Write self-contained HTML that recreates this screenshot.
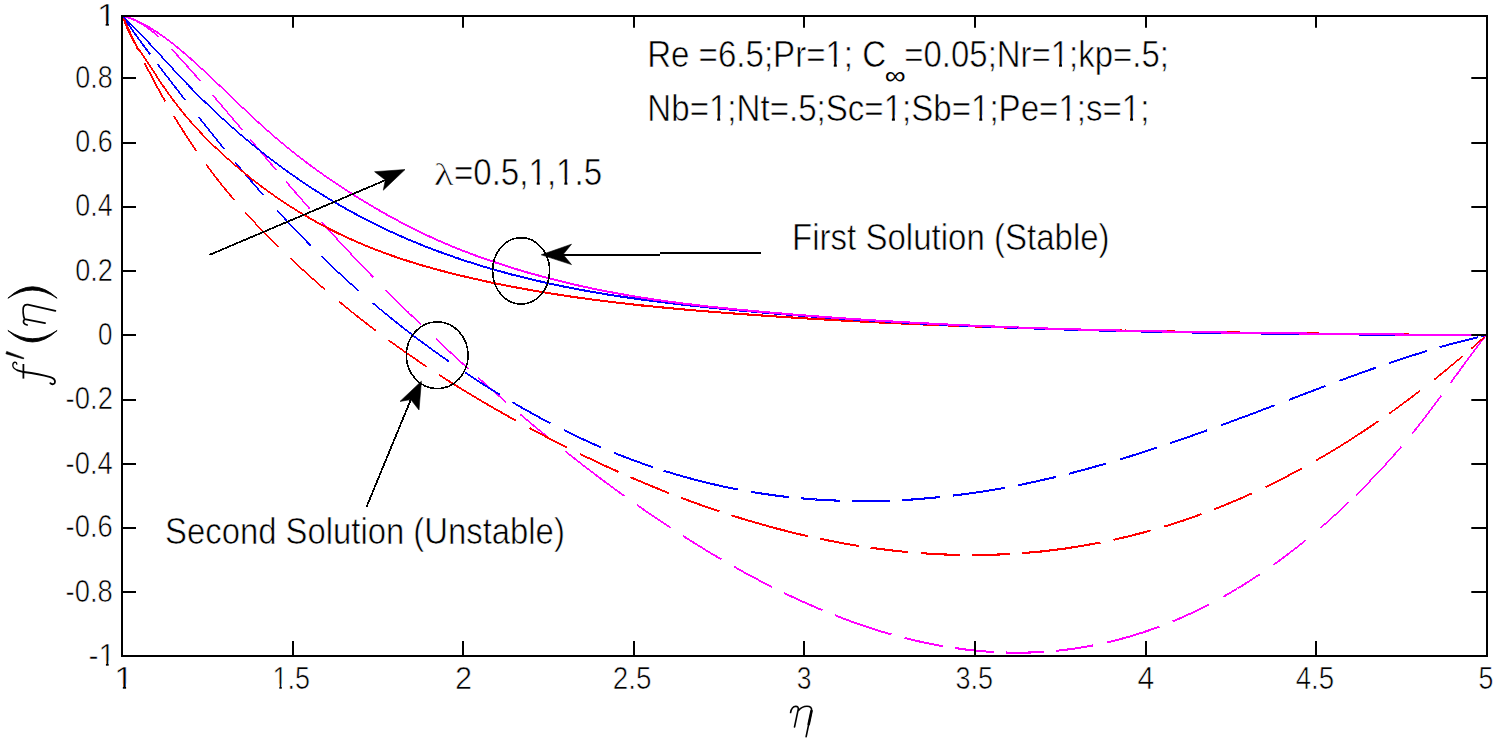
<!DOCTYPE html>
<html><head><meta charset="utf-8"><title>f'(eta) plot</title><style>
html,body{margin:0;padding:0;background:#fff;}
body{width:1499px;height:744px;overflow:hidden;position:relative;}
svg{position:absolute;left:0;top:0;display:block;}
text{font-family:"Liberation Sans",sans-serif;fill:#000;stroke:#fff;stroke-width:0.6px;}
.tk{font-size:27px;}
.an{font-size:34px;}
.ser{font-family:"Liberation Serif",serif;font-style:italic;}
</style></head><body>
<svg width="1499" height="744" viewBox="0 0 1499 744">
<rect x="0" y="0" width="1499" height="744" fill="#fff"/>

<path d="M369.3,273.2 370.1,274.0 370.9,274.9 371.7,275.7 372.5,276.5 M386.0,290.2 386.8,291.0 387.6,291.8 388.4,292.6 389.1,293.4 389.9,294.2 390.7,295.0 391.5,295.7 392.3,296.5 393.1,297.3 393.8,298.1 394.6,298.9 M394.6,298.9 395.4,299.7 396.2,300.4 397.0,301.2 397.8,302.0 398.5,302.8 399.3,303.6 400.1,304.3 400.9,305.1 401.7,305.9 402.5,306.7 403.2,307.4 M403.2,307.4 404.0,308.2 404.8,309.0 405.6,309.7 406.4,310.5 407.2,311.3 408.0,312.0 408.7,312.8 409.5,313.6 410.3,314.3 411.1,315.1 411.9,315.9 M411.9,315.9 412.7,316.6 413.4,317.4 414.2,318.1 415.0,318.9 415.8,319.7 416.6,320.4 417.4,321.2 418.1,321.9 418.9,322.7 419.7,323.5 420.5,324.2 M1356.6,494.6 1357.4,493.8 1358.2,493.0 1359.0,492.2 1359.8,491.4 1360.6,490.7 1361.3,489.9 1362.1,489.1 1362.9,488.3 1363.7,487.5 1364.5,486.7 1365.3,485.9 M1365.3,485.9 1366.1,485.1 1366.9,484.3 1367.7,483.4 1368.5,482.6 1369.3,481.8 1370.0,481.0 1370.8,480.2 1371.6,479.3 1372.4,478.5 1373.2,477.7" fill="none" stroke="#ff00ff" stroke-width="1.45" stroke-linecap="square" shape-rendering="crispEdges"/>
<path d="M172.1,49.8 172.9,50.6 173.7,51.5 174.5,52.3 175.3,53.2 176.1,54.0 176.9,54.9 177.7,55.7 178.5,56.6 179.3,57.4 180.1,58.3 M180.1,58.3 180.9,59.2 181.7,60.1 182.5,60.9 183.3,61.8 184.1,62.7 184.9,63.6 185.7,64.5 186.5,65.4 187.3,66.3 188.1,67.1 M321.9,222.4 322.7,223.3 323.5,224.2 324.3,225.0 325.1,225.9 325.9,226.8 326.6,227.7 327.4,228.5 328.2,229.4 329.0,230.3 329.8,231.1 M329.8,231.1 330.6,232.0 331.4,232.9 332.2,233.7 333.0,234.6 333.8,235.5 334.5,236.3 335.3,237.2 336.1,238.0 336.9,238.9 337.7,239.8 M337.7,239.8 338.5,240.6 339.3,241.5 340.1,242.3 340.9,243.2 341.7,244.0 342.5,244.9 343.2,245.7 344.0,246.6 344.8,247.4 345.6,248.3 M345.6,248.3 346.4,249.1 347.2,250.0 348.0,250.8 348.8,251.7 349.6,252.5 350.4,253.3 351.2,254.2 351.9,255.0 352.7,255.9 353.5,256.7 M353.5,256.7 354.3,257.5 355.1,258.4 355.9,259.2 356.7,260.0 357.5,260.9 358.3,261.7 359.1,262.5 359.9,263.4 360.6,264.2 361.4,265.0 M361.4,265.0 362.2,265.8 363.0,266.7 363.8,267.5 364.6,268.3 365.4,269.1 366.2,269.9 367.0,270.8 367.8,271.6 368.5,272.4 369.3,273.2 M436.5,339.4 437.3,340.2 438.1,340.9 438.8,341.6 439.6,342.4 440.4,343.1 441.2,343.8 442.0,344.6 442.8,345.3 443.5,346.0 444.3,346.8 445.1,347.5 M445.1,347.5 445.9,348.2 446.7,348.9 447.5,349.7 448.2,350.4 449.0,351.1 449.8,351.8 450.6,352.6 451.4,353.3 452.1,354.0 452.9,354.7 453.7,355.5 M453.7,355.5 454.5,356.2 455.3,356.9 456.1,357.6 456.8,358.3 457.6,359.1 458.4,359.8 459.2,360.5 460.0,361.2 460.8,361.9 461.5,362.6 462.3,363.3 M462.3,363.3 463.1,364.1 463.9,364.8 464.7,365.5 465.5,366.2 466.2,366.9 467.0,367.6 467.8,368.3 M1329.7,519.8 1330.5,519.1 1331.3,518.3 1332.1,517.6 1332.9,516.9 1333.7,516.2 1334.5,515.5 1335.3,514.8 1336.1,514.0 1336.9,513.3 1337.7,512.6 1338.5,511.9 M1338.5,511.9 1339.3,511.1 1340.1,510.4 1340.9,509.6 1341.6,508.9 1342.4,508.2 1343.2,507.4 1344.0,506.7 1344.8,505.9 1345.6,505.2 1346.4,504.4 1347.2,503.7 M1347.2,503.7 1348.0,502.9 M1373.2,477.7 1374.0,476.9 1374.8,476.0 1375.6,475.2 1376.4,474.4 1377.2,473.5 1378.0,472.7 1378.8,471.8 1379.5,471.0 1380.3,470.1 1381.1,469.3 M1381.1,469.3 1381.9,468.4 1382.7,467.6 1383.5,466.7 1384.3,465.8 1385.1,465.0 1385.9,464.1 1386.7,463.2 1387.5,462.3 1388.2,461.5 1389.0,460.6" fill="none" stroke="#ff00ff" stroke-width="1.50" stroke-linecap="square" shape-rendering="crispEdges"/>
<path d="M157.4,35.7 158.2,36.4 M188.1,67.1 188.9,68.0 189.7,68.9 190.5,69.8 191.3,70.7 192.1,71.6 192.9,72.5 193.7,73.4 194.5,74.3 195.3,75.3 M195.3,75.3 196.1,76.2 196.9,77.1 197.7,78.0 198.5,78.9 199.3,79.8 200.1,80.7 M213.0,95.6 213.8,96.5 214.6,97.4 215.4,98.3 216.1,99.2 216.9,100.1 217.7,101.0 218.5,102.0 219.3,102.9 220.1,103.8 M220.1,103.8 220.9,104.7 221.7,105.6 222.4,106.6 223.2,107.5 224.0,108.4 224.8,109.3 225.6,110.2 226.4,111.2 227.2,112.1 M227.2,112.1 227.9,113.0 228.7,113.9 229.5,114.9 230.3,115.8 231.1,116.7 231.9,117.6 232.7,118.6 233.4,119.5 234.2,120.4 M234.2,120.4 235.0,121.3 235.8,122.3 236.6,123.2 237.4,124.1 238.2,125.1 239.0,126.0 239.7,126.9 240.5,127.8 241.3,128.8 M241.3,128.8 242.1,129.7 M250.9,140.1 251.7,141.1 252.5,142.0 253.3,143.0 254.1,143.9 254.9,144.9 255.7,145.8 256.5,146.8 257.3,147.7 258.1,148.6 M258.1,148.6 258.9,149.6 259.7,150.5 260.5,151.5 261.3,152.4 262.1,153.4 262.9,154.3 263.7,155.3 264.5,156.2 265.3,157.2 M265.3,157.2 266.1,158.1 266.9,159.0 267.7,160.0 268.5,160.9 269.3,161.9 270.1,162.8 270.9,163.8 271.7,164.7 272.5,165.7 M272.5,165.7 273.3,166.6 274.1,167.5 274.9,168.5 275.7,169.4 M286.4,181.9 287.2,182.9 288.0,183.8 288.7,184.7 289.5,185.6 290.3,186.5 291.1,187.4 291.9,188.3 292.7,189.2 293.4,190.1 M293.4,190.1 294.2,191.0 295.0,191.9 295.8,192.8 296.6,193.7 297.4,194.6 298.1,195.5 298.9,196.4 299.7,197.3 300.5,198.2 M300.5,198.2 301.3,199.1 302.1,200.0 302.8,200.9 303.6,201.8 304.4,202.7 305.2,203.6 306.0,204.5 306.8,205.4 307.5,206.3 M307.5,206.3 308.3,207.2 309.1,208.1 M478.5,377.9 479.3,378.7 480.1,379.4 480.9,380.1 481.7,380.8 482.5,381.5 483.2,382.2 484.0,382.9 484.8,383.6 485.6,384.3 486.4,385.0 487.2,385.7 M487.2,385.7 488.0,386.4 488.8,387.1 489.6,387.8 490.4,388.5 491.2,389.2 491.9,389.9 492.7,390.6 493.5,391.3 494.3,392.0 495.1,392.6 495.9,393.3 M495.9,393.3 496.7,394.0 497.5,394.7 498.3,395.4 499.1,396.1 499.9,396.8 500.7,397.5 501.4,398.2 502.2,398.9 503.0,399.5 503.8,400.2 504.6,400.9 M504.6,400.9 505.4,401.6 M520.6,414.6 521.4,415.3 522.2,415.9 522.9,416.6 523.7,417.2 524.5,417.9 525.3,418.6 526.1,419.2 526.9,419.9 527.6,420.5 528.4,421.2 529.2,421.8 M1321.0,527.4 1321.8,526.7 1322.6,526.0 1323.4,525.4 1324.2,524.7 1325.0,524.0 1325.8,523.3 1326.6,522.6 1327.4,521.9 1328.1,521.2 1328.9,520.5 1329.7,519.8 M1389.0,460.6 1389.8,459.7 1390.6,458.8 1391.4,457.9 1392.2,457.0 1393.0,456.2 1393.8,455.3 1394.6,454.4 1395.4,453.5 1396.2,452.6 M1396.2,452.6 1396.9,451.6 1397.7,450.7 1398.5,449.8 1399.3,448.9 1400.1,448.0 1400.9,447.1" fill="none" stroke="#ff00ff" stroke-width="1.55" stroke-linecap="square" shape-rendering="crispEdges"/>
<path d="M148.7,28.7 149.5,29.3 150.3,29.9 151.1,30.5 151.9,31.1 152.7,31.7 153.5,32.4 154.2,33.0 155.0,33.7 155.8,34.4 156.6,35.0 157.4,35.7 M529.2,421.8 530.0,422.5 530.8,423.2 531.6,423.8 532.3,424.5 533.1,425.1 533.9,425.8 534.7,426.4 535.5,427.1 536.2,427.7 537.0,428.4 537.8,429.0 M537.8,429.0 538.6,429.7 539.4,430.3 540.2,430.9 540.9,431.6 541.7,432.2 542.5,432.9 543.3,433.5 544.1,434.2 544.9,434.8 545.6,435.4 546.4,436.1 M546.4,436.1 547.2,436.7 548.0,437.4 548.8,438.0 549.6,438.6 550.3,439.3 551.1,439.9 551.9,440.5 M565.8,451.7 566.6,452.3 567.4,452.9 568.2,453.6 569.0,454.2 569.8,454.8 570.6,455.4 571.4,456.1 572.2,456.7 573.0,457.3 573.8,457.9 574.6,458.6 M574.6,458.6 575.4,459.2 576.1,459.8 576.9,460.4 577.7,461.1 578.5,461.7 579.3,462.3 580.1,462.9 580.9,463.5 581.7,464.1 582.5,464.8 583.3,465.4 M1291.4,551.5 1292.2,550.9 1293.0,550.3 1293.8,549.7 1294.6,549.0 1295.4,548.4 1296.2,547.8 1297.0,547.2 1297.8,546.5 1298.6,545.9 1299.4,545.3 1300.2,544.6 M1300.2,544.6 1301.0,544.0 1301.8,543.4 1302.6,542.7 1303.4,542.1 1304.2,541.4 1305.0,540.8 M1412.8,432.9 1413.6,431.9 1414.4,430.9 1415.2,429.9 1416.0,428.9 1416.8,427.9 1417.6,426.9 1418.4,425.9 1419.2,424.8 M1419.2,424.8 1420.0,423.8 1420.8,422.8 1421.6,421.8 1422.4,420.7 1423.2,419.7 1424.0,418.7 1424.8,417.6 1425.6,416.6 M1476.5,347.8 1477.2,346.8 1478.0,345.7 1478.8,344.7 1479.6,343.7 1480.4,342.6 1481.2,341.6 1482.0,340.6 1482.8,339.5 M1482.8,339.5 1483.6,338.5 1484.4,337.5 1485.2,336.5 1486.0,335.5" fill="none" stroke="#ff00ff" stroke-width="1.60" stroke-linecap="square" shape-rendering="crispEdges"/>
<path d="M583.3,465.4 584.1,466.0 584.9,466.6 585.7,467.2 586.5,467.8 587.3,468.4 588.1,469.0 588.9,469.7 589.7,470.3 590.5,470.9 591.3,471.5 592.1,472.1 M592.1,472.1 592.9,472.7 593.7,473.3 594.5,473.9 595.2,474.5 596.0,475.1 596.8,475.7 597.6,476.3 598.4,476.9 599.2,477.5 600.0,478.1 600.8,478.7 M600.8,478.7 601.6,479.3 602.4,479.9 603.2,480.5 604.0,481.1 604.8,481.7 605.6,482.3 606.4,482.8 607.2,483.4 608.0,484.0 608.8,484.6 609.6,485.2 M609.6,485.2 610.4,485.8 611.2,486.4 612.0,487.0 612.8,487.5 613.6,488.1 614.3,488.7 615.1,489.3 615.9,489.9 616.7,490.5 617.5,491.0 618.3,491.6 M618.3,491.6 619.1,492.2 619.9,492.8 620.7,493.4 621.5,493.9 622.3,494.5 623.1,495.1 623.9,495.7 M1273.9,564.5 1274.7,563.9 1275.5,563.4 1276.3,562.8 1277.1,562.2 1277.9,561.6 1278.7,561.1 1279.5,560.5 1280.3,559.9 1281.1,559.3 1281.9,558.7 1282.7,558.1 M1282.7,558.1 1283.5,557.5 1284.3,556.9 1285.1,556.3 1285.9,555.7 1286.7,555.1 1287.5,554.5 1288.3,553.9 1289.1,553.3 1289.8,552.7 1290.6,552.1 1291.4,551.5 M1425.6,416.6 1426.4,415.5 1427.2,414.5 1428.0,413.4 1428.8,412.4 1429.6,411.3 1430.4,410.2 1431.2,409.2 1432.0,408.1 M1432.0,408.1 1432.8,407.0 1433.6,406.0 1434.4,404.9 1435.2,403.8 1436.0,402.7 1436.8,401.7 1437.6,400.6 1438.4,399.5 M1438.4,399.5 1439.2,398.4 1440.0,397.3 1440.8,396.2 M1451.0,382.3 1451.8,381.2 1452.6,380.1 1453.4,379.0 1454.2,377.9 1455.0,376.8 1455.8,375.7 1456.6,374.6 1457.4,373.6 M1457.4,373.6 1458.2,372.5 1459.0,371.4 1459.8,370.3 1460.5,369.2 1461.3,368.1 1462.1,367.0 1462.9,366.0 1463.7,364.9 M1463.7,364.9 1464.5,363.8 1465.3,362.7 1466.1,361.6 1466.9,360.6 1467.7,359.5 1468.5,358.4 1469.3,357.3 1470.1,356.3 M1470.1,356.3 1470.9,355.2 1471.7,354.1 1472.5,353.1 1473.3,352.0 1474.1,351.0 1474.9,349.9 1475.7,348.9 1476.5,347.8" fill="none" stroke="#ff00ff" stroke-width="1.65" stroke-linecap="square" shape-rendering="crispEdges"/>
<path d="M140.0,22.9 140.8,23.3 141.6,23.8 142.4,24.3 143.2,24.8 144.0,25.3 144.8,25.9 145.5,26.4 146.3,27.0 147.1,27.5 147.9,28.1 148.7,28.7 M637.7,505.5 638.5,506.0 639.3,506.6 640.1,507.1 640.9,507.7 641.6,508.2 642.4,508.8 643.2,509.3 644.0,509.9 644.8,510.4 645.6,510.9 646.4,511.5 M646.4,511.5 647.2,512.0 647.9,512.6 648.7,513.1 649.5,513.7 650.3,514.2 651.1,514.7 651.9,515.3 652.7,515.8 653.5,516.4 654.2,516.9 655.0,517.4 M655.0,517.4 655.8,518.0 656.6,518.5 657.4,519.0 658.2,519.6 659.0,520.1 659.8,520.6 660.5,521.1 661.3,521.7 662.1,522.2 662.9,522.7 663.7,523.3 M663.7,523.3 664.5,523.8 665.3,524.3 666.1,524.8 666.8,525.3 667.6,525.9 668.4,526.4 669.2,526.9 670.0,527.4 M1250.2,580.6 1251.0,580.1 1251.8,579.6 1252.6,579.0 1253.3,578.5 1254.1,578.0 1254.9,577.5 1255.7,577.0 1256.5,576.4 1257.3,575.9 1258.1,575.4 1258.9,574.9" fill="none" stroke="#ff00ff" stroke-width="1.70" stroke-linecap="square" shape-rendering="crispEdges"/>
<path d="M683.9,536.4 684.7,537.0 685.5,537.5 686.3,538.0 687.1,538.5 687.9,539.0 688.7,539.5 689.5,540.0 690.3,540.5 691.1,541.0 691.9,541.5 692.7,542.0 M692.7,542.0 693.5,542.5 694.3,543.0 695.1,543.5 695.9,544.0 696.7,544.5 697.5,545.0 698.3,545.5 699.1,546.0 699.9,546.5 700.7,547.0 701.5,547.4 M701.5,547.4 702.2,547.9 703.0,548.4 703.8,548.9 704.6,549.4 705.4,549.9 706.2,550.4 707.0,550.9 707.8,551.3 708.6,551.8 709.4,552.3 710.2,552.8 M710.2,552.8 711.0,553.3 711.8,553.7 712.6,554.2 713.4,554.7 714.2,555.2 715.0,555.6 715.8,556.1 716.6,556.6 717.4,557.1 718.2,557.5 719.0,558.0 M719.0,558.0 719.8,558.5 720.6,558.9 M1232.7,591.3 1233.5,590.8 1234.3,590.4 1235.1,589.9 1235.9,589.4 1236.7,588.9 1237.5,588.5 1238.3,588.0 1239.1,587.5 1239.9,587.0 1240.7,586.5 1241.5,586.1 M1241.5,586.1 1242.2,585.6 1243.0,585.1 1243.8,584.6 1244.6,584.1 1245.4,583.6 1246.2,583.1 1247.0,582.6 1247.8,582.1 1248.6,581.6 1249.4,581.1 1250.2,580.6" fill="none" stroke="#ff00ff" stroke-width="1.75" stroke-linecap="square" shape-rendering="crispEdges"/>
<path d="M734.5,566.9 735.3,567.4 736.1,567.8 736.9,568.3 737.7,568.7 738.5,569.2 739.3,569.6 740.1,570.1 740.9,570.5 741.7,570.9 742.5,571.4 743.3,571.8 M743.3,571.8 744.0,572.3 744.8,572.7 745.6,573.1 746.4,573.6 747.2,574.0 748.0,574.4 748.8,574.9 749.6,575.3 750.4,575.7 751.2,576.2 752.0,576.6 M752.0,576.6 752.8,577.0 753.6,577.4 754.4,577.9 755.2,578.3 756.0,578.7 756.8,579.1 757.6,579.5 758.4,580.0 759.2,580.4 760.0,580.8 760.8,581.2 M760.8,581.2 761.6,581.6 762.3,582.0 763.1,582.5 763.9,582.9 764.7,583.3 765.5,583.7 766.3,584.1 767.1,584.5 767.9,584.9 768.7,585.3 769.5,585.7 M1224.0,596.3 1224.8,595.9 1225.6,595.4 1226.4,595.0 1227.2,594.5 1228.0,594.1 1228.8,593.6 1229.6,593.2 1230.3,592.7 1231.1,592.2 1231.9,591.8 1232.7,591.3" fill="none" stroke="#ff00ff" stroke-width="1.80" stroke-linecap="square" shape-rendering="crispEdges"/>
<path d="M131.3,18.6 132.1,18.9 132.9,19.2 133.7,19.6 134.5,19.9 135.3,20.3 136.0,20.7 136.8,21.1 137.6,21.5 138.4,22.0 139.2,22.4 140.0,22.9 M769.5,585.7 770.3,586.1 771.1,586.5 M785.0,593.4 785.8,593.8 786.6,594.2 787.4,594.5 788.2,594.9 789.0,595.3 789.8,595.7 790.6,596.1 791.3,596.4 792.1,596.8 792.9,597.2 793.7,597.5 M793.7,597.5 794.5,597.9 795.3,598.3 796.1,598.7 796.9,599.0 797.7,599.4 798.5,599.8 799.3,600.1 800.1,600.5 800.9,600.8 801.7,601.2 802.5,601.6 M802.5,601.6 803.2,601.9 804.0,602.3 804.8,602.6 805.6,603.0 806.4,603.3 807.2,603.7 808.0,604.0 808.8,604.4 809.6,604.7 810.4,605.1 811.2,605.4 M1182.2,617.3 1183.0,616.9 1183.8,616.6 1184.6,616.2 1185.4,615.9 1186.2,615.5 1187.0,615.1 1187.8,614.8 1188.6,614.4 1189.4,614.1 1190.2,613.7 1191.0,613.3 M1191.0,613.3 1191.7,612.9 1192.5,612.6 1193.3,612.2 1194.1,611.8 1194.9,611.4 1195.7,611.1 1196.5,610.7 1197.3,610.3 1198.1,609.9 1198.9,609.5 1199.7,609.1 M1199.7,609.1 1200.5,608.7 1201.3,608.3 1202.1,607.9 1202.9,607.5 1203.7,607.1 1204.5,606.7 1205.3,606.3 1206.1,605.9 1206.9,605.5 1207.7,605.1 1208.5,604.7" fill="none" stroke="#ff00ff" stroke-width="1.85" stroke-linecap="square" shape-rendering="crispEdges"/>
<path d="M811.2,605.4 812.0,605.8 812.8,606.1 813.6,606.5 814.4,606.8 815.2,607.2 815.9,607.5 816.7,607.8 817.5,608.2 818.3,608.5 819.1,608.8 819.9,609.2 M819.9,609.2 820.7,609.5 821.5,609.8 M835.8,615.6 836.6,615.9 837.4,616.2 838.2,616.6 839.0,616.9 839.8,617.2 840.6,617.5 841.3,617.8 842.1,618.1 842.9,618.4 843.7,618.7 844.5,619.0 M844.5,619.0 845.3,619.3 846.1,619.6 846.9,619.9 847.7,620.1 848.5,620.4 849.3,620.7 850.1,621.0 850.9,621.3 851.7,621.6 852.4,621.9 853.2,622.2 M1173.4,621.0 1174.2,620.7 1175.0,620.4 1175.8,620.0 1176.6,619.7 1177.4,619.4 1178.2,619.0 1179.0,618.7 1179.8,618.3 1180.6,618.0 1181.4,617.6 1182.2,617.3" fill="none" stroke="#ff00ff" stroke-width="1.90" stroke-linecap="square" shape-rendering="crispEdges"/>
<path d="M122.6,16.0 123.4,16.2 124.2,16.3 125.0,16.5 125.8,16.7 126.6,16.9 127.3,17.2 128.1,17.4 128.9,17.7 129.7,18.0 130.5,18.3 131.3,18.6 M853.2,622.2 854.0,622.4 854.8,622.7 855.6,623.0 856.4,623.3 857.2,623.6 858.0,623.8 858.8,624.1 859.6,624.4 860.4,624.7 861.2,624.9 862.0,625.2 M862.0,625.2 862.8,625.5 863.5,625.8 864.3,626.0 865.1,626.3 865.9,626.6 866.7,626.8 867.5,627.1 868.3,627.3 869.1,627.6 869.9,627.9 870.7,628.1 M870.7,628.1 871.5,628.4 872.3,628.6 873.1,628.9 873.9,629.1 874.6,629.4 875.4,629.6 876.2,629.9 877.0,630.1 877.8,630.4 878.6,630.6 879.4,630.9 M879.4,630.9 880.2,631.1 881.0,631.4 881.8,631.6 882.6,631.8 883.4,632.1 884.2,632.3 885.0,632.5 885.7,632.8 886.5,633.0 887.3,633.2 888.1,633.5 M888.1,633.5 888.9,633.7 889.7,633.9 890.5,634.1 M1125.3,637.8 1126.1,637.5 1126.9,637.3 1127.7,637.1 1128.5,636.9 1129.2,636.6 1130.0,636.4 1130.8,636.2 1131.6,635.9 1132.4,635.7 1133.2,635.5 1134.0,635.2 M1134.0,635.2 1134.8,635.0 1135.6,634.7 1136.4,634.5 1137.2,634.2 1137.9,634.0 1138.7,633.7 1139.5,633.5 1140.3,633.2 1141.1,633.0 1141.9,632.7 1142.7,632.5 M1142.7,632.5 1143.5,632.2 1144.3,631.9 1145.1,631.7 1145.8,631.4 1146.6,631.1 1147.4,630.9 1148.2,630.6 1149.0,630.3 1149.8,630.1 1150.6,629.8 1151.4,629.5 M1151.4,629.5 1152.2,629.2 1153.0,628.9 1153.8,628.7 1154.5,628.4 1155.3,628.1 1156.1,627.8 1156.9,627.5 1157.7,627.2 1158.5,626.9" fill="none" stroke="#ff00ff" stroke-width="1.95" stroke-linecap="square" shape-rendering="crispEdges"/>
<path d="M905.5,638.2 906.3,638.4 907.1,638.6 907.9,638.8 908.7,639.0 909.5,639.2 910.3,639.4 911.1,639.6 911.9,639.7 912.7,639.9 913.5,640.1 914.3,640.3 M914.3,640.3 915.0,640.5 915.8,640.7 916.6,640.9 917.4,641.1 918.2,641.2 919.0,641.4 919.8,641.6 920.6,641.8 921.4,641.9 922.2,642.1 923.0,642.3 M923.0,642.3 923.8,642.5 924.6,642.6 925.4,642.8 926.2,643.0 927.0,643.1 927.8,643.3 928.6,643.5 929.4,643.6 930.2,643.8 931.0,643.9 931.8,644.1 M931.8,644.1 932.6,644.3 933.3,644.4 934.1,644.6 934.9,644.7 935.7,644.9 936.5,645.0 937.3,645.2 938.1,645.3 938.9,645.5 939.7,645.6 940.5,645.7 M940.5,645.7 941.3,645.9 942.1,646.0 M1074.9,648.5 1075.7,648.4 1076.5,648.3 1077.3,648.1 1078.1,648.0 1078.9,647.9 1079.7,647.8 1080.5,647.7 1081.3,647.5 1082.1,647.4 1082.9,647.3 1083.7,647.1 M1083.7,647.1 1084.4,647.0 1085.2,646.9 1086.0,646.7 1086.8,646.6 1087.6,646.4 1088.4,646.3 1089.2,646.1 1090.0,646.0 1090.8,645.8 1091.6,645.7 1092.4,645.5 M1107.9,642.2 1108.7,642.1 1109.5,641.9 1110.3,641.7 1111.1,641.5 1111.9,641.3 1112.6,641.1 1113.4,640.9 1114.2,640.7 1115.0,640.5 1115.8,640.3 1116.6,640.1 M1116.6,640.1 1117.4,639.9 1118.2,639.7 1119.0,639.5 1119.8,639.3 1120.6,639.1 1121.3,638.9 1122.1,638.6 1122.9,638.4 1123.7,638.2 1124.5,638.0 1125.3,637.8" fill="none" stroke="#ff00ff" stroke-width="2.00" stroke-linecap="square" shape-rendering="crispEdges"/>
<path d="M955.8,648.2 956.6,648.3 957.4,648.4 958.2,648.5 959.0,648.6 959.7,648.8 960.5,648.9 961.3,649.0 962.1,649.1 962.9,649.2 963.7,649.3 964.5,649.4 M964.5,649.4 965.3,649.5 966.1,649.6 966.9,649.7 967.6,649.7 968.4,649.8 969.2,649.9 970.0,650.0 970.8,650.1 971.6,650.2 972.4,650.3 973.2,650.4 M973.2,650.4 974.0,650.4 974.7,650.5 975.5,650.6 976.3,650.7 977.1,650.8 977.9,650.8 978.7,650.9 979.5,651.0 980.3,651.0 981.1,651.1 981.8,651.2 M981.8,651.2 982.6,651.2 983.4,651.3 984.2,651.4 985.0,651.4 985.8,651.5 986.6,651.6 987.4,651.6 988.2,651.7 989.0,651.7 989.7,651.8 990.5,651.8 M990.5,651.8 991.3,651.9 992.1,651.9 992.9,652.0 M1006.6,652.5 1007.4,652.6 1008.2,652.6 1009.0,652.6 1009.8,652.6 1010.6,652.6 1011.4,652.6 1012.2,652.6 1012.9,652.7 1013.7,652.7 1014.5,652.7 1015.3,652.7 M1015.3,652.7 1016.1,652.7 1016.9,652.7 1017.7,652.7 1018.5,652.7 1019.3,652.7 1020.1,652.7 1020.9,652.7 1021.7,652.7 1022.5,652.6 1023.3,652.6 1024.1,652.6 M1024.1,652.6 1024.8,652.6 1025.6,652.6 1026.4,652.6 1027.2,652.6 1028.0,652.5 1028.8,652.5 1029.6,652.5 1030.4,652.5 1031.2,652.4 1032.0,652.4 1032.8,652.4 M1032.8,652.4 1033.6,652.3 1034.4,652.3 1035.2,652.3 1036.0,652.2 1036.8,652.2 1037.5,652.2 1038.3,652.1 1039.1,652.1 1039.9,652.0 1040.7,652.0 1041.5,651.9 M1041.5,651.9 1042.3,651.9 1043.1,651.8 M1057.4,650.7 1058.2,650.6 1059.0,650.5 1059.8,650.4 1060.6,650.3 1061.4,650.2 1062.2,650.2 1063.0,650.1 1063.8,650.0 1064.6,649.9 1065.4,649.8 1066.2,649.7 M1066.2,649.7 1066.9,649.6 1067.7,649.5 1068.5,649.4 1069.3,649.3 1070.1,649.2 1070.9,649.1 1071.7,649.0 1072.5,648.8 1073.3,648.7 1074.1,648.6 1074.9,648.5" fill="none" stroke="#ff00ff" stroke-width="2.05" stroke-linecap="square" shape-rendering="crispEdges"/>
<path d="M301.4,236.3 302.2,237.1 303.0,237.9 303.8,238.7 304.6,239.5 305.4,240.3 306.2,241.1 306.9,241.9 307.7,242.7 308.5,243.5 309.3,244.3 M309.3,244.3 310.1,245.1" fill="none" stroke="#0000ff" stroke-width="1.45" stroke-linecap="square" shape-rendering="crispEdges"/>
<path d="M277.8,211.2 278.6,212.1 279.4,212.9 280.2,213.8 281.0,214.6 281.7,215.5 282.5,216.3 283.3,217.2 284.1,218.0 284.9,218.9 285.7,219.7 M285.7,219.7 286.5,220.6 287.3,221.4 288.0,222.3 288.8,223.1 289.6,223.9 290.4,224.8 291.2,225.6 292.0,226.4 292.8,227.3 293.6,228.1 M293.6,228.1 294.3,228.9 295.1,229.7 295.9,230.6 296.7,231.4 297.5,232.2 298.3,233.0 299.1,233.8 299.9,234.7 300.6,235.5 301.4,236.3 M321.9,256.7 322.7,257.5 323.5,258.3 324.3,259.0 325.0,259.8 325.8,260.5 326.6,261.3 327.4,262.1 328.2,262.8 329.0,263.6 329.8,264.3 330.6,265.1 M330.6,265.1 331.3,265.8 332.1,266.6 332.9,267.3 333.7,268.0 334.5,268.8 335.3,269.5 336.1,270.3 336.9,271.0 337.6,271.7 338.4,272.5 339.2,273.2 M339.2,273.2 340.0,273.9 340.8,274.7 341.6,275.4 342.4,276.1 343.1,276.8 343.9,277.6 344.7,278.3 345.5,279.0 346.3,279.7 347.1,280.4 347.9,281.1" fill="none" stroke="#0000ff" stroke-width="1.50" stroke-linecap="square" shape-rendering="crispEdges"/>
<path d="M235.9,163.0 236.7,164.0 237.5,164.9 238.3,165.9 239.1,166.8 239.9,167.8 240.6,168.7 241.4,169.6 242.2,170.6 243.0,171.5 M243.0,171.5 243.8,172.5 244.6,173.4 245.4,174.3 246.2,175.3 247.0,176.2 247.8,177.1 248.6,178.0 249.4,179.0 250.1,179.9 M250.1,179.9 250.9,180.8 251.7,181.7 252.5,182.7 253.3,183.6 254.1,184.5 254.9,185.4 255.7,186.3 256.5,187.2 257.3,188.1 M257.3,188.1 258.1,189.1 258.8,190.0 259.6,190.9 260.4,191.8 261.2,192.7 262.0,193.6 262.8,194.5 M347.9,281.1 348.7,281.9 349.4,282.6 350.2,283.3 351.0,284.0 351.8,284.7 352.6,285.4 353.4,286.1 354.2,286.8 355.0,287.5 355.7,288.2 356.5,288.9 M356.5,288.9 357.3,289.6 358.1,290.3 M373.1,303.3 373.9,303.9 374.7,304.6 375.5,305.3 376.3,306.0 377.1,306.6 377.9,307.3 378.6,307.9 379.4,308.6 380.2,309.3 381.0,309.9 381.8,310.6" fill="none" stroke="#0000ff" stroke-width="1.55" stroke-linecap="square" shape-rendering="crispEdges"/>
<path d="M164.5,73.2 165.2,74.2 166.0,75.2 166.8,76.3 167.6,77.3 168.4,78.3 169.2,79.4 170.0,80.4 170.8,81.4 M170.8,81.4 171.6,82.4 172.4,83.5 173.2,84.5 174.0,85.5 174.8,86.6 175.6,87.6 176.4,88.6 177.2,89.6 M177.2,89.6 178.0,90.6 178.7,91.7 179.5,92.7 180.3,93.7 181.1,94.7 181.9,95.8 182.7,96.8 183.5,97.8 M183.5,97.8 184.3,98.8 185.1,99.8 M199.0,117.5 199.8,118.5 200.6,119.5 201.3,120.4 202.1,121.4 202.9,122.4 203.7,123.4 204.4,124.3 205.2,125.3 206.0,126.3 M206.0,126.3 206.8,127.3 207.5,128.2 208.3,129.2 209.1,130.2 209.8,131.1 210.6,132.1 211.4,133.1 212.2,134.0 213.0,135.0 M213.0,135.0 213.7,136.0 214.5,136.9 215.3,137.9 216.1,138.8 216.8,139.8 217.6,140.8 218.4,141.7 219.2,142.7 219.9,143.6 M219.9,143.6 220.7,144.6 221.5,145.5 222.2,146.5 223.0,147.4 223.8,148.4 M381.8,310.6 382.6,311.2 383.4,311.9 384.2,312.5 385.0,313.2 385.8,313.8 386.6,314.5 387.4,315.1 388.2,315.8 389.0,316.4 389.7,317.1 390.5,317.7 M390.5,317.7 391.3,318.4 392.1,319.0 392.9,319.6 393.7,320.3 394.5,320.9 395.3,321.5 396.1,322.2 396.9,322.8 397.7,323.4 398.5,324.1 399.3,324.7 M399.3,324.7 400.0,325.3 400.8,325.9 401.6,326.6 402.4,327.2 403.2,327.8 404.0,328.4 404.8,329.0 405.6,329.7 406.4,330.3 407.2,330.9 408.0,331.5" fill="none" stroke="#0000ff" stroke-width="1.60" stroke-linecap="square" shape-rendering="crispEdges"/>
<path d="M128.2,24.1 129.0,25.2 129.7,26.3 130.5,27.5 131.3,28.6 132.1,29.7 132.9,30.8 133.7,31.9 134.5,33.1 M134.5,33.1 135.3,34.2 136.1,35.3 136.9,36.4 137.7,37.5 138.5,38.6 139.3,39.7 140.1,40.8 140.9,41.8 M140.9,41.8 141.7,42.9 142.5,44.0 143.2,45.1 144.0,46.2 144.8,47.2 145.6,48.3 146.4,49.4 147.2,50.4 M147.2,50.4 148.0,51.5 148.8,52.6 149.6,53.6 M158.1,64.9 158.9,65.9 159.7,67.0 160.5,68.0 161.3,69.0 162.1,70.1 162.9,71.1 163.7,72.1 164.5,73.2 M408.0,331.5 408.8,332.1 409.6,332.7 410.4,333.3 411.1,333.9 411.9,334.6 412.7,335.2 413.5,335.8 414.3,336.4 415.1,337.0 415.9,337.6 416.7,338.2 M416.7,338.2 417.5,338.8 418.3,339.4 419.1,340.0 419.9,340.6 420.7,341.1 421.5,341.7 422.2,342.3 423.0,342.9 423.8,343.5 424.6,344.1 425.4,344.7 M425.4,344.7 426.2,345.3 427.0,345.8 427.8,346.4 428.6,347.0 429.4,347.6 430.2,348.2 431.0,348.7 431.8,349.3 432.5,349.9 433.3,350.5 434.1,351.0 M434.1,351.0 434.9,351.6 435.7,352.2 436.5,352.7 437.3,353.3 438.1,353.9 438.9,354.4 439.7,355.0 440.5,355.6 441.3,356.1 442.1,356.7 442.9,357.3" fill="none" stroke="#0000ff" stroke-width="1.65" stroke-linecap="square" shape-rendering="crispEdges"/>
<path d="M122.6,16.0 123.4,17.2 124.2,18.3 125.0,19.5 125.8,20.6 126.6,21.8 127.4,22.9 128.2,24.1 M442.9,357.3 443.6,357.8 444.4,358.4 445.2,358.9 446.0,359.5 446.8,360.0 447.6,360.6 448.4,361.1 M465.5,372.8 466.3,373.3 467.1,373.8 467.9,374.3 468.6,374.9 469.4,375.4 470.2,375.9 471.0,376.4 471.8,376.9 472.6,377.4 473.3,378.0 474.1,378.5 M474.1,378.5 474.9,379.0 475.7,379.5 476.5,380.0 477.3,380.5 478.0,381.0 478.8,381.5 479.6,382.0 480.4,382.5 481.2,383.0 482.0,383.5 482.7,384.0" fill="none" stroke="#0000ff" stroke-width="1.70" stroke-linecap="square" shape-rendering="crispEdges"/>
<path d="M482.7,384.0 483.5,384.5 484.3,385.0 485.1,385.5 485.9,386.0 486.7,386.5 487.4,387.0 488.2,387.5 489.0,388.0 489.8,388.5 490.6,389.0 491.4,389.5 M491.4,389.5 492.1,389.9 492.9,390.4 493.7,390.9 494.5,391.4 495.3,391.9 496.1,392.4 496.8,392.8 497.6,393.3 498.4,393.8 499.2,394.3 M513.1,402.6 513.9,403.1 514.7,403.5 515.5,404.0 516.3,404.5 517.1,404.9 517.9,405.4 518.7,405.8 519.5,406.3 520.3,406.7 521.1,407.2 521.9,407.7" fill="none" stroke="#0000ff" stroke-width="1.75" stroke-linecap="square" shape-rendering="crispEdges"/>
<path d="M521.9,407.7 522.6,408.1 523.4,408.6 524.2,409.0 525.0,409.5 525.8,409.9 526.6,410.4 527.4,410.8 528.2,411.3 529.0,411.7 529.8,412.1 530.6,412.6 M530.6,412.6 531.4,413.0 532.2,413.5 533.0,413.9 533.8,414.3 534.6,414.8 535.4,415.2 536.2,415.6 537.0,416.1 537.8,416.5 538.6,416.9 539.4,417.4 M539.4,417.4 540.2,417.8 540.9,418.2 541.7,418.7 542.5,419.1 543.3,419.5 544.1,419.9 544.9,420.4 545.7,420.8 546.5,421.2 547.3,421.6 548.1,422.0 M548.1,422.0 548.9,422.5 549.7,422.9" fill="none" stroke="#0000ff" stroke-width="1.80" stroke-linecap="square" shape-rendering="crispEdges"/>
<path d="M564.7,430.5 565.5,430.9 566.3,431.3 567.1,431.7 567.9,432.1 568.7,432.4 569.4,432.8 570.2,433.2 571.0,433.6 571.8,434.0 572.6,434.4 573.4,434.7 M573.4,434.7 574.2,435.1 575.0,435.5 575.8,435.9 576.6,436.3 577.4,436.6 578.1,437.0 578.9,437.4 579.7,437.7 580.5,438.1 581.3,438.5 582.1,438.9 M582.1,438.9 582.9,439.2 583.7,439.6 584.5,439.9 585.3,440.3 586.1,440.7 586.9,441.0 587.6,441.4 588.4,441.8 589.2,442.1 590.0,442.5 590.8,442.8" fill="none" stroke="#0000ff" stroke-width="1.85" stroke-linecap="square" shape-rendering="crispEdges"/>
<path d="M590.8,442.8 591.6,443.2 592.4,443.5 593.2,443.9 594.0,444.2 594.8,444.6 595.6,444.9 596.3,445.3 597.1,445.6 597.9,446.0 598.7,446.3 599.5,446.7 M599.5,446.7 600.3,447.0 M615.2,453.2 616.0,453.5 616.8,453.9 617.6,454.2 618.4,454.5 619.2,454.8 620.0,455.1 620.8,455.4 621.6,455.8 622.4,456.1 623.2,456.4 624.0,456.7 M624.0,456.7 624.7,457.0 625.5,457.3 626.3,457.6 627.1,457.9 627.9,458.2 628.7,458.5 629.5,458.8 630.3,459.1 631.1,459.4 631.9,459.7 632.7,460.0 M1221.8,425.0 1222.6,424.7 1223.4,424.4 1224.2,424.1 1225.0,423.8 1225.8,423.5 1226.6,423.2 1227.4,422.9 1228.2,422.7 1229.0,422.4 1229.8,422.1 1230.6,421.8 M1230.6,421.8 1231.4,421.5 1232.2,421.2 1233.0,420.9 1233.8,420.6 1234.6,420.3 1235.3,420.0 1236.1,419.7 1236.9,419.4 1237.7,419.1 1238.5,418.8 1239.3,418.5 M1239.3,418.5 1240.1,418.2 1240.9,417.9 1241.7,417.6 1242.5,417.4 1243.3,417.1 1244.1,416.8 1244.9,416.5 1245.7,416.2 1246.5,415.9 1247.3,415.6 1248.1,415.3 M1248.1,415.3 1248.9,415.0 1249.7,414.7 1250.5,414.4 1251.3,414.1 1252.1,413.8 1252.9,413.5 1253.7,413.2 1254.5,412.9 1255.3,412.6 1256.1,412.3 1256.9,412.0 M1256.9,412.0 1257.7,411.7 1258.5,411.4 1259.3,411.1 1260.1,410.8 1260.8,410.5 1261.6,410.2 1262.4,409.9 1263.2,409.6 1264.0,409.3 1264.8,409.0 1265.6,408.7 M1265.6,408.7 1266.4,408.4 1267.2,408.1 1268.0,407.8 1268.8,407.5 1269.6,407.2 1270.4,406.9 1271.2,406.6 1272.0,406.3 1272.8,406.0 1273.6,405.7 M1289.6,399.6 1290.4,399.3 1291.2,399.0 1292.0,398.7 1292.8,398.4 1293.6,398.1 1294.4,397.8 1295.2,397.5 1296.0,397.2 1296.8,396.9 1297.6,396.6 1298.3,396.3 M1298.3,396.3 1299.1,396.0 1299.9,395.7 1300.7,395.4 1301.5,395.1 1302.3,394.8 1303.1,394.5 1303.9,394.2 1304.7,393.9 1305.5,393.5 1306.3,393.2 1307.1,392.9 M1307.1,392.9 1307.9,392.6 1308.7,392.3 1309.5,392.0 1310.3,391.7 1311.1,391.4 1311.9,391.1 1312.7,390.8 1313.5,390.5 1314.3,390.2 1315.1,389.9 1315.8,389.6 M1315.8,389.6 1316.6,389.3 1317.4,389.0 1318.2,388.7 1319.0,388.4 1319.8,388.1 1320.6,387.8 1321.4,387.5 1322.2,387.2 1323.0,386.9 1323.8,386.6 1324.6,386.3 M1340.3,380.5 1341.1,380.2 1341.9,379.9 1342.6,379.6 1343.4,379.3 1344.2,379.0 1345.0,378.7 1345.8,378.5 1346.6,378.2 1347.3,377.9 1348.1,377.6 1348.9,377.3" fill="none" stroke="#0000ff" stroke-width="1.90" stroke-linecap="square" shape-rendering="crispEdges"/>
<path d="M632.7,460.0 633.5,460.3 634.3,460.6 635.1,460.9 635.9,461.2 636.7,461.5 637.5,461.8 638.3,462.1 639.1,462.3 639.9,462.6 640.7,462.9 641.5,463.2 M641.5,463.2 642.3,463.5 643.0,463.8 643.8,464.0 644.6,464.3 645.4,464.6 646.2,464.9 647.0,465.1 647.8,465.4 648.6,465.7 649.4,466.0 650.2,466.2 M650.2,466.2 651.0,466.5 651.8,466.8 M664.6,471.0 665.4,471.2 666.2,471.5 667.0,471.7 667.8,472.0 668.6,472.2 669.4,472.4 670.2,472.7 671.0,472.9 671.8,473.2 672.6,473.4 673.4,473.7 M673.4,473.7 674.2,473.9 675.0,474.1 675.8,474.4 676.6,474.6 677.4,474.8 678.2,475.1 679.0,475.3 679.8,475.5 680.6,475.8 681.4,476.0 682.2,476.2 M1095.9,466.4 1096.7,466.2 1097.5,466.0 1098.3,465.8 1099.0,465.5 1099.8,465.3 1100.6,465.1 1101.4,464.9 1102.2,464.6 1103.0,464.4 1103.7,464.2 1104.5,464.0 M1104.5,464.0 1105.3,463.7 M1120.8,459.1 1121.6,458.9 1122.4,458.7 1123.2,458.4 1124.0,458.2 1124.7,457.9 1125.5,457.7 1126.3,457.4 1127.1,457.2 1127.9,457.0 1128.7,456.7 1129.5,456.5 M1129.5,456.5 1130.3,456.2 1131.1,456.0 1131.8,455.7 1132.6,455.5 1133.4,455.2 1134.2,455.0 1135.0,454.7 1135.8,454.5 1136.6,454.2 1137.4,454.0 1138.2,453.7 M1138.2,453.7 1138.9,453.5 1139.7,453.2 1140.5,453.0 1141.3,452.7 1142.1,452.5 1142.9,452.2 1143.7,452.0 1144.5,451.7 1145.3,451.5 1146.0,451.2 1146.8,451.0 M1146.8,451.0 1147.6,450.7 1148.4,450.5 1149.2,450.2 1150.0,449.9 1150.8,449.7 1151.6,449.4 1152.4,449.2 1153.1,448.9 1153.9,448.6 1154.7,448.4 1155.5,448.1 M1155.5,448.1 1156.3,447.9 M1170.8,443.0 1171.6,442.7 1172.4,442.5 1173.1,442.2 1173.9,441.9 1174.7,441.7 1175.5,441.4 1176.3,441.1 1177.1,440.9 1177.8,440.6 1178.6,440.3 1179.4,440.1 M1179.4,440.1 1180.2,439.8 1181.0,439.5 1181.8,439.3 1182.5,439.0 1183.3,438.7 1184.1,438.4 1184.9,438.2 1185.7,437.9 1186.4,437.6 1187.2,437.4 1188.0,437.1 M1188.0,437.1 1188.8,436.8 1189.6,436.5 1190.4,436.3 1191.1,436.0 1191.9,435.7 1192.7,435.4 1193.5,435.2 1194.3,434.9 1195.0,434.6 1195.8,434.3 1196.6,434.1 M1196.6,434.1 1197.4,433.8 1198.2,433.5 1199.0,433.2 1199.7,432.9 1200.5,432.7 1201.3,432.4 1202.1,432.1 1202.9,431.8 1203.7,431.5 1204.4,431.3 1205.2,431.0 M1205.2,431.0 1206.0,430.7 M1348.9,377.3 1349.7,377.0 1350.5,376.7 1351.3,376.5 1352.0,376.2 1352.8,375.9 1353.6,375.6 1354.4,375.3 1355.2,375.0 1355.9,374.7 1356.7,374.5 1357.5,374.2 M1357.5,374.2 1358.3,373.9 1359.1,373.6 1359.9,373.3 1360.6,373.1 1361.4,372.8 1362.2,372.5 1363.0,372.2 1363.8,371.9 1364.5,371.7 1365.3,371.4 1366.1,371.1 M1366.1,371.1 1366.9,370.8 1367.7,370.5 1368.5,370.3 1369.2,370.0 1370.0,369.7 1370.8,369.4 1371.6,369.2 1372.4,368.9 1373.2,368.6 1373.9,368.3 1374.7,368.1 M1374.7,368.1 1375.5,367.8 M1389.8,362.9 1390.6,362.6 1391.4,362.3 1392.2,362.1 1393.0,361.8 1393.8,361.5 1394.6,361.3 1395.4,361.0 1396.1,360.7 1396.9,360.5 1397.7,360.2 1398.5,359.9 M1398.5,359.9 1399.3,359.7 1400.1,359.4 1400.9,359.1 1401.7,358.9 1402.5,358.6 1403.3,358.4 1404.1,358.1 1404.9,357.9 1405.7,357.6 1406.5,357.3 1407.3,357.1 M1407.3,357.1 1408.0,356.8 1408.8,356.6 1409.6,356.3 1410.4,356.1 1411.2,355.8 1412.0,355.6 1412.8,355.3 1413.6,355.1 1414.4,354.8 1415.2,354.6 1416.0,354.3 M1416.0,354.3 1416.8,354.1 1417.6,353.8 1418.4,353.6 1419.2,353.3 1420.0,353.1 1420.7,352.8 1421.5,352.6 1422.3,352.3 1423.1,352.1 1423.9,351.9 1424.7,351.6 M1424.7,351.6 1425.5,351.4 1426.3,351.1 M1440.6,346.9 1441.4,346.7 1442.2,346.5 1443.0,346.3 1443.8,346.0 1444.6,345.8 1445.4,345.6 1446.2,345.4 1446.9,345.2 1447.7,344.9 1448.5,344.7 1449.3,344.5" fill="none" stroke="#0000ff" stroke-width="1.95" stroke-linecap="square" shape-rendering="crispEdges"/>
<path d="M682.2,476.2 683.0,476.4 683.8,476.7 684.6,476.9 685.4,477.1 686.2,477.3 687.0,477.6 687.8,477.8 688.6,478.0 689.4,478.2 690.2,478.4 691.0,478.7 M691.0,478.7 691.8,478.9 692.6,479.1 693.4,479.3 694.2,479.5 695.0,479.7 695.8,479.9 696.6,480.1 697.4,480.3 698.2,480.5 699.0,480.7 699.8,481.0 M699.8,481.0 700.6,481.2 701.3,481.4 702.1,481.6 702.9,481.8 703.7,482.0 704.5,482.2 705.3,482.3 706.1,482.5 706.9,482.7 707.7,482.9 708.5,483.1 M708.5,483.1 709.3,483.3 710.1,483.5 710.9,483.7 711.7,483.9 712.5,484.1 713.3,484.2 714.1,484.4 714.9,484.6 715.7,484.8 716.5,485.0 717.3,485.2 M717.3,485.2 718.1,485.3 718.9,485.5 719.7,485.7 720.5,485.9 721.3,486.0 722.1,486.2 722.9,486.4 723.7,486.6 724.5,486.7 725.3,486.9 726.1,487.1 M726.1,487.1 726.9,487.2 727.7,487.4 728.5,487.6 729.3,487.7 730.1,487.9 730.9,488.1 731.7,488.2 732.5,488.4 733.3,488.5 734.1,488.7 734.9,488.9 M734.9,488.9 735.7,489.0 736.5,489.2 737.3,489.3 M751.7,491.9 752.5,492.0 753.3,492.2 754.1,492.3 754.9,492.4 755.7,492.6 756.5,492.7 757.3,492.8 758.1,493.0 758.9,493.1 759.7,493.2 760.5,493.3 M979.8,491.9 980.6,491.8 981.4,491.7 982.1,491.6 982.9,491.5 983.7,491.3 984.5,491.2 985.3,491.1 986.1,491.0 986.9,490.8 987.7,490.7 988.5,490.6 M988.5,490.6 989.2,490.4 990.0,490.3 990.8,490.2 991.6,490.0 992.4,489.9 993.2,489.8 994.0,489.6 994.8,489.5 995.5,489.4 996.3,489.2 997.1,489.1 M997.1,489.1 997.9,489.0 998.7,488.8 999.5,488.7 1000.3,488.6 1001.1,488.4 1001.8,488.3 1002.6,488.1 1003.4,488.0 1004.2,487.8 M1019.3,485.0 1020.1,484.8 1020.9,484.6 1021.7,484.5 1022.5,484.3 1023.3,484.2 1024.1,484.0 1024.9,483.8 1025.6,483.7 1026.4,483.5 1027.2,483.3 1028.0,483.2 M1028.0,483.2 1028.8,483.0 1029.6,482.8 1030.4,482.7 1031.2,482.5 1032.0,482.3 1032.8,482.2 1033.6,482.0 1034.4,481.8 1035.2,481.6 1036.0,481.5 1036.8,481.3 M1036.8,481.3 1037.5,481.1 1038.3,480.9 1039.1,480.8 1039.9,480.6 1040.7,480.4 1041.5,480.2 1042.3,480.1 1043.1,479.9 1043.9,479.7 1044.7,479.5 1045.5,479.3 M1045.5,479.3 1046.3,479.2 1047.1,479.0 1047.9,478.8 1048.7,478.6 1049.4,478.4 1050.2,478.2 1051.0,478.1 1051.8,477.9 1052.6,477.7 1053.4,477.5 1054.2,477.3 M1054.2,477.3 1055.0,477.1 M1070.1,473.4 1070.9,473.2 1071.7,473.0 1072.4,472.8 1073.2,472.6 1074.0,472.4 1074.8,472.2 1075.6,472.0 1076.4,471.7 1077.1,471.5 1077.9,471.3 1078.7,471.1 M1078.7,471.1 1079.5,470.9 1080.3,470.7 1081.1,470.5 1081.8,470.3 1082.6,470.1 1083.4,469.9 1084.2,469.7 1085.0,469.5 1085.7,469.2 1086.5,469.0 1087.3,468.8 M1087.3,468.8 1088.1,468.6 1088.9,468.4 1089.7,468.2 1090.4,468.0 1091.2,467.7 1092.0,467.5 1092.8,467.3 1093.6,467.1 1094.3,466.9 1095.1,466.6 1095.9,466.4 M1449.3,344.5 1450.1,344.3 1450.9,344.1 1451.7,343.9 1452.5,343.7 1453.3,343.4 1454.1,343.2 1454.9,343.0 1455.7,342.8 1456.5,342.6 1457.3,342.4 1458.1,342.2 M1458.1,342.2 1458.8,342.0 1459.6,341.8 1460.4,341.6 1461.2,341.4 1462.0,341.2 1462.8,341.0 1463.6,340.8 1464.4,340.6 1465.2,340.4 1466.0,340.2 1466.8,340.0 M1466.8,340.0 1467.6,339.8 1468.4,339.6 1469.2,339.4 1470.0,339.2 1470.8,339.0 1471.5,338.8 1472.3,338.6 1473.1,338.4 1473.9,338.2 1474.7,338.0 1475.5,337.9 M1475.5,337.9 1476.3,337.7 1477.1,337.5" fill="none" stroke="#0000ff" stroke-width="2.00" stroke-linecap="square" shape-rendering="crispEdges"/>
<path d="M760.5,493.3 761.3,493.4 762.1,493.6 762.9,493.7 763.7,493.8 764.5,493.9 765.3,494.0 766.1,494.2 766.9,494.3 767.7,494.4 768.5,494.5 769.3,494.6 M769.3,494.6 770.0,494.7 770.8,494.8 771.6,495.0 772.4,495.1 773.2,495.2 774.0,495.3 774.8,495.4 775.6,495.5 776.4,495.6 777.2,495.7 778.0,495.8 M778.0,495.8 778.8,495.9 779.6,496.0 780.4,496.1 781.2,496.2 782.0,496.3 782.8,496.4 783.6,496.5 784.4,496.6 785.2,496.7 786.0,496.8 786.8,496.8 M786.8,496.8 787.6,496.9 788.4,497.0 M802.0,498.4 802.8,498.5 803.6,498.5 804.4,498.6 805.2,498.7 806.0,498.7 806.7,498.8 807.5,498.9 808.3,498.9 809.1,499.0 809.9,499.1 810.7,499.1 M810.7,499.1 811.5,499.2 812.3,499.2 813.1,499.3 813.9,499.3 814.7,499.4 815.5,499.5 816.2,499.5 817.0,499.6 817.8,499.6 818.6,499.7 819.4,499.7 M819.4,499.7 820.2,499.8 821.0,499.8 821.8,499.9 822.6,499.9 823.4,500.0 824.2,500.0 825.0,500.1 825.7,500.1 826.5,500.1 827.3,500.2 828.1,500.2 M828.1,500.2 828.9,500.3 829.7,500.3 830.5,500.3 831.3,500.4 832.1,500.4 832.9,500.4 833.7,500.5 834.5,500.5 835.2,500.5 836.0,500.6 836.8,500.6 M836.8,500.6 837.6,500.6 838.4,500.7 839.2,500.7 M852.8,501.0 853.6,501.0 854.4,501.0 855.2,501.1 856.0,501.1 856.8,501.1 857.6,501.1 858.4,501.1 859.1,501.1 859.9,501.1 860.7,501.1 861.5,501.1 M861.5,501.1 862.3,501.1 863.1,501.1 863.9,501.1 864.7,501.1 865.5,501.1 866.3,501.1 867.1,501.1 867.9,501.1 868.7,501.1 869.5,501.1 870.3,501.1 M870.3,501.1 871.0,501.1 871.8,501.0 872.6,501.0 873.4,501.0 874.2,501.0 875.0,501.0 875.8,501.0 876.6,501.0 877.4,501.0 878.2,500.9 879.0,500.9 M879.0,500.9 879.8,500.9 880.6,500.9 881.4,500.9 882.2,500.8 883.0,500.8 883.7,500.8 884.5,500.8 885.3,500.8 886.1,500.7 886.9,500.7 887.7,500.7 M887.7,500.7 888.5,500.7 889.3,500.6 M903.1,500.0 903.9,500.0 904.7,499.9 905.5,499.9 906.2,499.8 907.0,499.8 907.8,499.7 908.6,499.7 909.4,499.6 910.2,499.6 911.0,499.5 911.8,499.5 M911.8,499.5 912.5,499.4 913.3,499.4 914.1,499.3 914.9,499.3 915.7,499.2 916.5,499.1 917.3,499.1 918.1,499.0 918.8,499.0 919.6,498.9 920.4,498.8 M920.4,498.8 921.2,498.8 922.0,498.7 922.8,498.7 923.6,498.6 924.3,498.5 925.1,498.5 925.9,498.4 926.7,498.3 927.5,498.3 928.3,498.2 929.1,498.1 M929.1,498.1 929.9,498.0 930.6,498.0 931.4,497.9 932.2,497.8 933.0,497.8 933.8,497.7 934.6,497.6 935.4,497.5 936.2,497.4 936.9,497.4 937.7,497.3 M937.7,497.3 938.5,497.2 939.3,497.1 M953.8,495.5 954.6,495.4 955.4,495.3 956.2,495.2 956.9,495.1 957.7,495.0 958.5,494.9 959.3,494.8 960.1,494.7 960.9,494.6 961.7,494.5 962.5,494.4 M962.5,494.4 963.2,494.3 964.0,494.2 964.8,494.1 965.6,494.0 966.4,493.9 967.2,493.8 968.0,493.7 968.8,493.6 969.5,493.4 970.3,493.3 971.1,493.2 M971.1,493.2 971.9,493.1 972.7,493.0 973.5,492.9 974.3,492.8 975.1,492.7 975.9,492.5 976.6,492.4 977.4,492.3 978.2,492.2 979.0,492.1 979.8,491.9" fill="none" stroke="#0000ff" stroke-width="2.05" stroke-linecap="square" shape-rendering="crispEdges"/>
<path d="M261.4,229.6 262.1,230.4 262.9,231.3 263.7,232.1 264.5,232.9 265.3,233.7 266.1,234.5 266.9,235.3 267.7,236.1 268.4,236.9 269.2,237.7 M269.2,237.7 270.0,238.4 270.8,239.2 271.6,240.0 272.4,240.8 273.2,241.6 274.0,242.4 274.7,243.2 275.5,243.9 276.3,244.7 277.1,245.5 277.9,246.3" fill="none" stroke="#ff0000" stroke-width="1.45" stroke-linecap="square" shape-rendering="crispEdges"/>
<path d="M245.6,212.8 246.4,213.7 247.2,214.5 248.0,215.4 248.8,216.3 249.5,217.1 250.3,218.0 251.1,218.8 251.9,219.7 252.7,220.5 253.5,221.4 M253.5,221.4 254.3,222.2 255.1,223.0 255.8,223.9 256.6,224.7 257.4,225.5 258.2,226.3 259.0,227.2 259.8,228.0 260.6,228.8 261.4,229.6 M290.7,258.6 291.5,259.3 292.3,260.1 293.1,260.8 293.9,261.6 294.7,262.3 295.5,263.1 296.3,263.8 297.1,264.6 297.9,265.3 298.7,266.0 299.4,266.8 M299.4,266.8 300.2,267.5 301.0,268.2 301.8,269.0 302.6,269.7 303.4,270.4 304.2,271.1 305.0,271.9 305.8,272.6 306.6,273.3 307.4,274.0 308.2,274.8 M1480.6,340.4 1481.3,339.7 1482.1,339.0 1482.9,338.3 1483.7,337.6 1484.4,336.9 1485.2,336.2 1486.0,335.5" fill="none" stroke="#ff0000" stroke-width="1.50" stroke-linecap="square" shape-rendering="crispEdges"/>
<path d="M226.0,190.1 226.8,191.1 227.6,192.0 228.3,192.9 229.1,193.9 229.9,194.8 230.7,195.7 231.5,196.7 232.2,197.6 233.0,198.5 M233.0,198.5 233.8,199.4 M308.2,274.8 309.0,275.5 309.8,276.2 310.6,276.9 311.4,277.6 312.2,278.3 313.0,279.0 313.8,279.7 314.6,280.5 315.4,281.2 316.1,281.9 316.9,282.6 M316.9,282.6 317.7,283.3 318.5,284.0 319.3,284.7 320.1,285.4 320.9,286.1 321.7,286.7 322.5,287.4 323.3,288.1 324.1,288.8 M1451.8,365.2 1452.6,364.5 1453.4,363.9 1454.2,363.2 1455.0,362.5 1455.8,361.9 1456.6,361.2 1457.4,360.6 1458.2,359.9 1458.9,359.2 1459.7,358.5 1460.5,357.9 M1460.5,357.9 1461.3,357.2 1462.1,356.5 M1472.0,348.0 1472.8,347.3 1473.6,346.6 1474.3,345.9 1475.1,345.2 1475.9,344.5 1476.7,343.9 1477.4,343.2 1478.2,342.5 1479.0,341.8 1479.8,341.1 1480.6,340.4" fill="none" stroke="#ff0000" stroke-width="1.55" stroke-linecap="square" shape-rendering="crispEdges"/>
<path d="M212.7,173.4 213.5,174.4 214.3,175.4 215.1,176.4 215.9,177.4 216.6,178.4 217.4,179.4 218.2,180.4 219.0,181.4 M219.0,181.4 219.8,182.4 220.5,183.4 221.3,184.3 222.1,185.3 222.9,186.3 223.7,187.2 224.4,188.2 225.2,189.2 226.0,190.1 M339.9,302.2 340.7,302.9 341.5,303.5 342.3,304.2 343.0,304.8 343.8,305.5 344.6,306.1 345.4,306.7 346.2,307.4 347.0,308.0 347.8,308.7 348.6,309.3 M348.6,309.3 349.3,309.9 350.1,310.6 350.9,311.2 351.7,311.9 352.5,312.5 353.3,313.1 354.1,313.7 354.8,314.4 355.6,315.0 356.4,315.6 357.2,316.2 M357.2,316.2 358.0,316.9 358.8,317.5 359.6,318.1 360.4,318.7 361.1,319.4 361.9,320.0 362.7,320.6 363.5,321.2 364.3,321.8 365.1,322.4 365.9,323.0 M1434.5,379.4 1435.3,378.7 1436.1,378.1 1436.9,377.5 1437.7,376.8 1438.4,376.2 1439.2,375.6 1440.0,374.9 1440.8,374.3 1441.6,373.6 1442.4,373.0 1443.2,372.4 M1443.2,372.4 1444.0,371.7 1444.8,371.1 1445.5,370.4 1446.3,369.8 1447.1,369.1 1447.9,368.5 1448.7,367.8 1449.5,367.2 1450.3,366.5 1451.1,365.8 1451.8,365.2" fill="none" stroke="#ff0000" stroke-width="1.60" stroke-linecap="square" shape-rendering="crispEdges"/>
<path d="M206.5,165.0 207.3,166.1 208.1,167.2 208.8,168.2 209.6,169.2 210.4,170.3 211.2,171.3 212.0,172.3 212.7,173.4 M365.9,323.0 366.6,323.6 367.4,324.2 368.2,324.9 369.0,325.5 369.8,326.1 370.6,326.7 371.4,327.3 372.2,327.9 372.9,328.5 373.7,329.1 374.5,329.7 M374.5,329.7 375.3,330.3 M389.2,340.6 390.0,341.2 390.8,341.7 391.6,342.3 392.4,342.9 393.2,343.5 394.0,344.1 394.8,344.6 395.6,345.2 396.4,345.8 397.2,346.3 398.0,346.9 M398.0,346.9 398.7,347.5 399.5,348.0 400.3,348.6 401.1,349.2 401.9,349.7 402.7,350.3 403.5,350.9 404.3,351.4 405.1,352.0 405.9,352.5 406.7,353.1 M1389.8,413.2 1390.6,412.6 1391.4,412.0 1392.1,411.5 1392.9,410.9 1393.7,410.4 1394.5,409.8 1395.3,409.2 1396.1,408.7 1396.8,408.1 1397.6,407.5 1398.4,407.0 M1398.4,407.0 1399.2,406.4 1400.0,405.8 1400.7,405.2 1401.5,404.7 1402.3,404.1 1403.1,403.5 1403.9,402.9 1404.7,402.4 1405.4,401.8 1406.2,401.2 1407.0,400.6 M1407.0,400.6 1407.8,400.0 1408.6,399.5 1409.3,398.9 1410.1,398.3 1410.9,397.7 1411.7,397.1 1412.5,396.5 1413.2,395.9 1414.0,395.3 1414.8,394.7 1415.6,394.1 M1415.6,394.1 1416.4,393.5 1417.2,392.9 1417.9,392.3 1418.7,391.7 1419.5,391.1" fill="none" stroke="#ff0000" stroke-width="1.65" stroke-linecap="square" shape-rendering="crispEdges"/>
<path d="M185.4,134.6 186.2,135.8 187.0,137.0 187.8,138.2 188.6,139.5 189.4,140.7 190.2,141.8 191.0,143.0 M191.0,143.0 191.8,144.2 192.6,145.4 193.4,146.6 194.2,147.7 195.0,148.9 195.8,150.0 M406.7,353.1 407.5,353.6 408.3,354.2 409.1,354.8 409.9,355.3 410.7,355.9 411.5,356.4 412.3,357.0 413.1,357.5 413.9,358.0 414.7,358.6 415.5,359.1 M415.5,359.1 416.3,359.7 417.0,360.2 417.8,360.8 418.6,361.3 419.4,361.8 420.2,362.4 421.0,362.9 421.8,363.5 422.6,364.0 423.4,364.5 424.2,365.1 M424.2,365.1 425.0,365.6 425.8,366.1 M1351.6,439.0 1352.4,438.4 1353.2,437.9 1354.0,437.4 1354.8,436.9 1355.6,436.4 1356.4,435.9 1357.2,435.4 1358.0,434.8 1358.8,434.3 1359.6,433.8 1360.4,433.3 M1360.4,433.3 1361.2,432.8 1362.0,432.2 1362.7,431.7 1363.5,431.2 1364.3,430.7 1365.1,430.1 1365.9,429.6 1366.7,429.1 1367.5,428.5 1368.3,428.0 1369.1,427.5 M1369.1,427.5 1369.9,426.9 1370.7,426.4 1371.5,425.8 1372.3,425.3 1373.1,424.8 1373.9,424.2 1374.7,423.7 1375.5,423.1 1376.3,422.6 1377.1,422.0 1377.9,421.5" fill="none" stroke="#ff0000" stroke-width="1.70" stroke-linecap="square" shape-rendering="crispEdges"/>
<path d="M174.3,116.8 175.1,118.1 175.9,119.4 176.7,120.7 177.5,122.0 178.3,123.3 179.1,124.6 179.9,125.9 M179.9,125.9 180.7,127.1 181.5,128.4 182.3,129.6 183.1,130.9 183.9,132.1 184.7,133.4 185.4,134.6 M439.7,375.2 440.5,375.8 441.3,376.3 442.1,376.8 442.9,377.3 443.7,377.8 444.5,378.3 445.3,378.8 446.1,379.3 446.9,379.8 447.7,380.3 448.5,380.8 M448.5,380.8 449.2,381.3 450.0,381.8 450.8,382.3 451.6,382.8 452.4,383.3 453.2,383.8 454.0,384.3 454.8,384.8 455.6,385.3 456.4,385.8 457.2,386.3 M457.2,386.3 458.0,386.8 458.8,387.3 459.6,387.8 460.4,388.3 461.2,388.8 462.0,389.3 462.8,389.7 463.6,390.2 464.4,390.7 465.2,391.2 466.0,391.7 M466.0,391.7 466.8,392.2 467.6,392.7 468.3,393.1 469.1,393.6 469.9,394.1 470.7,394.6 471.5,395.1 472.3,395.5 473.1,396.0 473.9,396.5 474.7,397.0 M474.7,397.0 475.5,397.4 476.3,397.9 477.1,398.4 477.9,398.9 478.7,399.3 479.5,399.8 480.3,400.3 481.1,400.7 481.9,401.2 482.7,401.7 483.5,402.1 M483.5,402.1 484.3,402.6 485.1,403.1 485.9,403.5 486.7,404.0 487.4,404.5 488.2,404.9 489.0,405.4 489.8,405.9 490.6,406.3 491.4,406.8 492.2,407.2 M1316.5,460.2 1317.3,459.7 1318.1,459.3 1318.9,458.8 1319.7,458.4 1320.5,457.9 1321.3,457.4 1322.1,457.0 1322.9,456.5 1323.7,456.0 1324.5,455.6 1325.3,455.1 M1325.3,455.1 1326.1,454.6 1326.9,454.2 1327.7,453.7 1328.5,453.2 1329.3,452.7 1330.1,452.3 1330.9,451.8 1331.7,451.3 1332.4,450.8 1333.2,450.4 1334.0,449.9 M1334.0,449.9 1334.8,449.4 1335.6,448.9 1336.4,448.4 1337.2,447.9 1338.0,447.4 1338.8,447.0 1339.6,446.5 1340.4,446.0 1341.2,445.5 1342.0,445.0 1342.8,444.5 M1342.8,444.5 1343.6,444.0 1344.4,443.5 1345.2,443.0 1346.0,442.5 1346.8,442.0 1347.6,441.5 1348.4,441.0 1349.2,440.5 1350.0,440.0 1350.8,439.5 1351.6,439.0" fill="none" stroke="#ff0000" stroke-width="1.75" stroke-linecap="square" shape-rendering="crispEdges"/>
<path d="M145.2,64.1 146.0,65.6 146.8,67.2 147.5,68.7 148.3,70.2 149.1,71.7 149.9,73.2 M149.9,73.2 150.7,74.7 151.4,76.2 152.2,77.7 153.0,79.2 153.8,80.7 154.6,82.1 M154.6,82.1 155.3,83.6 156.1,85.0 156.9,86.5 157.7,87.9 158.5,89.3 159.2,90.7 M159.2,90.7 160.0,92.1 160.8,93.6 161.6,95.0 162.4,96.3 163.1,97.7 163.9,99.1 M163.9,99.1 164.7,100.5 M492.2,407.2 493.0,407.7 493.8,408.2 494.6,408.6 495.4,409.1 496.2,409.5 497.0,410.0 497.8,410.4 498.6,410.9 499.4,411.3 500.2,411.8 501.0,412.2 M501.0,412.2 501.8,412.7 502.6,413.1 503.4,413.6 504.2,414.0 505.0,414.5 505.8,414.9 506.5,415.4 507.3,415.8 508.1,416.3 508.9,416.7 509.7,417.2 M509.7,417.2 510.5,417.6 511.3,418.0 512.1,418.5 512.9,418.9 513.7,419.4 514.5,419.8 515.3,420.3 M530.3,428.4 531.1,428.9 531.9,429.3 532.7,429.7 533.5,430.1 534.2,430.5 535.0,431.0 535.8,431.4 536.6,431.8 537.4,432.2 538.2,432.6 539.0,433.1 M539.0,433.1 539.8,433.5 540.6,433.9 541.3,434.3 542.1,434.7 542.9,435.1 543.7,435.5 544.5,436.0 545.3,436.4 546.1,436.8 546.9,437.2 547.7,437.6 M547.7,437.6 548.4,438.0 549.2,438.4 550.0,438.8 550.8,439.2 551.6,439.7 552.4,440.1 553.2,440.5 554.0,440.9 554.8,441.3 555.5,441.7 556.3,442.1 M1283.5,478.1 1284.2,477.7 1285.0,477.3 1285.8,476.9 1286.6,476.5 1287.4,476.1 1288.2,475.7 1288.9,475.3 1289.7,474.9 1290.5,474.5 1291.3,474.1 1292.1,473.6 M1292.1,473.6 1292.9,473.2 1293.7,472.8 1294.4,472.4 1295.2,472.0 1296.0,471.6 1296.8,471.1 1297.6,470.7 1298.4,470.3 1299.1,469.9 1299.9,469.4 1300.7,469.0 M1300.7,469.0 1301.5,468.6" fill="none" stroke="#ff0000" stroke-width="1.80" stroke-linecap="square" shape-rendering="crispEdges"/>
<path d="M122.6,16.0 123.4,17.7 124.1,19.5 124.9,21.2 125.6,22.9 126.4,24.6 M126.4,24.6 127.2,26.3 127.9,27.9 128.7,29.6 129.4,31.3 130.2,32.9 M130.2,32.9 131.0,34.6 131.7,36.2 132.5,37.9 133.2,39.5 134.0,41.1 M134.0,41.1 134.8,42.7 135.5,44.3 136.3,45.9 137.0,47.5 137.8,49.1 M556.3,442.1 557.1,442.5 557.9,442.9 558.7,443.3 559.5,443.7 560.3,444.1 561.1,444.5 561.9,444.9 562.6,445.3 563.4,445.7 564.2,446.1 565.0,446.5 M565.0,446.5 565.8,446.9 M580.8,454.3 581.6,454.7 582.4,455.1 583.2,455.5 584.0,455.9 584.8,456.2 585.6,456.6 586.4,457.0 587.2,457.4 588.0,457.8 588.8,458.2 589.6,458.5 M589.6,458.5 590.4,458.9 591.2,459.3 592.0,459.7 592.8,460.1 593.6,460.4 594.4,460.8 595.2,461.2 596.0,461.6 596.8,461.9 597.6,462.3 598.4,462.7 M598.4,462.7 599.1,463.1 599.9,463.4 600.7,463.8 601.5,464.2 602.3,464.5 603.1,464.9 603.9,465.3 604.7,465.7 605.5,466.0 606.3,466.4 607.1,466.8 M607.1,466.8 607.9,467.1 608.7,467.5 609.5,467.9 610.3,468.2 611.1,468.6 611.9,468.9 612.7,469.3 613.5,469.7 614.3,470.0 615.1,470.4 615.9,470.7 M615.9,470.7 616.7,471.1 617.5,471.5 M1247.2,495.5 1248.0,495.1 1248.8,494.8 1249.6,494.4 1250.4,494.1 1251.2,493.7 M1266.2,486.7 1267.0,486.3 1267.8,485.9 1268.6,485.6 1269.3,485.2 1270.1,484.8 1270.9,484.4 1271.7,484.0 1272.5,483.6 1273.3,483.3 1274.0,482.9 1274.8,482.5 M1274.8,482.5 1275.6,482.1 1276.4,481.7 1277.2,481.3 1278.0,480.9 1278.8,480.5 1279.5,480.1 1280.3,479.7 1281.1,479.3 1281.9,478.9 1282.7,478.5 1283.5,478.1" fill="none" stroke="#ff0000" stroke-width="1.85" stroke-linecap="square" shape-rendering="crispEdges"/>
<path d="M631.3,477.5 632.1,477.9 632.9,478.2 633.7,478.6 634.5,478.9 635.3,479.3 636.1,479.6 636.9,479.9 637.7,480.3 638.5,480.6 639.3,481.0 640.1,481.3 M640.1,481.3 640.8,481.6 641.6,482.0 642.4,482.3 643.2,482.6 644.0,483.0 644.8,483.3 645.6,483.6 646.4,484.0 647.2,484.3 648.0,484.6 648.8,485.0 M648.8,485.0 649.6,485.3 650.4,485.6 651.2,485.9 652.0,486.3 652.8,486.6 653.6,486.9 654.4,487.2 655.2,487.6 656.0,487.9 656.8,488.2 657.6,488.5 M657.6,488.5 658.4,488.9 659.1,489.2 659.9,489.5 660.7,489.8 661.5,490.1 662.3,490.5 663.1,490.8 663.9,491.1 664.7,491.4 665.5,491.7 666.3,492.0 M666.3,492.0 667.1,492.4 667.9,492.7 M681.8,498.0 682.6,498.3 683.4,498.6 684.2,498.9 685.0,499.2 685.8,499.5 686.6,499.8 687.4,500.1 688.2,500.4 689.0,500.7 689.8,501.0 690.6,501.3 M1215.2,508.9 1216.0,508.6 1216.8,508.3 1217.6,507.9 1218.4,507.6 1219.2,507.3 1220.0,507.0 1220.8,506.7 1221.6,506.4 1222.4,506.0 1223.2,505.7 M1223.2,505.7 1224.0,505.4 1224.8,505.1 1225.6,504.7 1226.4,504.4 1227.2,504.1 1228.0,503.7 1228.8,503.4 1229.6,503.1 1230.4,502.8 1231.2,502.4 M1231.2,502.4 1232.0,502.1 1232.8,501.7 1233.6,501.4 1234.4,501.1 1235.2,500.7 1236.0,500.4 1236.8,500.0 1237.6,499.7 1238.4,499.4 1239.2,499.0 M1239.2,499.0 1240.0,498.7 1240.8,498.3 1241.6,498.0 1242.4,497.6 1243.2,497.3 1244.0,496.9 1244.8,496.6 1245.6,496.2 1246.4,495.9 1247.2,495.5" fill="none" stroke="#ff0000" stroke-width="1.90" stroke-linecap="square" shape-rendering="crispEdges"/>
<path d="M690.6,501.3 691.3,501.6 692.1,501.9 692.9,502.1 693.7,502.4 694.5,502.7 695.3,503.0 696.1,503.3 696.9,503.6 697.7,503.9 698.5,504.2 699.3,504.4 M699.3,504.4 700.1,504.7 700.9,505.0 701.7,505.3 702.5,505.6 703.3,505.9 704.1,506.1 704.9,506.4 705.7,506.7 706.5,507.0 707.3,507.2 708.1,507.5 M708.1,507.5 708.9,507.8 709.6,508.1 710.4,508.3 711.2,508.6 712.0,508.9 712.8,509.2 713.6,509.4 714.4,509.7 715.2,510.0 716.0,510.2 716.8,510.5 M716.8,510.5 717.6,510.8 718.4,511.0 M732.3,515.6 733.1,515.8 733.9,516.1 734.7,516.3 735.5,516.6 736.3,516.8 737.1,517.1 737.9,517.3 738.7,517.6 739.5,517.8 740.2,518.1 741.0,518.3 M741.0,518.3 741.8,518.6 742.6,518.8 743.4,519.1 744.2,519.3 745.0,519.5 745.8,519.8 746.6,520.0 747.4,520.3 748.2,520.5 749.0,520.7 749.8,521.0 M749.8,521.0 750.6,521.2 751.4,521.4 752.2,521.7 753.0,521.9 753.8,522.1 754.6,522.4 755.3,522.6 756.1,522.8 756.9,523.1 757.7,523.3 758.5,523.5 M758.5,523.5 759.3,523.7 760.1,524.0 760.9,524.2 761.7,524.4 762.5,524.6 763.3,524.9 764.1,525.1 764.9,525.3 765.7,525.5 766.5,525.8 767.3,526.0 M1165.0,526.3 1165.8,526.1 1166.6,525.8 1167.4,525.6 1168.2,525.3 1168.9,525.1 1169.7,524.9 1170.5,524.6 1171.3,524.4 1172.1,524.1 1172.9,523.9 1173.7,523.6 M1173.7,523.6 1174.5,523.4 1175.3,523.1 1176.0,522.8 1176.8,522.6 1177.6,522.3 1178.4,522.1 1179.2,521.8 1180.0,521.6 1180.8,521.3 1181.6,521.0 1182.4,520.8 M1182.4,520.8 1183.1,520.5 1183.9,520.2 1184.7,520.0 1185.5,519.7 1186.3,519.4 1187.1,519.2 1187.9,518.9 1188.7,518.6 1189.5,518.4 1190.2,518.1 1191.0,517.8 M1191.0,517.8 1191.8,517.5 1192.6,517.3 1193.4,517.0 1194.2,516.7 1195.0,516.4 1195.8,516.1 1196.6,515.9 1197.3,515.6 1198.1,515.3 1198.9,515.0 1199.7,514.7 M1199.7,514.7 1200.5,514.4" fill="none" stroke="#ff0000" stroke-width="1.95" stroke-linecap="square" shape-rendering="crispEdges"/>
<path d="M767.3,526.0 768.1,526.2 768.9,526.4 769.6,526.6 770.4,526.8 771.2,527.1 772.0,527.3 772.8,527.5 773.6,527.7 774.4,527.9 775.2,528.1 776.0,528.3 M776.0,528.3 776.8,528.6 777.6,528.8 778.4,529.0 779.2,529.2 780.0,529.4 780.8,529.6 781.6,529.8 782.4,530.0 783.2,530.2 784.0,530.4 784.7,530.6 M784.7,530.6 785.5,530.8 786.3,531.0 787.1,531.2 787.9,531.4 788.7,531.6 789.5,531.8 790.3,532.0 791.1,532.2 791.9,532.4 792.7,532.6 793.5,532.8 M793.5,532.8 794.3,533.0 795.1,533.2 795.9,533.4 796.7,533.6 797.5,533.7 798.3,533.9 799.1,534.1 799.8,534.3 800.6,534.5 801.4,534.7 802.2,534.9 M802.2,534.9 803.0,535.0 803.8,535.2 804.6,535.4 805.4,535.6 806.2,535.8 807.0,536.0 M821.3,539.1 822.1,539.2 822.9,539.4 823.7,539.5 824.5,539.7 825.3,539.9 826.1,540.0 826.9,540.2 827.6,540.4 828.4,540.5 829.2,540.7 830.0,540.8 M830.0,540.8 830.8,541.0 831.6,541.1 832.4,541.3 833.2,541.4 834.0,541.6 834.8,541.7 835.6,541.9 836.4,542.0 837.2,542.2 838.0,542.3 838.8,542.5 M838.8,542.5 839.5,542.6 840.3,542.8 841.1,542.9 841.9,543.1 842.7,543.2 843.5,543.4 844.3,543.5 845.1,543.6 845.9,543.8 846.7,543.9 847.5,544.0 M847.5,544.0 848.3,544.2 849.1,544.3 849.9,544.5 850.7,544.6 851.5,544.7 852.2,544.9 853.0,545.0 853.8,545.1 854.6,545.3 855.4,545.4 856.2,545.5 M856.2,545.5 857.0,545.6 857.8,545.8 M1071.7,547.5 1072.5,547.4 1073.3,547.3 1074.1,547.2 1074.9,547.0 1075.7,546.9 1076.5,546.8 1077.3,546.6 1078.1,546.5 1078.9,546.4 1079.7,546.3 1080.5,546.1 M1080.5,546.1 1081.2,546.0 1082.0,545.9 1082.8,545.7 1083.6,545.6 1084.4,545.5 1085.2,545.3 1086.0,545.2 1086.8,545.0 1087.6,544.9 1088.4,544.8 1089.2,544.6 M1089.2,544.6 1090.0,544.5 1090.8,544.3 1091.6,544.2 1092.4,544.0 1093.2,543.9 1093.9,543.7 1094.7,543.6 1095.5,543.4 1096.3,543.3 1097.1,543.1 1097.9,543.0 M1097.9,543.0 1098.7,542.8 1099.5,542.7 M1114.4,539.6 1115.2,539.4 1116.0,539.2 1116.8,539.1 1117.5,538.9 1118.3,538.7 1119.1,538.5 1119.9,538.3 1120.7,538.2 1121.5,538.0 1122.3,537.8 1123.1,537.6 M1123.1,537.6 1123.8,537.4 1124.6,537.2 1125.4,537.1 1126.2,536.9 1127.0,536.7 1127.8,536.5 1128.6,536.3 1129.3,536.1 1130.1,535.9 1130.9,535.7 1131.7,535.5 M1131.7,535.5 1132.5,535.3 1133.3,535.1 1134.1,534.9 1134.9,534.7 1135.6,534.5 1136.4,534.3 1137.2,534.1 1138.0,533.9 1138.8,533.7 1139.6,533.5 1140.4,533.3 M1140.4,533.3 1141.1,533.1 1141.9,532.9 1142.7,532.7 1143.5,532.5 1144.3,532.3 1145.1,532.0 1145.9,531.8 1146.7,531.6 1147.4,531.4 1148.2,531.2 1149.0,531.0 M1149.0,531.0 1149.8,530.7" fill="none" stroke="#ff0000" stroke-width="2.00" stroke-linecap="square" shape-rendering="crispEdges"/>
<path d="M871.6,547.8 872.4,548.0 873.2,548.1 874.0,548.2 874.8,548.3 875.6,548.4 876.4,548.5 877.2,548.6 878.0,548.7 878.8,548.8 879.6,548.9 880.4,549.0 M880.4,549.0 881.1,549.1 881.9,549.2 882.7,549.3 883.5,549.4 884.3,549.5 885.1,549.6 885.9,549.7 886.7,549.8 887.5,549.9 888.3,550.0 889.1,550.1 M889.1,550.1 889.9,550.2 890.7,550.3 891.5,550.4 892.3,550.5 893.1,550.6 893.9,550.7 894.7,550.7 895.5,550.8 896.3,550.9 897.1,551.0 897.9,551.1 M897.9,551.1 898.6,551.2 899.4,551.2 900.2,551.3 901.0,551.4 901.8,551.5 902.6,551.6 903.4,551.6 904.2,551.7 905.0,551.8 905.8,551.9 906.6,551.9 M906.6,551.9 907.4,552.0 M921.7,553.2 922.5,553.3 923.3,553.3 924.1,553.4 924.9,553.4 925.7,553.5 926.5,553.5 927.3,553.6 928.1,553.6 928.9,553.7 929.7,553.7 M929.7,553.7 930.5,553.8 931.3,553.8 932.1,553.9 932.9,553.9 933.7,554.0 934.5,554.0 935.3,554.0 936.1,554.1 936.9,554.1 937.7,554.2 M937.7,554.2 938.5,554.2 939.3,554.2 940.1,554.3 940.9,554.3 941.7,554.4 942.5,554.4 943.3,554.4 944.1,554.5 944.9,554.5 945.7,554.5 M945.7,554.5 946.5,554.5 947.3,554.6 948.1,554.6 948.9,554.6 949.7,554.7 950.5,554.7 951.3,554.7 952.1,554.7 952.9,554.8 953.7,554.8 M953.7,554.8 954.5,554.8 955.3,554.8 956.1,554.8 956.9,554.9 957.7,554.9 958.5,554.9 M972.7,555.0 973.5,555.0 974.3,555.0 975.1,555.0 975.9,555.0 976.7,555.0 977.5,555.0 978.3,555.0 979.1,555.0 979.9,555.0 980.7,555.0 981.5,554.9 M981.5,554.9 982.2,554.9 983.0,554.9 983.8,554.9 984.6,554.9 985.4,554.9 986.2,554.9 987.0,554.8 987.8,554.8 988.6,554.8 989.4,554.8 990.2,554.8 M990.2,554.8 991.0,554.7 991.8,554.7 992.6,554.7 993.4,554.7 994.2,554.6 995.0,554.6 995.8,554.6 996.6,554.6 997.4,554.5 998.2,554.5 999.0,554.5 M999.0,554.5 999.8,554.4 1000.5,554.4 1001.3,554.4 1002.1,554.3 1002.9,554.3 1003.7,554.3 1004.5,554.2 1005.3,554.2 1006.1,554.1 1006.9,554.1 1007.7,554.1 M1007.7,554.1 1008.5,554.0 1009.3,554.0 M1023.5,553.0 1024.3,553.0 1025.1,552.9 1025.9,552.8 1026.7,552.8 1027.4,552.7 1028.2,552.7 1029.0,552.6 1029.8,552.5 1030.6,552.4 1031.4,552.4 1032.2,552.3 M1032.2,552.3 1033.0,552.2 1033.8,552.2 1034.6,552.1 1035.3,552.0 1036.1,551.9 1036.9,551.9 1037.7,551.8 1038.5,551.7 1039.3,551.6 1040.1,551.5 1040.9,551.5 M1040.9,551.5 1041.7,551.4 1042.4,551.3 1043.2,551.2 1044.0,551.1 1044.8,551.0 1045.6,551.0 1046.4,550.9 1047.2,550.8 1048.0,550.7 1048.8,550.6 1049.5,550.5 M1049.5,550.5 1050.3,550.4 1051.1,550.3 1051.9,550.2 1052.7,550.1 1053.5,550.0 1054.3,549.9 1055.1,549.8 1055.9,549.7 1056.7,549.6 1057.4,549.5 1058.2,549.4 M1058.2,549.4 1059.0,549.3 1059.8,549.2 1060.6,549.1 M1063.0,548.8 1063.8,548.7 1064.6,548.6 1065.4,548.5 1066.2,548.3 1067.0,548.2 1067.8,548.1 1068.6,548.0 1069.3,547.9 1070.1,547.8 1070.9,547.6 1071.7,547.5" fill="none" stroke="#ff0000" stroke-width="2.05" stroke-linecap="square" shape-rendering="crispEdges"/>
<path d="M203.4,135.5 204.2,136.3 205.0,137.1 205.8,138.0 206.6,138.8 207.4,139.6 208.2,140.4 209.0,141.2 209.8,142.0 210.6,142.8 211.4,143.5" fill="none" stroke="#ff0000" stroke-width="1.45" stroke-linecap="square" shape-rendering="crispEdges"/>
<path d="M195.4,127.0 196.2,127.8 197.0,128.7 197.8,129.6 198.6,130.4 199.4,131.3 200.2,132.2 201.0,133.0 201.8,133.8 202.6,134.7 203.4,135.5 M211.4,143.5 212.2,144.3 213.0,145.1 213.8,145.9 214.6,146.6 215.4,147.4 216.2,148.2 217.0,148.9 217.8,149.7 218.6,150.4 219.4,151.2 220.2,151.9 M220.2,151.9 221.0,152.7 221.8,153.4 222.6,154.1 223.4,154.9 224.2,155.6 225.0,156.3 225.8,157.0 226.6,157.8 227.4,158.5 228.2,159.2 229.0,159.9" fill="none" stroke="#ff0000" stroke-width="1.50" stroke-linecap="square" shape-rendering="crispEdges"/>
<path d="M188.2,118.8 189.0,119.7 189.8,120.7 190.6,121.6 191.4,122.5 192.2,123.4 193.0,124.3 193.8,125.2 194.6,126.1 195.4,127.0 M229.0,159.9 229.8,160.6 230.6,161.3 231.4,162.0 232.2,162.7 233.0,163.4 233.8,164.1 234.6,164.8 235.4,165.5 236.2,166.2 237.0,166.8 237.8,167.5" fill="none" stroke="#ff0000" stroke-width="1.55" stroke-linecap="square" shape-rendering="crispEdges"/>
<path d="M174.6,101.9 175.4,103.0 176.2,104.0 177.0,105.1 177.8,106.1 178.6,107.1 179.4,108.1 180.2,109.1 181.0,110.1 M181.0,110.1 181.8,111.1 182.6,112.1 183.4,113.1 184.2,114.1 185.0,115.0 185.8,116.0 186.6,116.9 187.4,117.9 188.2,118.8 M237.8,167.5 238.6,168.2 239.4,168.9 240.2,169.5 241.0,170.2 241.8,170.9 242.6,171.5 243.4,172.2 244.2,172.9 245.0,173.5 245.8,174.2 246.6,174.8 M246.6,174.8 247.4,175.5 248.2,176.1 249.0,176.8 249.8,177.4 250.6,178.0 251.4,178.7 252.2,179.3 253.0,179.9 253.8,180.5 254.6,181.2 255.4,181.8" fill="none" stroke="#ff0000" stroke-width="1.60" stroke-linecap="square" shape-rendering="crispEdges"/>
<path d="M168.2,93.2 169.0,94.3 169.8,95.4 170.6,96.5 171.4,97.6 172.2,98.7 173.0,99.8 173.8,100.9 174.6,101.9 M255.4,181.8 256.2,182.4 257.0,183.0 257.8,183.6 258.6,184.2 259.4,184.9 260.2,185.5 261.0,186.1 261.8,186.7 262.6,187.3 263.4,187.9 264.2,188.4 M264.2,188.4 265.0,189.0 265.8,189.6 266.6,190.2 267.4,190.8 268.2,191.4 269.0,191.9 269.8,192.5 270.6,193.1 271.4,193.7 272.2,194.2 273.0,194.8" fill="none" stroke="#ff0000" stroke-width="1.65" stroke-linecap="square" shape-rendering="crispEdges"/>
<path d="M134.6,43.0 135.4,44.3 136.2,45.6 137.0,46.8 137.8,48.0 138.6,49.2 139.4,50.4 140.2,51.5 M140.2,51.5 141.0,52.7 141.8,53.8 142.6,55.0 143.4,56.2 144.2,57.4 145.0,58.5 145.8,59.7 M145.8,59.7 146.6,60.9 147.4,62.1 148.2,63.3 149.0,64.6 149.8,65.8 150.6,67.0 151.4,68.2 M151.4,68.2 152.2,69.4 153.0,70.7 153.8,71.9 154.6,73.1 155.4,74.3 156.2,75.5 157.0,76.8 M157.0,76.8 157.8,78.0 158.6,79.2 159.4,80.4 160.2,81.6 161.0,82.8 161.8,84.0 162.6,85.2 M162.6,85.2 163.4,86.3 164.2,87.5 165.0,88.7 165.8,89.8 166.6,91.0 167.4,92.1 168.2,93.2 M273.0,194.8 273.8,195.4 274.6,195.9 275.4,196.5 276.2,197.0 277.0,197.6 277.8,198.1 278.6,198.7 279.4,199.2 280.2,199.8 281.0,200.3 281.8,200.8 M281.8,200.8 282.6,201.4 283.4,201.9 284.2,202.4 285.0,203.0 285.8,203.5 286.6,204.0 287.4,204.6 288.2,205.1 289.0,205.6 289.8,206.1 290.6,206.6" fill="none" stroke="#ff0000" stroke-width="1.70" stroke-linecap="square" shape-rendering="crispEdges"/>
<path d="M290.6,206.6 291.4,207.1 292.2,207.6 293.0,208.1 293.7,208.6 294.5,209.1 295.3,209.6 296.1,210.1 296.9,210.6 297.7,211.1 298.5,211.6 299.3,212.1 M299.3,212.1 300.1,212.6 300.9,213.1 301.7,213.6 302.5,214.0 303.3,214.5 304.1,215.0 304.9,215.5 305.7,215.9 306.5,216.4 307.3,216.9 308.1,217.3" fill="none" stroke="#ff0000" stroke-width="1.75" stroke-linecap="square" shape-rendering="crispEdges"/>
<path d="M129.8,33.9 130.6,35.6 131.4,37.2 132.2,38.7 133.0,40.2 133.8,41.6 134.6,43.0 M308.1,217.3 308.9,217.8 309.7,218.3 310.5,218.7 311.3,219.2 312.1,219.6 312.9,220.1 313.7,220.5 314.5,221.0 315.3,221.4 316.1,221.9 316.9,222.3 M316.9,222.3 317.7,222.7 318.5,223.2 319.3,223.6 320.1,224.0 320.9,224.5 321.7,224.9 322.5,225.3 323.3,225.8 324.1,226.2 324.9,226.6 325.7,227.0" fill="none" stroke="#ff0000" stroke-width="1.80" stroke-linecap="square" shape-rendering="crispEdges"/>
<path d="M325.7,227.0 326.5,227.4 327.3,227.9 328.1,228.3 328.9,228.7 329.7,229.1 330.5,229.5 331.3,229.9 332.1,230.3 332.9,230.7 333.7,231.1 334.5,231.5 M334.5,231.5 335.3,231.9 336.1,232.3 336.9,232.7 337.7,233.1 338.5,233.5 339.3,233.9 340.1,234.2 340.9,234.6 341.7,235.0 342.5,235.4 343.3,235.8 M343.3,235.8 344.1,236.1 344.9,236.5 345.7,236.9 346.5,237.3 347.3,237.6 348.1,238.0 348.9,238.4 349.7,238.7 350.5,239.1 351.3,239.4 352.1,239.8" fill="none" stroke="#ff0000" stroke-width="1.85" stroke-linecap="square" shape-rendering="crispEdges"/>
<path d="M122.6,16.0 123.4,18.3 124.2,20.4 125.0,22.6 125.8,24.6 M125.8,24.6 126.6,26.6 127.4,28.5 128.2,30.4 129.0,32.2 129.8,33.9 M352.1,239.8 352.9,240.2 353.7,240.5 354.5,240.9 355.3,241.2 356.1,241.6 356.9,241.9 357.7,242.3 358.5,242.6 359.3,243.0 360.1,243.3 360.9,243.6 M360.9,243.6 361.7,244.0 362.5,244.3 363.3,244.6 364.1,245.0 364.9,245.3 365.7,245.6 366.5,246.0 367.3,246.3 368.1,246.6 368.9,246.9 369.7,247.3 M369.7,247.3 370.5,247.6 371.3,247.9 372.1,248.2 372.9,248.5 373.7,248.9 374.5,249.2 375.3,249.5 376.1,249.8 376.9,250.1 377.7,250.4 378.5,250.7 M378.5,250.7 379.3,251.0 380.1,251.3 380.9,251.6 381.7,251.9 382.5,252.2 383.3,252.5 384.1,252.8 384.9,253.1 385.7,253.4 386.5,253.7 387.3,254.0" fill="none" stroke="#ff0000" stroke-width="1.90" stroke-linecap="square" shape-rendering="crispEdges"/>
<path d="M387.3,254.0 388.1,254.3 388.9,254.6 389.7,254.8 390.5,255.1 391.3,255.4 392.1,255.7 392.9,256.0 393.7,256.3 394.5,256.5 395.3,256.8 396.1,257.1 M396.1,257.1 396.9,257.4 397.7,257.6 398.5,257.9 399.3,258.2 400.1,258.4 400.9,258.7 401.7,259.0 402.5,259.2 403.3,259.5 404.1,259.8 404.9,260.0 M404.9,260.0 405.7,260.3 406.5,260.5 407.3,260.8 408.1,261.1 408.9,261.3 409.7,261.6 410.5,261.8 411.3,262.1 412.1,262.3 412.9,262.6 413.7,262.8 M413.7,262.8 414.5,263.1 415.3,263.3 416.1,263.6 416.9,263.8 417.7,264.0 418.5,264.3 419.3,264.5 420.1,264.8 420.9,265.0 421.7,265.2 422.5,265.5 M422.5,265.5 423.3,265.7 424.1,265.9 424.9,266.2 425.7,266.4 426.5,266.6 427.3,266.9 428.1,267.1 428.9,267.3 429.7,267.5 430.5,267.8 431.3,268.0" fill="none" stroke="#ff0000" stroke-width="1.95" stroke-linecap="square" shape-rendering="crispEdges"/>
<path d="M431.3,268.0 432.1,268.2 432.9,268.4 433.7,268.7 434.5,268.9 435.3,269.1 436.1,269.3 436.9,269.5 437.7,269.8 438.5,270.0 439.3,270.2 440.1,270.4 M440.1,270.4 440.9,270.6 441.7,270.8 442.5,271.0 443.3,271.2 444.1,271.4 444.9,271.7 445.7,271.9 446.5,272.1 447.3,272.3 448.1,272.5 448.9,272.7 M448.9,272.7 449.7,272.9 450.5,273.1 451.3,273.3 452.1,273.5 452.9,273.7 453.7,273.9 454.5,274.1 455.3,274.3 456.1,274.5 456.9,274.7 457.7,274.9 M457.7,274.9 458.5,275.1 459.3,275.3 460.1,275.5 460.9,275.7 461.7,275.8 462.5,276.0 463.3,276.2 464.1,276.4 464.9,276.6 465.7,276.8 466.5,277.0 M466.5,277.0 467.3,277.2 468.1,277.4 468.9,277.5 469.7,277.7 470.5,277.9 471.3,278.1 472.1,278.3 472.9,278.5 473.7,278.6 474.5,278.8 475.3,279.0 M475.3,279.0 476.1,279.2 476.9,279.4 477.7,279.5 478.5,279.7 479.3,279.9 480.1,280.1 480.9,280.3 481.7,280.4 482.5,280.6 483.3,280.8 484.1,281.0 M484.1,281.0 484.9,281.1 485.7,281.3 486.5,281.5 487.3,281.6 488.1,281.8 488.9,282.0 489.7,282.2 490.5,282.3 491.3,282.5 492.1,282.7 492.9,282.8 M492.9,282.8 493.7,283.0 494.5,283.2 495.3,283.3 496.1,283.5 496.9,283.7 497.7,283.8 498.5,284.0 499.3,284.1 500.1,284.3 500.9,284.5 501.7,284.6 M501.7,284.6 502.5,284.8 503.3,284.9 504.1,285.1 504.9,285.3 505.7,285.4 506.5,285.6 507.3,285.7 508.1,285.9 508.9,286.1 509.7,286.2 510.5,286.4 M510.5,286.4 511.3,286.5 512.1,286.7 512.9,286.8 513.7,287.0 514.5,287.1 515.3,287.3 516.1,287.4 516.9,287.6 517.7,287.7 518.5,287.9 519.3,288.0 M519.3,288.0 520.1,288.2 520.9,288.3 521.7,288.5 522.5,288.6 523.3,288.8 524.1,288.9 524.9,289.1 525.7,289.2 526.5,289.3 527.3,289.5 528.1,289.6 M528.1,289.6 528.9,289.8 529.7,289.9 530.5,290.1 531.3,290.2 532.1,290.3 532.9,290.5 533.7,290.6 534.5,290.8 535.3,290.9 536.1,291.0 536.9,291.2 M536.9,291.2 537.7,291.3 538.5,291.4 539.3,291.6 540.1,291.7 540.9,291.8 541.7,292.0 542.5,292.1 543.3,292.2 544.1,292.4 544.9,292.5 545.7,292.6 M545.7,292.6 546.5,292.8 547.3,292.9 548.1,293.0 548.9,293.2 549.7,293.3 550.5,293.4 551.3,293.5 552.1,293.7 552.9,293.8 553.7,293.9 554.5,294.1" fill="none" stroke="#ff0000" stroke-width="2.00" stroke-linecap="square" shape-rendering="crispEdges"/>
<path d="M554.5,294.1 555.3,294.2 556.1,294.3 556.9,294.4 557.7,294.6 558.5,294.7 559.3,294.8 560.1,294.9 560.9,295.1 561.7,295.2 562.5,295.3 563.3,295.4 M563.3,295.4 564.1,295.5 564.9,295.7 565.7,295.8 566.5,295.9 567.3,296.0 568.1,296.1 568.9,296.3 569.7,296.4 570.5,296.5 571.3,296.6 572.1,296.7 M572.1,296.7 572.9,296.8 573.7,297.0 574.5,297.1 575.3,297.2 576.1,297.3 576.9,297.4 577.7,297.5 578.5,297.6 579.3,297.8 580.1,297.9 580.9,298.0 M580.9,298.0 581.7,298.1 582.5,298.2 583.3,298.3 584.1,298.4 584.9,298.5 585.7,298.6 586.5,298.7 587.3,298.9 588.1,299.0 588.9,299.1 589.7,299.2 M589.7,299.2 590.5,299.3 591.3,299.4 592.1,299.5 592.9,299.6 593.7,299.7 594.5,299.8 595.3,299.9 596.1,300.0 596.9,300.1 597.7,300.2 598.5,300.3 M598.5,300.3 599.3,300.4 600.1,300.5 600.9,300.6 601.7,300.7 602.5,300.8 603.3,300.9 604.1,301.0 604.9,301.1 605.7,301.2 606.5,301.3 607.3,301.4 M607.3,301.4 608.1,301.5 608.9,301.6 609.7,301.7 610.5,301.8 611.3,301.9 612.1,302.0 612.9,302.1 613.7,302.2 614.5,302.3 615.3,302.4 616.1,302.5 M616.1,302.5 616.9,302.6 617.7,302.7 618.5,302.8 619.3,302.9 620.1,303.0 620.9,303.1 621.7,303.2 622.5,303.3 623.3,303.3 624.1,303.4 624.9,303.5 M624.9,303.5 625.7,303.6 626.5,303.7 627.3,303.8 628.1,303.9 628.9,304.0 629.7,304.1 630.5,304.2 631.3,304.2 632.1,304.3 632.9,304.4 633.7,304.5 M633.7,304.5 634.4,304.6 635.2,304.7 636.0,304.8 636.8,304.9 637.6,304.9 638.4,305.0 639.2,305.1 640.0,305.2 640.8,305.3 641.6,305.4 642.4,305.5 M642.4,305.5 643.2,305.5 644.0,305.6 644.8,305.7 645.6,305.8 646.4,305.9 647.2,305.9 648.0,306.0 648.8,306.1 649.6,306.2 650.4,306.3 651.2,306.4 M651.2,306.4 652.0,306.4 652.8,306.5 653.6,306.6 654.4,306.7 655.2,306.8 656.0,306.8 656.8,306.9 657.6,307.0 658.4,307.1 659.2,307.2 660.0,307.2 M660.0,307.2 660.8,307.3 661.6,307.4 662.4,307.5 663.2,307.5 664.0,307.6 664.8,307.7 665.6,307.8 666.4,307.8 667.2,307.9 668.0,308.0 668.8,308.1 M668.8,308.1 669.6,308.1 670.4,308.2 671.2,308.3 672.0,308.4 672.8,308.4 673.6,308.5 674.4,308.6 675.2,308.7 676.0,308.7 676.8,308.8 677.6,308.9 M677.6,308.9 678.4,309.0 679.2,309.0 680.0,309.1 680.8,309.2 681.6,309.2 682.4,309.3 683.2,309.4 684.0,309.5 684.8,309.5 685.6,309.6 686.4,309.7 M686.4,309.7 687.2,309.7 688.0,309.8 688.8,309.9 689.6,309.9 690.4,310.0 691.2,310.1 692.0,310.1 692.8,310.2 693.6,310.3 694.4,310.4 695.2,310.4 M695.2,310.4 696.0,310.5 696.8,310.6 697.6,310.6 698.4,310.7 699.2,310.8 700.0,310.8 700.8,310.9 701.6,311.0 702.4,311.0 703.2,311.1 704.0,311.2 M704.0,311.2 704.8,311.2 705.6,311.3 706.4,311.3 707.2,311.4 708.0,311.5 708.8,311.5 709.6,311.6 710.4,311.7 711.2,311.7 712.0,311.8 712.8,311.9 M712.8,311.9 713.6,311.9 714.4,312.0 715.2,312.1 716.0,312.1 716.8,312.2 717.6,312.2 718.4,312.3 719.2,312.4 720.0,312.4 720.8,312.5 721.6,312.6 M721.6,312.6 722.4,312.6 723.2,312.7 724.0,312.7 724.8,312.8 725.6,312.9 726.4,312.9 727.2,313.0 728.0,313.0 728.8,313.1 729.6,313.2 730.4,313.2 M730.4,313.2 731.2,313.3 732.0,313.3 732.8,313.4 733.6,313.5 734.4,313.5 735.2,313.6 736.0,313.6 736.8,313.7 737.6,313.8 738.4,313.8 739.2,313.9 M739.2,313.9 740.0,313.9 740.8,314.0 741.6,314.1 742.4,314.1 743.2,314.2 744.0,314.2 744.8,314.3 745.6,314.4 746.4,314.4 747.2,314.5 748.0,314.5 M748.0,314.5 748.8,314.6 749.6,314.6 750.4,314.7 751.2,314.8 752.0,314.8 752.8,314.9 753.6,314.9 754.4,315.0 755.2,315.0 756.0,315.1 756.8,315.2 M756.8,315.2 757.6,315.2 758.4,315.3 759.2,315.3 760.0,315.4 760.8,315.4 761.6,315.5 762.4,315.5 763.2,315.6 764.0,315.7 764.8,315.7 765.6,315.8 M765.6,315.8 766.4,315.8 767.2,315.9 768.0,315.9 768.8,316.0 769.6,316.0 770.4,316.1 771.2,316.1 772.0,316.2 772.8,316.3 773.6,316.3 774.4,316.4 M774.4,316.4 775.2,316.4 776.0,316.5 776.8,316.5 777.6,316.6 778.4,316.6 779.2,316.7 780.0,316.7 780.8,316.8 781.6,316.8 782.4,316.9 783.2,316.9 M783.2,316.9 784.0,317.0 784.8,317.1 785.6,317.1 786.4,317.2 787.2,317.2 788.0,317.3 788.8,317.3 789.6,317.4 790.4,317.4 791.2,317.5 792.0,317.5 M792.0,317.5 792.8,317.6 793.6,317.6 794.4,317.7 795.2,317.7 796.0,317.8 796.8,317.8 797.6,317.9 798.4,317.9 799.2,318.0 800.0,318.0 800.8,318.1 M800.8,318.1 801.6,318.1 802.4,318.2 803.2,318.2 804.0,318.3 804.8,318.3 805.6,318.4 806.4,318.4 807.2,318.5 808.0,318.5 808.8,318.6 809.6,318.6 M809.6,318.6 810.4,318.7 811.2,318.7 812.0,318.8 812.8,318.8 813.6,318.9 814.4,318.9 815.2,318.9 816.0,319.0 816.8,319.0 817.6,319.1 818.4,319.1 M818.4,319.1 819.2,319.2 820.0,319.2 820.8,319.3 821.6,319.3 822.4,319.4 823.2,319.4 824.0,319.5 824.8,319.5 825.6,319.6 826.4,319.6 827.2,319.7 M827.2,319.7 828.0,319.7 828.8,319.7 829.6,319.8 830.4,319.8 831.2,319.9 832.0,319.9 832.8,320.0 833.6,320.0 834.4,320.1 835.2,320.1 836.0,320.2 M836.0,320.2 836.8,320.2 837.6,320.2 838.4,320.3 839.2,320.3 840.0,320.4 840.8,320.4 841.6,320.5 842.4,320.5 843.2,320.6 844.0,320.6 844.8,320.6 M844.8,320.6 845.6,320.7 846.4,320.7 847.2,320.8 848.0,320.8 848.8,320.9 849.6,320.9 850.4,320.9 851.2,321.0 852.0,321.0 852.8,321.1 853.6,321.1 M853.6,321.1 854.4,321.2 855.2,321.2 856.0,321.2 856.8,321.3 857.6,321.3 858.4,321.4 859.2,321.4 860.0,321.5 860.8,321.5 861.6,321.5 862.4,321.6 M862.4,321.6 863.2,321.6 864.0,321.7 864.8,321.7 865.6,321.7 866.4,321.8 867.2,321.8 868.0,321.9 868.8,321.9 869.6,321.9 870.4,322.0 871.2,322.0 M871.2,322.0 872.0,322.1 872.8,322.1 873.6,322.1 874.4,322.2 875.2,322.2 876.0,322.3 876.8,322.3 877.6,322.3 878.4,322.4 879.2,322.4 880.0,322.5 M880.0,322.5 880.8,322.5 881.6,322.5 882.4,322.6 883.2,322.6 884.0,322.7 884.8,322.7 885.6,322.7 886.4,322.8 887.2,322.8 888.0,322.9 888.8,322.9 M888.8,322.9 889.6,322.9 890.4,323.0 891.2,323.0 892.0,323.0 892.8,323.1 893.6,323.1 894.4,323.2 895.2,323.2 896.0,323.2 896.8,323.3 897.6,323.3 M897.6,323.3 898.4,323.3 899.2,323.4 900.0,323.4 900.8,323.4 901.6,323.5 902.4,323.5 903.2,323.6 904.0,323.6 904.8,323.6 905.6,323.7 906.4,323.7 M906.4,323.7 907.2,323.7 908.0,323.8 908.8,323.8 909.6,323.8 910.4,323.9 911.2,323.9 912.0,324.0 912.8,324.0 913.6,324.0 914.4,324.1 915.2,324.1 M915.2,324.1 916.0,324.1 916.8,324.2 917.6,324.2 918.4,324.2 919.2,324.3 920.0,324.3 920.8,324.3 921.6,324.4 922.4,324.4 923.2,324.4 924.0,324.5 M924.0,324.5 924.8,324.5 925.6,324.5 926.4,324.6 927.2,324.6 928.0,324.6 928.8,324.7 929.6,324.7 930.4,324.7 931.2,324.8 932.0,324.8 932.8,324.8 M932.8,324.8 933.6,324.9 934.4,324.9 935.2,324.9 936.0,325.0 936.8,325.0 937.6,325.0 938.4,325.1 939.2,325.1 940.0,325.1 940.8,325.2 941.6,325.2 M941.6,325.2 942.4,325.2 943.2,325.3 944.0,325.3 944.8,325.3 945.6,325.4 946.4,325.4 947.2,325.4 948.0,325.5 948.8,325.5 949.6,325.5 950.4,325.5 M950.4,325.5 951.2,325.6 952.0,325.6 952.8,325.6 953.6,325.7 954.4,325.7 955.2,325.7 956.0,325.8 956.8,325.8 957.6,325.8 958.4,325.9 959.2,325.9 M959.2,325.9 960.0,325.9 960.8,325.9 961.6,326.0 962.4,326.0 963.2,326.0 964.0,326.1 964.8,326.1 965.6,326.1 966.4,326.2 967.2,326.2 968.0,326.2 M968.0,326.2 968.8,326.2 969.6,326.3 970.4,326.3 971.2,326.3 972.0,326.4 972.8,326.4 973.6,326.4 974.4,326.4 975.2,326.5 975.9,326.5 976.7,326.5 M976.7,326.5 977.5,326.6 978.3,326.6 979.1,326.6 979.9,326.6 980.7,326.7 981.5,326.7 982.3,326.7 983.1,326.8 983.9,326.8 984.7,326.8 985.5,326.8 M985.5,326.8 986.3,326.9 987.1,326.9 987.9,326.9 988.7,326.9 989.5,327.0 990.3,327.0 991.1,327.0 991.9,327.1 992.7,327.1 993.5,327.1 994.3,327.1 M994.3,327.1 995.1,327.2 995.9,327.2 996.7,327.2 997.5,327.2 998.3,327.3 999.1,327.3 999.9,327.3 1000.7,327.3 1001.5,327.4 1002.3,327.4 1003.1,327.4 M1003.1,327.4 1003.9,327.5 1004.7,327.5 1005.5,327.5 1006.3,327.5 1007.1,327.6 1007.9,327.6 1008.7,327.6 1009.5,327.6 1010.3,327.7 1011.1,327.7 1011.9,327.7 M1011.9,327.7 1012.7,327.7 1013.5,327.8 1014.3,327.8 1015.1,327.8 1015.9,327.8 1016.7,327.9 1017.5,327.9 1018.3,327.9 1019.1,327.9 1019.9,328.0 1020.7,328.0 M1020.7,328.0 1021.5,328.0 1022.3,328.0 1023.1,328.1 1023.9,328.1 1024.7,328.1 1025.5,328.1 1026.3,328.1 1027.1,328.2 1027.9,328.2 1028.7,328.2 1029.5,328.2 M1029.5,328.2 1030.3,328.3 1031.1,328.3 1031.9,328.3 1032.7,328.3 1033.5,328.4 1034.3,328.4 1035.1,328.4 1035.9,328.4 1036.7,328.5 1037.5,328.5 1038.3,328.5 M1038.3,328.5 1039.1,328.5 1039.9,328.5 1040.7,328.6 1041.5,328.6 1042.3,328.6 1043.1,328.6 1043.9,328.7 1044.7,328.7 1045.5,328.7 1046.3,328.7 1047.1,328.7 M1047.1,328.7 1047.9,328.8 1048.7,328.8 1049.5,328.8 1050.3,328.8 1051.1,328.9 1051.9,328.9 1052.7,328.9 1053.5,328.9 1054.3,328.9 1055.1,329.0 1055.9,329.0 M1055.9,329.0 1056.7,329.0 1057.5,329.0 1058.3,329.0 1059.1,329.1 1059.9,329.1 1060.7,329.1 1061.5,329.1 1062.3,329.2 1063.1,329.2 1063.9,329.2 1064.7,329.2 M1064.7,329.2 1065.5,329.2 1066.3,329.3 1067.1,329.3 1067.9,329.3 1068.7,329.3 1069.5,329.3 1070.3,329.4 1071.1,329.4 1071.9,329.4 1072.7,329.4 1073.5,329.4 M1073.5,329.4 1074.3,329.5 1075.1,329.5 1075.9,329.5 1076.7,329.5 1077.5,329.5 1078.3,329.6 1079.1,329.6 1079.9,329.6 1080.7,329.6 1081.5,329.6 1082.3,329.7 M1082.3,329.7 1083.1,329.7 1083.9,329.7 1084.7,329.7 1085.5,329.7 1086.3,329.8 1087.1,329.8 1087.9,329.8 1088.7,329.8 1089.5,329.8 1090.3,329.8 1091.1,329.9 M1091.1,329.9 1091.9,329.9 1092.7,329.9 1093.5,329.9 1094.3,329.9 1095.1,330.0 1095.9,330.0 1096.7,330.0 1097.5,330.0 1098.3,330.0 1099.1,330.0 1099.9,330.1 M1099.9,330.1 1100.7,330.1 1101.5,330.1 1102.3,330.1 1103.1,330.1 1103.9,330.2 1104.7,330.2 1105.5,330.2 1106.3,330.2 1107.1,330.2 1107.9,330.2 1108.7,330.3 M1108.7,330.3 1109.5,330.3 1110.3,330.3 1111.1,330.3 1111.9,330.3 1112.7,330.4 1113.5,330.4 1114.3,330.4 1115.1,330.4 1115.9,330.4 1116.7,330.4 1117.5,330.5 M1117.5,330.5 1118.3,330.5 1119.1,330.5 1119.9,330.5 1120.7,330.5 1121.5,330.5 1122.3,330.6 1123.1,330.6 1123.9,330.6 1124.7,330.6 1125.5,330.6 1126.3,330.6 M1126.3,330.6 1127.1,330.7 1127.9,330.7 1128.7,330.7 1129.5,330.7 1130.3,330.7 1131.1,330.7 1131.9,330.8 1132.7,330.8 1133.5,330.8 1134.3,330.8 1135.1,330.8 M1135.1,330.8 1135.9,330.8 1136.7,330.8 1137.5,330.9 1138.3,330.9 1139.1,330.9 1139.9,330.9 1140.7,330.9 1141.5,330.9 1142.3,331.0 1143.1,331.0 1143.9,331.0 M1143.9,331.0 1144.7,331.0 1145.5,331.0 1146.3,331.0 1147.1,331.0 1147.9,331.1 1148.7,331.1 1149.5,331.1 1150.3,331.1 1151.1,331.1 1151.9,331.1 1152.7,331.2 M1152.7,331.2 1153.5,331.2 1154.3,331.2 1155.1,331.2 1155.9,331.2 1156.7,331.2 1157.5,331.2 1158.3,331.3 1159.1,331.3 1159.9,331.3 1160.7,331.3 1161.5,331.3 M1161.5,331.3 1162.3,331.3 1163.1,331.3 1163.9,331.4 1164.7,331.4 1165.5,331.4 1166.3,331.4 1167.1,331.4 1167.9,331.4 1168.7,331.4 1169.5,331.5 1170.3,331.5 M1170.3,331.5 1171.1,331.5 1171.9,331.5 1172.7,331.5 1173.5,331.5 1174.3,331.5 1175.1,331.6 1175.9,331.6 1176.7,331.6 1177.5,331.6 1178.3,331.6 1179.1,331.6 M1179.1,331.6 1179.9,331.6 1180.7,331.6 1181.5,331.7 1182.3,331.7 1183.1,331.7 1183.9,331.7 1184.7,331.7 1185.5,331.7 1186.3,331.7 1187.1,331.8 1187.9,331.8 M1187.9,331.8 1188.7,331.8 1189.5,331.8 1190.3,331.8 1191.1,331.8 1191.9,331.8 1192.7,331.8 1193.5,331.9 1194.3,331.9 1195.1,331.9 1195.9,331.9 1196.7,331.9 M1196.7,331.9 1197.5,331.9 1198.3,331.9 1199.1,331.9 1199.9,332.0 1200.7,332.0 1201.5,332.0 1202.3,332.0 1203.1,332.0 1203.9,332.0 1204.7,332.0 1205.5,332.0 M1205.5,332.0 1206.3,332.1 1207.1,332.1 1207.9,332.1 1208.7,332.1 1209.5,332.1 1210.3,332.1 1211.1,332.1 1211.9,332.1 1212.7,332.2 1213.5,332.2 1214.3,332.2 M1214.3,332.2 1215.1,332.2 1215.9,332.2 1216.7,332.2 1217.5,332.2 1218.3,332.2 1219.1,332.3 1219.9,332.3 1220.7,332.3 1221.5,332.3 1222.3,332.3 1223.1,332.3 M1223.1,332.3 1223.9,332.3 1224.7,332.3 1225.5,332.3 1226.3,332.4 1227.1,332.4 1227.9,332.4 1228.7,332.4 1229.5,332.4 1230.3,332.4 1231.1,332.4 1231.9,332.4 M1231.9,332.4 1232.7,332.4 1233.5,332.5 1234.3,332.5 1235.1,332.5 1235.9,332.5 1236.7,332.5 1237.5,332.5 1238.3,332.5 1239.1,332.5 1239.9,332.5 1240.7,332.6 M1240.7,332.6 1241.5,332.6 1242.3,332.6 1243.1,332.6 1243.9,332.6 1244.7,332.6 1245.5,332.6 1246.3,332.6 1247.1,332.6 1247.9,332.7 1248.7,332.7 1249.5,332.7 M1249.5,332.7 1250.3,332.7 1251.1,332.7 1251.9,332.7 1252.7,332.7 1253.5,332.7 1254.3,332.7 1255.1,332.8 1255.9,332.8 1256.7,332.8 1257.5,332.8 1258.3,332.8 M1258.3,332.8 1259.1,332.8 1259.9,332.8 1260.7,332.8 1261.5,332.8 1262.3,332.8 1263.1,332.9 1263.9,332.9 1264.7,332.9 1265.5,332.9 1266.3,332.9 1267.1,332.9 M1267.1,332.9 1267.9,332.9 1268.7,332.9 1269.5,332.9 1270.3,333.0 1271.1,333.0 1271.9,333.0 1272.7,333.0 1273.5,333.0 1274.3,333.0 1275.1,333.0 1275.9,333.0 M1275.9,333.0 1276.7,333.0 1277.5,333.0 1278.3,333.1 1279.1,333.1 1279.9,333.1 1280.7,333.1 1281.5,333.1 1282.3,333.1 1283.1,333.1 1283.9,333.1 1284.7,333.1 M1284.7,333.1 1285.5,333.1 1286.3,333.2 1287.1,333.2 1287.9,333.2 1288.7,333.2 1289.5,333.2 1290.3,333.2 1291.1,333.2 1291.9,333.2 1292.7,333.2 1293.5,333.2 M1293.5,333.2 1294.3,333.2 1295.1,333.3 1295.9,333.3 1296.7,333.3 1297.5,333.3 1298.3,333.3 1299.1,333.3 1299.9,333.3 1300.7,333.3 1301.5,333.3 1302.3,333.3 M1302.3,333.3 1303.1,333.4 1303.9,333.4 1304.7,333.4 1305.5,333.4 1306.3,333.4 1307.1,333.4 1307.9,333.4 1308.7,333.4 1309.5,333.4 1310.3,333.4 1311.1,333.4 M1311.1,333.4 1311.9,333.5 1312.7,333.5 1313.5,333.5 1314.3,333.5 1315.1,333.5 1315.9,333.5 1316.6,333.5 1317.4,333.5 1318.2,333.5 1319.0,333.5 1319.8,333.6 M1319.8,333.6 1320.6,333.6 1321.4,333.6 1322.2,333.6 1323.0,333.6 1323.8,333.6 1324.6,333.6 1325.4,333.6 1326.2,333.6 1327.0,333.6 1327.8,333.6 1328.6,333.7 M1328.6,333.7 1329.4,333.7 1330.2,333.7 1331.0,333.7 1331.8,333.7 1332.6,333.7 1333.4,333.7 1334.2,333.7 1335.0,333.7 1335.8,333.7 1336.6,333.7 1337.4,333.8 M1337.4,333.8 1338.2,333.8 1339.0,333.8 1339.8,333.8 1340.6,333.8 1341.4,333.8 1342.2,333.8 1343.0,333.8 1343.8,333.8 1344.6,333.8 1345.4,333.8 1346.2,333.9 M1346.2,333.9 1347.0,333.9 1347.8,333.9 1348.6,333.9 1349.4,333.9 1350.2,333.9 1351.0,333.9 1351.8,333.9 1352.6,333.9 1353.4,333.9 1354.2,333.9 1355.0,333.9 M1355.0,333.9 1355.8,334.0 1356.6,334.0 1357.4,334.0 1358.2,334.0 1359.0,334.0 1359.8,334.0 1360.6,334.0 1361.4,334.0 1362.2,334.0 1363.0,334.0 1363.8,334.0 M1363.8,334.0 1364.6,334.1 1365.4,334.1 1366.2,334.1 1367.0,334.1 1367.8,334.1 1368.6,334.1 1369.4,334.1 1370.2,334.1 1371.0,334.1 1371.8,334.1 1372.6,334.1 M1372.6,334.1 1373.4,334.2 1374.2,334.2 1375.0,334.2 1375.8,334.2 1376.6,334.2 1377.4,334.2 1378.2,334.2 1379.0,334.2 1379.8,334.2 1380.6,334.2 1381.4,334.2 M1381.4,334.2 1382.2,334.3 1383.0,334.3 1383.8,334.3 1384.6,334.3 1385.4,334.3 1386.2,334.3 1387.0,334.3 1387.8,334.3 1388.6,334.3 1389.4,334.3 1390.2,334.3 M1390.2,334.3 1391.0,334.4 1391.8,334.4 1392.6,334.4 1393.4,334.4 1394.2,334.4 1395.0,334.4 1395.8,334.4 1396.6,334.4 1397.4,334.4 1398.2,334.4 1399.0,334.4 M1399.0,334.4 1399.8,334.4 1400.6,334.5 1401.4,334.5 1402.2,334.5 1403.0,334.5 1403.8,334.5 1404.6,334.5 1405.4,334.5 1406.2,334.5 1407.0,334.5 1407.8,334.5 M1407.8,334.5 1408.6,334.5 1409.4,334.6 1410.2,334.6 1411.0,334.6 1411.8,334.6 1412.6,334.6 1413.4,334.6 1414.2,334.6 1415.0,334.6 1415.8,334.6 1416.6,334.6 M1416.6,334.6 1417.4,334.6 1418.2,334.7 1419.0,334.7 1419.8,334.7 1420.6,334.7 1421.4,334.7 1422.2,334.7 1423.0,334.7 1423.8,334.7 1424.6,334.7 1425.4,334.7 M1425.4,334.7 1426.2,334.8 1427.0,334.8 1427.8,334.8 1428.6,334.8 1429.4,334.8 1430.2,334.8 1431.0,334.8 1431.8,334.8 1432.6,334.8 1433.4,334.8 1434.2,334.8 M1434.2,334.8 1435.0,334.9 1435.8,334.9 1436.6,334.9 1437.4,334.9 1438.2,334.9 1439.0,334.9 1439.8,334.9 1440.6,334.9 1441.4,334.9 1442.2,334.9 1443.0,334.9 M1443.0,334.9 1443.8,335.0 1444.6,335.0 1445.4,335.0 1446.2,335.0 1447.0,335.0 1447.8,335.0 1448.6,335.0 1449.4,335.0 1450.2,335.0 1451.0,335.0 1451.8,335.1 M1451.8,335.1 1452.6,335.1 1453.4,335.1 1454.2,335.1 1455.0,335.1 1455.8,335.1 1456.6,335.1 1457.4,335.1 1458.2,335.1 1459.0,335.1 1459.8,335.2 1460.6,335.2 M1460.6,335.2 1461.4,335.2 1462.2,335.2 1463.0,335.2 1463.8,335.2 1464.6,335.2 1465.4,335.2 1466.2,335.2 1467.0,335.2 1467.8,335.3 1468.6,335.3 1469.4,335.3 M1469.4,335.3 1470.2,335.3 1471.0,335.3 1471.8,335.3 1472.6,335.3 1473.4,335.3 1474.2,335.3 1475.0,335.3 1475.8,335.4 1476.6,335.4 1477.4,335.4 1478.2,335.4 M1478.2,335.4 1479.0,335.4 1479.8,335.4 1480.6,335.4 1481.4,335.4 1482.2,335.4 1483.0,335.4 1483.8,335.5 1484.6,335.5 1485.4,335.5 1486.2,335.5 1487.0,335.5" fill="none" stroke="#ff0000" stroke-width="2.05" stroke-linecap="square" shape-rendering="crispEdges"/>
<path d="M122.6,16.0 123.4,16.8 124.2,17.6 125.0,18.4 125.8,19.3 126.6,20.1 127.4,20.9 128.2,21.7 129.0,22.5 129.8,23.3 130.6,24.1 M130.6,24.1 131.4,24.9 132.2,25.7 133.0,26.5 133.8,27.3 134.6,28.1 135.4,28.9 136.2,29.8 137.0,30.6 137.8,31.4 138.6,32.2 M138.6,32.2 139.4,33.0 140.2,33.8 141.0,34.6 141.8,35.5 142.6,36.3 143.4,37.1 144.2,37.9 145.0,38.8 145.8,39.6 146.6,40.4 M186.6,83.5 187.4,84.3 188.2,85.1 189.0,86.0 189.8,86.8 190.6,87.6 191.4,88.4 192.2,89.2 193.0,90.1 193.8,90.9 194.6,91.7 M194.6,91.7 195.4,92.5 196.2,93.3 197.0,94.1 197.8,94.9 198.6,95.7 199.4,96.5 200.2,97.3 201.0,98.1 201.8,98.9 202.6,99.7 203.4,100.5 M203.4,100.5 204.2,101.2 205.0,102.0 205.8,102.8 206.6,103.6 207.4,104.3 208.2,105.1 209.0,105.9 209.8,106.7 210.6,107.4 211.4,108.2 212.2,109.0" fill="none" stroke="#0000ff" stroke-width="1.45" stroke-linecap="square" shape-rendering="crispEdges"/>
<path d="M146.6,40.4 147.4,41.3 148.2,42.1 149.0,43.0 149.8,43.8 150.6,44.7 151.4,45.5 152.2,46.4 153.0,47.2 153.8,48.1 154.6,49.0 M154.6,49.0 155.4,49.8 156.2,50.7 157.0,51.5 157.8,52.4 158.6,53.3 159.4,54.2 160.2,55.0 161.0,55.9 161.8,56.8 162.6,57.7 M162.6,57.7 163.4,58.5 164.2,59.4 165.0,60.3 165.8,61.2 166.6,62.0 167.4,62.9 168.2,63.8 169.0,64.6 169.8,65.5 170.6,66.4 M170.6,66.4 171.4,67.3 172.2,68.1 173.0,69.0 173.8,69.9 174.6,70.7 175.4,71.6 176.2,72.5 177.0,73.3 177.8,74.2 178.6,75.0 M178.6,75.0 179.4,75.9 180.2,76.7 181.0,77.6 181.8,78.4 182.6,79.3 183.4,80.1 184.2,81.0 185.0,81.8 185.8,82.6 186.6,83.5 M212.2,109.0 213.0,109.7 213.8,110.5 214.6,111.2 215.4,112.0 216.2,112.7 217.0,113.5 217.8,114.2 218.6,115.0 219.4,115.7 220.2,116.5 221.0,117.2 M221.0,117.2 221.8,117.9 222.6,118.7 223.4,119.4 224.2,120.1 225.0,120.8 225.8,121.6 226.6,122.3 227.4,123.0 228.2,123.7 229.0,124.5 229.8,125.2" fill="none" stroke="#0000ff" stroke-width="1.50" stroke-linecap="square" shape-rendering="crispEdges"/>
<path d="M229.8,125.2 230.6,125.9 231.4,126.6 232.2,127.3 233.0,128.0 233.8,128.7 234.6,129.4 235.4,130.1 236.2,130.8 237.0,131.5 237.8,132.2 238.6,132.9 M238.6,132.9 239.4,133.6 240.2,134.3 241.0,135.0 241.8,135.6 242.6,136.3 243.4,137.0 244.2,137.7 245.0,138.4 245.8,139.0 246.6,139.7 247.4,140.4" fill="none" stroke="#0000ff" stroke-width="1.55" stroke-linecap="square" shape-rendering="crispEdges"/>
<path d="M247.4,140.4 248.2,141.0 249.0,141.7 249.8,142.4 250.6,143.0 251.4,143.7 252.2,144.3 253.0,145.0 253.8,145.7 254.6,146.3 255.4,147.0 256.2,147.6 M256.2,147.6 257.0,148.3 257.8,148.9 258.6,149.5 259.4,150.2 260.2,150.8 261.0,151.5 261.8,152.1 262.6,152.7 263.4,153.4 264.2,154.0 265.0,154.6" fill="none" stroke="#0000ff" stroke-width="1.60" stroke-linecap="square" shape-rendering="crispEdges"/>
<path d="M265.0,154.6 265.8,155.2 266.6,155.9 267.4,156.5 268.2,157.1 269.0,157.7 269.8,158.3 270.6,158.9 271.4,159.5 272.2,160.2 273.0,160.8 273.8,161.4 M273.8,161.4 274.6,162.0 275.4,162.6 276.2,163.2 277.0,163.8 277.8,164.4 278.6,165.0 279.4,165.6 280.2,166.1 281.0,166.7 281.8,167.3 282.6,167.9 M282.6,167.9 283.4,168.5 284.2,169.1 285.0,169.7 285.8,170.2 286.6,170.8 287.4,171.4 288.2,172.0 289.0,172.5 289.8,173.1 290.6,173.7 291.4,174.2" fill="none" stroke="#0000ff" stroke-width="1.65" stroke-linecap="square" shape-rendering="crispEdges"/>
<path d="M291.4,174.2 292.2,174.8 293.0,175.3 293.7,175.9 294.5,176.5 295.3,177.0 296.1,177.6 296.9,178.1 297.7,178.7 298.5,179.2 299.3,179.8 300.1,180.3 M300.1,180.3 300.9,180.9 301.7,181.4 302.5,181.9 303.3,182.5 304.1,183.0 304.9,183.6 305.7,184.1 306.5,184.6 307.3,185.1 308.1,185.7 308.9,186.2 M308.9,186.2 309.7,186.7 310.5,187.2 311.3,187.8 312.1,188.3 312.9,188.8 313.7,189.3 314.5,189.8 315.3,190.4 316.1,190.9 316.9,191.4 317.7,191.9" fill="none" stroke="#0000ff" stroke-width="1.70" stroke-linecap="square" shape-rendering="crispEdges"/>
<path d="M317.7,191.9 318.5,192.4 319.3,192.9 320.1,193.4 320.9,193.9 321.7,194.4 322.5,194.9 323.3,195.4 324.1,195.9 324.9,196.4 325.7,196.9 326.5,197.4 M326.5,197.4 327.3,197.8 328.1,198.3 328.9,198.8 329.7,199.3 330.5,199.8 331.3,200.3 332.1,200.7 332.9,201.2 333.7,201.7 334.5,202.2 335.3,202.6 M335.3,202.6 336.1,203.1 336.9,203.6 337.7,204.0 338.5,204.5 339.3,205.0 340.1,205.4 340.9,205.9 341.7,206.3 342.5,206.8 343.3,207.3 344.1,207.7" fill="none" stroke="#0000ff" stroke-width="1.75" stroke-linecap="square" shape-rendering="crispEdges"/>
<path d="M344.1,207.7 344.9,208.2 345.7,208.6 346.5,209.1 347.3,209.5 348.1,210.0 348.9,210.4 349.7,210.8 350.5,211.3 351.3,211.7 352.1,212.2 352.9,212.6 M352.9,212.6 353.7,213.0 354.5,213.5 355.3,213.9 356.1,214.3 356.9,214.8 357.7,215.2 358.5,215.6 359.3,216.1 360.1,216.5 360.9,216.9 361.7,217.3 M361.7,217.3 362.5,217.7 363.3,218.2 364.1,218.6 364.9,219.0 365.7,219.4 366.5,219.8 367.3,220.2 368.1,220.6 368.9,221.0 369.7,221.5 370.5,221.9" fill="none" stroke="#0000ff" stroke-width="1.80" stroke-linecap="square" shape-rendering="crispEdges"/>
<path d="M370.5,221.9 371.3,222.3 372.1,222.7 372.9,223.1 373.7,223.5 374.5,223.9 375.3,224.3 376.1,224.7 376.9,225.0 377.7,225.4 378.5,225.8 379.3,226.2 M379.3,226.2 380.1,226.6 380.9,227.0 381.7,227.4 382.5,227.8 383.3,228.1 384.1,228.5 384.9,228.9 385.7,229.3 386.5,229.7 387.3,230.0 388.1,230.4 M388.1,230.4 388.9,230.8 389.7,231.2 390.5,231.5 391.3,231.9 392.1,232.3 392.9,232.6 393.7,233.0 394.5,233.4 395.3,233.7 396.1,234.1 396.9,234.4" fill="none" stroke="#0000ff" stroke-width="1.85" stroke-linecap="square" shape-rendering="crispEdges"/>
<path d="M396.9,234.4 397.7,234.8 398.5,235.2 399.3,235.5 400.1,235.9 400.9,236.2 401.7,236.6 402.5,236.9 403.3,237.3 404.1,237.6 404.9,238.0 405.7,238.3 M405.7,238.3 406.5,238.7 407.3,239.0 408.1,239.4 408.9,239.7 409.7,240.0 410.5,240.4 411.3,240.7 412.1,241.0 412.9,241.4 413.7,241.7 414.5,242.0 M414.5,242.0 415.3,242.4 416.1,242.7 416.9,243.0 417.7,243.4 418.5,243.7 419.3,244.0 420.1,244.3 420.9,244.7 421.7,245.0 422.5,245.3 423.3,245.6 M423.3,245.6 424.1,245.9 424.9,246.3 425.7,246.6 426.5,246.9 427.3,247.2 428.1,247.5 428.9,247.8 429.7,248.1 430.5,248.4 431.3,248.7 432.1,249.1 M432.1,249.1 432.9,249.4 433.7,249.7 434.5,250.0 435.3,250.3 436.1,250.6 436.9,250.9 437.7,251.2 438.5,251.5 439.3,251.8 440.1,252.1 440.9,252.3" fill="none" stroke="#0000ff" stroke-width="1.90" stroke-linecap="square" shape-rendering="crispEdges"/>
<path d="M440.9,252.3 441.7,252.6 442.5,252.9 443.3,253.2 444.1,253.5 444.9,253.8 445.7,254.1 446.5,254.4 447.3,254.7 448.1,254.9 448.9,255.2 449.7,255.5 M449.7,255.5 450.5,255.8 451.3,256.1 452.1,256.4 452.9,256.6 453.7,256.9 454.5,257.2 455.3,257.5 456.1,257.7 456.9,258.0 457.7,258.3 458.5,258.5 M458.5,258.5 459.3,258.8 460.1,259.1 460.9,259.4 461.7,259.6 462.5,259.9 463.3,260.2 464.1,260.4 464.9,260.7 465.7,260.9 466.5,261.2 467.3,261.5 M467.3,261.5 468.1,261.7 468.9,262.0 469.7,262.2 470.5,262.5 471.3,262.7 472.1,263.0 472.9,263.3 473.7,263.5 474.5,263.8 475.3,264.0 476.1,264.3 M476.1,264.3 476.9,264.5 477.7,264.8 478.5,265.0 479.3,265.2 480.1,265.5 480.9,265.7 481.7,266.0 482.5,266.2 483.3,266.5 484.1,266.7 484.9,266.9 M484.9,266.9 485.7,267.2 486.5,267.4 487.3,267.7 488.1,267.9 488.9,268.1 489.7,268.4 490.5,268.6 491.3,268.8 492.1,269.1 492.9,269.3 493.7,269.5 M493.7,269.5 494.5,269.7 495.3,270.0 496.1,270.2 496.9,270.4 497.7,270.7 498.5,270.9 499.3,271.1 500.1,271.3 500.9,271.5 501.7,271.8 502.5,272.0" fill="none" stroke="#0000ff" stroke-width="1.95" stroke-linecap="square" shape-rendering="crispEdges"/>
<path d="M502.5,272.0 503.3,272.2 504.1,272.4 504.9,272.6 505.7,272.9 506.5,273.1 507.3,273.3 508.1,273.5 508.9,273.7 509.7,273.9 510.5,274.1 511.3,274.4 M511.3,274.4 512.1,274.6 512.9,274.8 513.7,275.0 514.5,275.2 515.3,275.4 516.1,275.6 516.9,275.8 517.7,276.0 518.5,276.2 519.3,276.4 520.1,276.6 M520.1,276.6 520.9,276.8 521.7,277.0 522.5,277.2 523.3,277.4 524.1,277.6 524.9,277.8 525.7,278.0 526.5,278.2 527.3,278.4 528.1,278.6 528.9,278.8 M528.9,278.8 529.7,279.0 530.5,279.2 531.3,279.4 532.1,279.6 532.9,279.7 533.7,279.9 534.5,280.1 535.3,280.3 536.1,280.5 536.9,280.7 537.7,280.9 M537.7,280.9 538.5,281.1 539.3,281.2 540.1,281.4 540.9,281.6 541.7,281.8 542.5,282.0 543.3,282.1 544.1,282.3 544.9,282.5 545.7,282.7 546.5,282.9 M546.5,282.9 547.3,283.0 548.1,283.2 548.9,283.4 549.7,283.6 550.5,283.7 551.3,283.9 552.1,284.1 552.9,284.3 553.7,284.4 554.5,284.6 555.3,284.8 M555.3,284.8 556.1,284.9 556.9,285.1 557.7,285.3 558.5,285.4 559.3,285.6 560.1,285.8 560.9,285.9 561.7,286.1 562.5,286.3 563.3,286.4 564.1,286.6 M564.1,286.6 564.9,286.7 565.7,286.9 566.5,287.1 567.3,287.2 568.1,287.4 568.9,287.5 569.7,287.7 570.5,287.9 571.3,288.0 572.1,288.2 572.9,288.3 M572.9,288.3 573.7,288.5 574.5,288.6 575.3,288.8 576.1,288.9 576.9,289.1 577.7,289.2 578.5,289.4 579.3,289.5 580.1,289.7 580.9,289.8 581.7,290.0 M581.7,290.0 582.5,290.1 583.3,290.3 584.1,290.4 584.9,290.6 585.7,290.7 586.5,290.9 587.3,291.0 588.1,291.2 588.9,291.3 589.7,291.4 590.5,291.6 M590.5,291.6 591.3,291.7 592.1,291.9 592.9,292.0 593.7,292.1 594.5,292.3 595.3,292.4 596.1,292.6 596.9,292.7 597.7,292.8 598.5,293.0 599.3,293.1 M599.3,293.1 600.1,293.2 600.9,293.4 601.7,293.5 602.5,293.6 603.3,293.8 604.1,293.9 604.9,294.0 605.7,294.2 606.5,294.3 607.3,294.4 608.1,294.6 M608.1,294.6 608.9,294.7 609.7,294.8 610.5,294.9 611.3,295.1 612.1,295.2 612.9,295.3 613.7,295.4 614.5,295.6 615.3,295.7 616.1,295.8 616.9,295.9" fill="none" stroke="#0000ff" stroke-width="2.00" stroke-linecap="square" shape-rendering="crispEdges"/>
<path d="M616.9,295.9 617.7,296.1 618.5,296.2 619.3,296.3 620.1,296.4 620.9,296.6 621.7,296.7 622.5,296.8 623.3,296.9 624.1,297.0 624.9,297.2 625.7,297.3 M625.7,297.3 626.5,297.4 627.3,297.5 628.1,297.6 628.9,297.7 629.7,297.9 630.5,298.0 631.3,298.1 632.1,298.2 632.9,298.3 633.7,298.4 634.4,298.5 M634.4,298.5 635.2,298.7 636.0,298.8 636.8,298.9 637.6,299.0 638.4,299.1 639.2,299.2 640.0,299.3 640.8,299.4 641.6,299.5 642.4,299.7 643.2,299.8 M643.2,299.8 644.0,299.9 644.8,300.0 645.6,300.1 646.4,300.2 647.2,300.3 648.0,300.4 648.8,300.5 649.6,300.6 650.4,300.7 651.2,300.8 652.0,300.9 M652.0,300.9 652.8,301.0 653.6,301.1 654.4,301.2 655.2,301.3 656.0,301.4 656.8,301.5 657.6,301.6 658.4,301.7 659.2,301.8 660.0,301.9 660.8,302.0 M660.8,302.0 661.6,302.1 662.4,302.2 663.2,302.3 664.0,302.4 664.8,302.5 665.6,302.6 666.4,302.7 667.2,302.8 668.0,302.9 668.8,303.0 669.6,303.1 M669.6,303.1 670.4,303.2 671.2,303.3 672.0,303.4 672.8,303.5 673.6,303.6 674.4,303.7 675.2,303.8 676.0,303.9 676.8,304.0 677.6,304.1 678.4,304.1 M678.4,304.1 679.2,304.2 680.0,304.3 680.8,304.4 681.6,304.5 682.4,304.6 683.2,304.7 684.0,304.8 684.8,304.9 685.6,305.0 686.4,305.0 687.2,305.1 M687.2,305.1 688.0,305.2 688.8,305.3 689.6,305.4 690.4,305.5 691.2,305.6 692.0,305.7 692.8,305.7 693.6,305.8 694.4,305.9 695.2,306.0 696.0,306.1 M696.0,306.1 696.8,306.2 697.6,306.3 698.4,306.3 699.2,306.4 700.0,306.5 700.8,306.6 701.6,306.7 702.4,306.8 703.2,306.9 704.0,306.9 704.8,307.0 M704.8,307.0 705.6,307.1 706.4,307.2 707.2,307.3 708.0,307.3 708.8,307.4 709.6,307.5 710.4,307.6 711.2,307.7 712.0,307.8 712.8,307.8 713.6,307.9 M713.6,307.9 714.4,308.0 715.2,308.1 716.0,308.2 716.8,308.2 717.6,308.3 718.4,308.4 719.2,308.5 720.0,308.5 720.8,308.6 721.6,308.7 722.4,308.8 M722.4,308.8 723.2,308.9 724.0,308.9 724.8,309.0 725.6,309.1 726.4,309.2 727.2,309.2 728.0,309.3 728.8,309.4 729.6,309.5 730.4,309.6 731.2,309.6 M731.2,309.6 732.0,309.7 732.8,309.8 733.6,309.9 734.4,309.9 735.2,310.0 736.0,310.1 736.8,310.2 737.6,310.2 738.4,310.3 739.2,310.4 740.0,310.5 M740.0,310.5 740.8,310.5 741.6,310.6 742.4,310.7 743.2,310.8 744.0,310.8 744.8,310.9 745.6,311.0 746.4,311.0 747.2,311.1 748.0,311.2 748.8,311.3 M748.8,311.3 749.6,311.3 750.4,311.4 751.2,311.5 752.0,311.6 752.8,311.6 753.6,311.7 754.4,311.8 755.2,311.8 756.0,311.9 756.8,312.0 757.6,312.1 M757.6,312.1 758.4,312.1 759.2,312.2 760.0,312.3 760.8,312.3 761.6,312.4 762.4,312.5 763.2,312.5 764.0,312.6 764.8,312.7 765.6,312.8 766.4,312.8 M766.4,312.8 767.2,312.9 768.0,313.0 768.8,313.0 769.6,313.1 770.4,313.2 771.2,313.2 772.0,313.3 772.8,313.4 773.6,313.4 774.4,313.5 775.2,313.6 M775.2,313.6 776.0,313.6 776.8,313.7 777.6,313.8 778.4,313.8 779.2,313.9 780.0,314.0 780.8,314.0 781.6,314.1 782.4,314.2 783.2,314.2 784.0,314.3 M784.0,314.3 784.8,314.4 785.6,314.4 786.4,314.5 787.2,314.6 788.0,314.6 788.8,314.7 789.6,314.8 790.4,314.8 791.2,314.9 792.0,315.0 792.8,315.0 M792.8,315.0 793.6,315.1 794.4,315.1 795.2,315.2 796.0,315.3 796.8,315.3 797.6,315.4 798.4,315.5 799.2,315.5 800.0,315.6 800.8,315.7 801.6,315.7 M801.6,315.7 802.4,315.8 803.2,315.8 804.0,315.9 804.8,316.0 805.6,316.0 806.4,316.1 807.2,316.2 808.0,316.2 808.8,316.3 809.6,316.3 810.4,316.4 M810.4,316.4 811.2,316.5 812.0,316.5 812.8,316.6 813.6,316.6 814.4,316.7 815.2,316.8 816.0,316.8 816.8,316.9 817.6,316.9 818.4,317.0 819.2,317.1 M819.2,317.1 820.0,317.1 820.8,317.2 821.6,317.2 822.4,317.3 823.2,317.4 824.0,317.4 824.8,317.5 825.6,317.5 826.4,317.6 827.2,317.6 828.0,317.7 M828.0,317.7 828.8,317.8 829.6,317.8 830.4,317.9 831.2,317.9 832.0,318.0 832.8,318.0 833.6,318.1 834.4,318.2 835.2,318.2 836.0,318.3 836.8,318.3 M836.8,318.3 837.6,318.4 838.4,318.4 839.2,318.5 840.0,318.6 840.8,318.6 841.6,318.7 842.4,318.7 843.2,318.8 844.0,318.8 844.8,318.9 845.6,318.9 M845.6,318.9 846.4,319.0 847.2,319.0 848.0,319.1 848.8,319.2 849.6,319.2 850.4,319.3 851.2,319.3 852.0,319.4 852.8,319.4 853.6,319.5 854.4,319.5 M854.4,319.5 855.2,319.6 856.0,319.6 856.8,319.7 857.6,319.7 858.4,319.8 859.2,319.8 860.0,319.9 860.8,320.0 861.6,320.0 862.4,320.1 863.2,320.1 M863.2,320.1 864.0,320.2 864.8,320.2 865.6,320.3 866.4,320.3 867.2,320.4 868.0,320.4 868.8,320.5 869.6,320.5 870.4,320.6 871.2,320.6 872.0,320.7 M872.0,320.7 872.8,320.7 873.6,320.8 874.4,320.8 875.2,320.9 876.0,320.9 876.8,321.0 877.6,321.0 878.4,321.1 879.2,321.1 880.0,321.2 880.8,321.2 M880.8,321.2 881.6,321.3 882.4,321.3 883.2,321.4 884.0,321.4 884.8,321.5 885.6,321.5 886.4,321.6 887.2,321.6 888.0,321.6 888.8,321.7 889.6,321.7 M889.6,321.7 890.4,321.8 891.2,321.8 892.0,321.9 892.8,321.9 893.6,322.0 894.4,322.0 895.2,322.1 896.0,322.1 896.8,322.2 897.6,322.2 898.4,322.3 M898.4,322.3 899.2,322.3 900.0,322.4 900.8,322.4 901.6,322.4 902.4,322.5 903.2,322.5 904.0,322.6 904.8,322.6 905.6,322.7 906.4,322.7 907.2,322.8 M907.2,322.8 908.0,322.8 908.8,322.8 909.6,322.9 910.4,322.9 911.2,323.0 912.0,323.0 912.8,323.1 913.6,323.1 914.4,323.2 915.2,323.2 916.0,323.2 M916.0,323.2 916.8,323.3 917.6,323.3 918.4,323.4 919.2,323.4 920.0,323.5 920.8,323.5 921.6,323.5 922.4,323.6 923.2,323.6 924.0,323.7 924.8,323.7 M924.8,323.7 925.6,323.8 926.4,323.8 927.2,323.8 928.0,323.9 928.8,323.9 929.6,324.0 930.4,324.0 931.2,324.0 932.0,324.1 932.8,324.1 933.6,324.2 M933.6,324.2 934.4,324.2 935.2,324.3 936.0,324.3 936.8,324.3 937.6,324.4 938.4,324.4 939.2,324.5 940.0,324.5 940.8,324.5 941.6,324.6 942.4,324.6 M942.4,324.6 943.2,324.7 944.0,324.7 944.8,324.7 945.6,324.8 946.4,324.8 947.2,324.9 948.0,324.9 948.8,324.9 949.6,325.0 950.4,325.0 951.2,325.0 M951.2,325.0 952.0,325.1 952.8,325.1 953.6,325.2 954.4,325.2 955.2,325.2 956.0,325.3 956.8,325.3 957.6,325.3 958.4,325.4 959.2,325.4 960.0,325.5 M960.0,325.5 960.8,325.5 961.6,325.5 962.4,325.6 963.2,325.6 964.0,325.6 964.8,325.7 965.6,325.7 966.4,325.8 967.2,325.8 968.0,325.8 968.8,325.9 M968.8,325.9 969.6,325.9 970.4,325.9 971.2,326.0 972.0,326.0 972.8,326.0 973.6,326.1 974.4,326.1 975.2,326.1 975.9,326.2 976.7,326.2 977.5,326.3 M977.5,326.3 978.3,326.3 979.1,326.3 979.9,326.4 980.7,326.4 981.5,326.4 982.3,326.5 983.1,326.5 983.9,326.5 984.7,326.6 985.5,326.6 986.3,326.6 M986.3,326.6 987.1,326.7 987.9,326.7 988.7,326.7 989.5,326.8 990.3,326.8 991.1,326.8 991.9,326.9 992.7,326.9 993.5,326.9 994.3,327.0 995.1,327.0 M995.1,327.0 995.9,327.0 996.7,327.1 997.5,327.1 998.3,327.1 999.1,327.2 999.9,327.2 1000.7,327.2 1001.5,327.3 1002.3,327.3 1003.1,327.3 1003.9,327.3 M1003.9,327.3 1004.7,327.4 1005.5,327.4 1006.3,327.4 1007.1,327.5 1007.9,327.5 1008.7,327.5 1009.5,327.6 1010.3,327.6 1011.1,327.6 1011.9,327.7 1012.7,327.7 M1012.7,327.7 1013.5,327.7 1014.3,327.7 1015.1,327.8 1015.9,327.8 1016.7,327.8 1017.5,327.9 1018.3,327.9 1019.1,327.9 1019.9,328.0 1020.7,328.0 1021.5,328.0 M1021.5,328.0 1022.3,328.0 1023.1,328.1 1023.9,328.1 1024.7,328.1 1025.5,328.2 1026.3,328.2 1027.1,328.2 1027.9,328.2 1028.7,328.3 1029.5,328.3 1030.3,328.3 M1030.3,328.3 1031.1,328.4 1031.9,328.4 1032.7,328.4 1033.5,328.4 1034.3,328.5 1035.1,328.5 1035.9,328.5 1036.7,328.6 1037.5,328.6 1038.3,328.6 1039.1,328.6 M1039.1,328.6 1039.9,328.7 1040.7,328.7 1041.5,328.7 1042.3,328.7 1043.1,328.8 1043.9,328.8 1044.7,328.8 1045.5,328.9 1046.3,328.9 1047.1,328.9 1047.9,328.9 M1047.9,328.9 1048.7,329.0 1049.5,329.0 1050.3,329.0 1051.1,329.0 1051.9,329.1 1052.7,329.1 1053.5,329.1 1054.3,329.1 1055.1,329.2 1055.9,329.2 1056.7,329.2 M1056.7,329.2 1057.5,329.2 1058.3,329.3 1059.1,329.3 1059.9,329.3 1060.7,329.3 1061.5,329.4 1062.3,329.4 1063.1,329.4 1063.9,329.4 1064.7,329.5 1065.5,329.5 M1065.5,329.5 1066.3,329.5 1067.1,329.5 1067.9,329.6 1068.7,329.6 1069.5,329.6 1070.3,329.6 1071.1,329.7 1071.9,329.7 1072.7,329.7 1073.5,329.7 1074.3,329.8 M1074.3,329.8 1075.1,329.8 1075.9,329.8 1076.7,329.8 1077.5,329.9 1078.3,329.9 1079.1,329.9 1079.9,329.9 1080.7,329.9 1081.5,330.0 1082.3,330.0 1083.1,330.0 M1083.1,330.0 1083.9,330.0 1084.7,330.1 1085.5,330.1 1086.3,330.1 1087.1,330.1 1087.9,330.1 1088.7,330.2 1089.5,330.2 1090.3,330.2 1091.1,330.2 1091.9,330.3 M1091.9,330.3 1092.7,330.3 1093.5,330.3 1094.3,330.3 1095.1,330.3 1095.9,330.4 1096.7,330.4 1097.5,330.4 1098.3,330.4 1099.1,330.5 1099.9,330.5 1100.7,330.5 M1100.7,330.5 1101.5,330.5 1102.3,330.5 1103.1,330.6 1103.9,330.6 1104.7,330.6 1105.5,330.6 1106.3,330.6 1107.1,330.7 1107.9,330.7 1108.7,330.7 1109.5,330.7 M1109.5,330.7 1110.3,330.7 1111.1,330.8 1111.9,330.8 1112.7,330.8 1113.5,330.8 1114.3,330.8 1115.1,330.9 1115.9,330.9 1116.7,330.9 1117.5,330.9 1118.3,330.9 M1118.3,330.9 1119.1,331.0 1119.9,331.0 1120.7,331.0 1121.5,331.0 1122.3,331.0 1123.1,331.1 1123.9,331.1 1124.7,331.1 1125.5,331.1 1126.3,331.1 1127.1,331.1 M1127.1,331.1 1127.9,331.2 1128.7,331.2 1129.5,331.2 1130.3,331.2 1131.1,331.2 1131.9,331.3 1132.7,331.3 1133.5,331.3 1134.3,331.3 1135.1,331.3 1135.9,331.4 M1135.9,331.4 1136.7,331.4 1137.5,331.4 1138.3,331.4 1139.1,331.4 1139.9,331.4 1140.7,331.5 1141.5,331.5 1142.3,331.5 1143.1,331.5 1143.9,331.5 1144.7,331.5 M1144.7,331.5 1145.5,331.6 1146.3,331.6 1147.1,331.6 1147.9,331.6 1148.7,331.6 1149.5,331.6 1150.3,331.7 1151.1,331.7 1151.9,331.7 1152.7,331.7 1153.5,331.7 M1153.5,331.7 1154.3,331.7 1155.1,331.8 1155.9,331.8 1156.7,331.8 1157.5,331.8 1158.3,331.8 1159.1,331.8 1159.9,331.9 1160.7,331.9 1161.5,331.9 1162.3,331.9 M1162.3,331.9 1163.1,331.9 1163.9,331.9 1164.7,332.0 1165.5,332.0 1166.3,332.0 1167.1,332.0 1167.9,332.0 1168.7,332.0 1169.5,332.0 1170.3,332.1 1171.1,332.1 M1171.1,332.1 1171.9,332.1 1172.7,332.1 1173.5,332.1 1174.3,332.1 1175.1,332.2 1175.9,332.2 1176.7,332.2 1177.5,332.2 1178.3,332.2 1179.1,332.2 1179.9,332.2 M1179.9,332.2 1180.7,332.3 1181.5,332.3 1182.3,332.3 1183.1,332.3 1183.9,332.3 1184.7,332.3 1185.5,332.3 1186.3,332.4 1187.1,332.4 1187.9,332.4 1188.7,332.4 M1188.7,332.4 1189.5,332.4 1190.3,332.4 1191.1,332.4 1191.9,332.5 1192.7,332.5 1193.5,332.5 1194.3,332.5 1195.1,332.5 1195.9,332.5 1196.7,332.5 1197.5,332.5 M1197.5,332.5 1198.3,332.6 1199.1,332.6 1199.9,332.6 1200.7,332.6 1201.5,332.6 1202.3,332.6 1203.1,332.6 1203.9,332.7 1204.7,332.7 1205.5,332.7 1206.3,332.7 M1206.3,332.7 1207.1,332.7 1207.9,332.7 1208.7,332.7 1209.5,332.7 1210.3,332.8 1211.1,332.8 1211.9,332.8 1212.7,332.8 1213.5,332.8 1214.3,332.8 1215.1,332.8 M1215.1,332.8 1215.9,332.8 1216.7,332.9 1217.5,332.9 1218.3,332.9 1219.1,332.9 1219.9,332.9 1220.7,332.9 1221.5,332.9 1222.3,332.9 1223.1,332.9 1223.9,333.0 M1223.9,333.0 1224.7,333.0 1225.5,333.0 1226.3,333.0 1227.1,333.0 1227.9,333.0 1228.7,333.0 1229.5,333.0 1230.3,333.1 1231.1,333.1 1231.9,333.1 1232.7,333.1 M1232.7,333.1 1233.5,333.1 1234.3,333.1 1235.1,333.1 1235.9,333.1 1236.7,333.1 1237.5,333.2 1238.3,333.2 1239.1,333.2 1239.9,333.2 1240.7,333.2 1241.5,333.2 M1241.5,333.2 1242.3,333.2 1243.1,333.2 1243.9,333.2 1244.7,333.3 1245.5,333.3 1246.3,333.3 1247.1,333.3 1247.9,333.3 1248.7,333.3 1249.5,333.3 1250.3,333.3 M1250.3,333.3 1251.1,333.3 1251.9,333.3 1252.7,333.4 1253.5,333.4 1254.3,333.4 1255.1,333.4 1255.9,333.4 1256.7,333.4 1257.5,333.4 1258.3,333.4 1259.1,333.4 M1259.1,333.4 1259.9,333.4 1260.7,333.5 1261.5,333.5 1262.3,333.5 1263.1,333.5 1263.9,333.5 1264.7,333.5 1265.5,333.5 1266.3,333.5 1267.1,333.5 1267.9,333.5 M1267.9,333.5 1268.7,333.6 1269.5,333.6 1270.3,333.6 1271.1,333.6 1271.9,333.6 1272.7,333.6 1273.5,333.6 1274.3,333.6 1275.1,333.6 1275.9,333.6 1276.7,333.6 M1276.7,333.6 1277.5,333.7 1278.3,333.7 1279.1,333.7 1279.9,333.7 1280.7,333.7 1281.5,333.7 1282.3,333.7 1283.1,333.7 1283.9,333.7 1284.7,333.7 1285.5,333.7 M1285.5,333.7 1286.3,333.8 1287.1,333.8 1287.9,333.8 1288.7,333.8 1289.5,333.8 1290.3,333.8 1291.1,333.8 1291.9,333.8 1292.7,333.8 1293.5,333.8 1294.3,333.8 M1294.3,333.8 1295.1,333.8 1295.9,333.9 1296.7,333.9 1297.5,333.9 1298.3,333.9 1299.1,333.9 1299.9,333.9 1300.7,333.9 1301.5,333.9 1302.3,333.9 1303.1,333.9 M1303.1,333.9 1303.9,333.9 1304.7,333.9 1305.5,334.0 1306.3,334.0 1307.1,334.0 1307.9,334.0 1308.7,334.0 1309.5,334.0 1310.3,334.0 1311.1,334.0 1311.9,334.0 M1311.9,334.0 1312.7,334.0 1313.5,334.0 1314.3,334.0 1315.1,334.1 1315.9,334.1 1316.6,334.1 1317.4,334.1 1318.2,334.1 1319.0,334.1 1319.8,334.1 1320.6,334.1 M1320.6,334.1 1321.4,334.1 1322.2,334.1 1323.0,334.1 1323.8,334.1 1324.6,334.1 1325.4,334.2 1326.2,334.2 1327.0,334.2 1327.8,334.2 1328.6,334.2 1329.4,334.2 M1329.4,334.2 1330.2,334.2 1331.0,334.2 1331.8,334.2 1332.6,334.2 1333.4,334.2 1334.2,334.2 1335.0,334.2 1335.8,334.2 1336.6,334.3 1337.4,334.3 1338.2,334.3 M1338.2,334.3 1339.0,334.3 1339.8,334.3 1340.6,334.3 1341.4,334.3 1342.2,334.3 1343.0,334.3 1343.8,334.3 1344.6,334.3 1345.4,334.3 1346.2,334.3 1347.0,334.3 M1347.0,334.3 1347.8,334.4 1348.6,334.4 1349.4,334.4 1350.2,334.4 1351.0,334.4 1351.8,334.4 1352.6,334.4 1353.4,334.4 1354.2,334.4 1355.0,334.4 1355.8,334.4 M1355.8,334.4 1356.6,334.4 1357.4,334.4 1358.2,334.4 1359.0,334.5 1359.8,334.5 1360.6,334.5 1361.4,334.5 1362.2,334.5 1363.0,334.5 1363.8,334.5 1364.6,334.5 M1364.6,334.5 1365.4,334.5 1366.2,334.5 1367.0,334.5 1367.8,334.5 1368.6,334.5 1369.4,334.5 1370.2,334.5 1371.0,334.6 1371.8,334.6 1372.6,334.6 1373.4,334.6 M1373.4,334.6 1374.2,334.6 1375.0,334.6 1375.8,334.6 1376.6,334.6 1377.4,334.6 1378.2,334.6 1379.0,334.6 1379.8,334.6 1380.6,334.6 1381.4,334.6 1382.2,334.6 M1382.2,334.6 1383.0,334.6 1383.8,334.7 1384.6,334.7 1385.4,334.7 1386.2,334.7 1387.0,334.7 1387.8,334.7 1388.6,334.7 1389.4,334.7 1390.2,334.7 1391.0,334.7 M1391.0,334.7 1391.8,334.7 1392.6,334.7 1393.4,334.7 1394.2,334.7 1395.0,334.7 1395.8,334.8 1396.6,334.8 1397.4,334.8 1398.2,334.8 1399.0,334.8 1399.8,334.8 M1399.8,334.8 1400.6,334.8 1401.4,334.8 1402.2,334.8 1403.0,334.8 1403.8,334.8 1404.6,334.8 1405.4,334.8 1406.2,334.8 1407.0,334.8 1407.8,334.8 1408.6,334.9 M1408.6,334.9 1409.4,334.9 1410.2,334.9 1411.0,334.9 1411.8,334.9 1412.6,334.9 1413.4,334.9 1414.2,334.9 1415.0,334.9 1415.8,334.9 1416.6,334.9 1417.4,334.9 M1417.4,334.9 1418.2,334.9 1419.0,334.9 1419.8,334.9 1420.6,334.9 1421.4,335.0 1422.2,335.0 1423.0,335.0 1423.8,335.0 1424.6,335.0 1425.4,335.0 1426.2,335.0 M1426.2,335.0 1427.0,335.0 1427.8,335.0 1428.6,335.0 1429.4,335.0 1430.2,335.0 1431.0,335.0 1431.8,335.0 1432.6,335.0 1433.4,335.1 1434.2,335.1 1435.0,335.1 M1435.0,335.1 1435.8,335.1 1436.6,335.1 1437.4,335.1 1438.2,335.1 1439.0,335.1 1439.8,335.1 1440.6,335.1 1441.4,335.1 1442.2,335.1 1443.0,335.1 1443.8,335.1 M1443.8,335.1 1444.6,335.1 1445.4,335.1 1446.2,335.2 1447.0,335.2 1447.8,335.2 1448.6,335.2 1449.4,335.2 1450.2,335.2 1451.0,335.2 1451.8,335.2 1452.6,335.2 M1452.6,335.2 1453.4,335.2 1454.2,335.2 1455.0,335.2 1455.8,335.2 1456.6,335.2 1457.4,335.2 1458.2,335.3 1459.0,335.3 1459.8,335.3 1460.6,335.3 1461.4,335.3 M1461.4,335.3 1462.2,335.3 1463.0,335.3 1463.8,335.3 1464.6,335.3 1465.4,335.3 1466.2,335.3 1467.0,335.3 1467.8,335.3 1468.6,335.3 1469.4,335.3 1470.2,335.4 M1470.2,335.4 1471.0,335.4 1471.8,335.4 1472.6,335.4 1473.4,335.4 1474.2,335.4 1475.0,335.4 1475.8,335.4 1476.6,335.4 1477.4,335.4 1478.2,335.4 1479.0,335.4 M1479.0,335.4 1479.8,335.4 1480.6,335.4 1481.4,335.5 1482.2,335.5 1483.0,335.5 1483.8,335.5 1484.6,335.5 1485.4,335.5 1486.2,335.5 1487.0,335.5" fill="none" stroke="#0000ff" stroke-width="2.05" stroke-linecap="square" shape-rendering="crispEdges"/>
<path d="M193.0,60.8 193.8,61.5 194.6,62.2 195.4,63.0 196.2,63.7 197.0,64.4 197.8,65.1 198.6,65.9 199.4,66.6 200.2,67.3 201.0,68.1 201.8,68.8 M201.8,68.8 202.6,69.5 203.4,70.3 204.2,71.0 205.0,71.8 205.8,72.5 206.6,73.3 207.4,74.0 208.2,74.8 209.0,75.5 209.8,76.3 210.6,77.0 M210.6,77.0 211.4,77.8 212.2,78.5 213.0,79.3 213.8,80.0 214.6,80.8 215.4,81.6 216.2,82.3 217.0,83.1 217.8,83.9 218.6,84.6 219.4,85.4 M219.4,85.4 220.2,86.2 221.0,86.9 221.8,87.7 222.6,88.5 223.4,89.2 224.2,90.0 225.0,90.8 225.8,91.5 226.6,92.3 227.4,93.1 228.2,93.8 M228.2,93.8 229.0,94.6 229.8,95.4 230.6,96.1 231.4,96.9 232.2,97.7 233.0,98.4 233.8,99.2 234.6,100.0 235.4,100.7 236.2,101.5 237.0,102.3 M237.0,102.3 237.8,103.0 238.6,103.8 239.4,104.6 240.2,105.3 241.0,106.1 241.8,106.9 242.6,107.6 243.4,108.4 244.2,109.1 245.0,109.9 245.8,110.7 M245.8,110.7 246.6,111.4 247.4,112.2 248.2,112.9 249.0,113.7 249.8,114.4 250.6,115.2 251.4,115.9 252.2,116.7 253.0,117.4 253.8,118.2 254.6,118.9 M254.6,118.9 255.4,119.6 256.2,120.4 257.0,121.1 257.8,121.8 258.6,122.6 259.4,123.3 260.2,124.0 261.0,124.8 261.8,125.5 262.6,126.2 263.4,126.9" fill="none" stroke="#ff00ff" stroke-width="1.50" stroke-linecap="square" shape-rendering="crispEdges"/>
<path d="M184.2,53.1 185.0,53.8 185.8,54.5 186.6,55.1 187.4,55.8 188.2,56.5 189.0,57.2 189.8,57.9 190.6,58.7 191.4,59.4 192.2,60.1 193.0,60.8 M263.4,126.9 264.2,127.7 265.0,128.4 265.8,129.1 266.6,129.8 267.4,130.5 268.2,131.2 269.0,131.9 269.8,132.6 270.6,133.3 271.4,134.0 272.2,134.7 M272.2,134.7 273.0,135.4 273.8,136.1 274.6,136.8 275.4,137.5 276.2,138.1 277.0,138.8 277.8,139.5 278.6,140.2 279.4,140.8 280.2,141.5 281.0,142.2" fill="none" stroke="#ff00ff" stroke-width="1.55" stroke-linecap="square" shape-rendering="crispEdges"/>
<path d="M166.6,38.9 167.4,39.5 168.2,40.1 169.0,40.7 169.8,41.4 170.6,42.0 171.4,42.6 172.2,43.2 173.0,43.8 173.8,44.5 174.6,45.1 175.4,45.8 M175.4,45.8 176.2,46.4 177.0,47.1 177.8,47.7 178.6,48.4 179.4,49.0 180.2,49.7 181.0,50.4 181.8,51.0 182.6,51.7 183.4,52.4 184.2,53.1 M281.0,142.2 281.8,142.9 282.6,143.5 283.4,144.2 284.2,144.8 285.0,145.5 285.8,146.2 286.6,146.8 287.4,147.5 288.2,148.1 289.0,148.8 289.8,149.4 M289.8,149.4 290.6,150.0 291.4,150.7 292.2,151.3 293.0,152.0 293.7,152.6 294.5,153.2 295.3,153.9 296.1,154.5 296.9,155.1 297.7,155.7 298.5,156.4" fill="none" stroke="#ff00ff" stroke-width="1.60" stroke-linecap="square" shape-rendering="crispEdges"/>
<path d="M157.8,32.7 158.6,33.3 159.4,33.8 160.2,34.4 161.0,34.9 161.8,35.5 162.6,36.0 163.4,36.6 164.2,37.2 165.0,37.8 165.8,38.3 166.6,38.9 M298.5,156.4 299.3,157.0 300.1,157.6 300.9,158.2 301.7,158.8 302.5,159.4 303.3,160.1 304.1,160.7 304.9,161.3 305.7,161.9 306.5,162.5 307.3,163.1 M307.3,163.1 308.1,163.7 308.9,164.3 309.7,164.9 310.5,165.5 311.3,166.1 312.1,166.6 312.9,167.2 313.7,167.8 314.5,168.4 315.3,169.0 316.1,169.6 M316.1,169.6 316.9,170.1 317.7,170.7 318.5,171.3 319.3,171.9 320.1,172.4 320.9,173.0 321.7,173.6 322.5,174.1 323.3,174.7 324.1,175.3 324.9,175.8" fill="none" stroke="#ff00ff" stroke-width="1.65" stroke-linecap="square" shape-rendering="crispEdges"/>
<path d="M324.9,175.8 325.7,176.4 326.5,176.9 327.3,177.5 328.1,178.1 328.9,178.6 329.7,179.2 330.5,179.7 331.3,180.3 332.1,180.8 332.9,181.3 333.7,181.9 M333.7,181.9 334.5,182.4 335.3,183.0 336.1,183.5 336.9,184.0 337.7,184.6 338.5,185.1 339.3,185.6 340.1,186.2 340.9,186.7 341.7,187.2 342.5,187.8 M342.5,187.8 343.3,188.3 344.1,188.8 344.9,189.3 345.7,189.8 346.5,190.4 347.3,190.9 348.1,191.4 348.9,191.9 349.7,192.4 350.5,192.9 351.3,193.4" fill="none" stroke="#ff00ff" stroke-width="1.70" stroke-linecap="square" shape-rendering="crispEdges"/>
<path d="M149.0,27.2 149.8,27.7 150.6,28.2 151.4,28.6 152.2,29.1 153.0,29.6 153.8,30.1 154.6,30.6 155.4,31.2 156.2,31.7 157.0,32.2 157.8,32.7 M351.3,193.4 352.1,193.9 352.9,194.4 353.7,195.0 354.5,195.5 355.3,196.0 356.1,196.5 356.9,197.0 357.7,197.5 358.5,198.0 359.3,198.5 360.1,198.9 M360.1,198.9 360.9,199.4 361.7,199.9 362.5,200.4 363.3,200.9 364.1,201.4 364.9,201.9 365.7,202.4 366.5,202.9 367.3,203.3 368.1,203.8 368.9,204.3 M368.9,204.3 369.7,204.8 370.5,205.2 371.3,205.7 372.1,206.2 372.9,206.7 373.7,207.1 374.5,207.6 375.3,208.1 376.1,208.5 376.9,209.0 377.7,209.5" fill="none" stroke="#ff00ff" stroke-width="1.75" stroke-linecap="square" shape-rendering="crispEdges"/>
<path d="M140.2,22.5 141.0,22.9 141.8,23.3 142.6,23.7 143.4,24.1 144.2,24.6 145.0,25.0 145.8,25.4 146.6,25.9 147.4,26.3 148.2,26.8 149.0,27.2 M377.7,209.5 378.5,209.9 379.3,210.4 380.1,210.9 380.9,211.3 381.7,211.8 382.5,212.2 383.3,212.7 384.1,213.1 384.9,213.6 385.7,214.0 386.5,214.5 M386.5,214.5 387.3,214.9 388.1,215.4 388.9,215.8 389.7,216.3 390.5,216.7 391.3,217.1 392.1,217.6 392.9,218.0 393.7,218.5 394.5,218.9 395.3,219.3 M395.3,219.3 396.1,219.8 396.9,220.2 397.7,220.6 398.5,221.0 399.3,221.5 400.1,221.9 400.9,222.3 401.7,222.7 402.5,223.2 403.3,223.6 404.1,224.0" fill="none" stroke="#ff00ff" stroke-width="1.80" stroke-linecap="square" shape-rendering="crispEdges"/>
<path d="M404.1,224.0 404.9,224.4 405.7,224.8 406.5,225.2 407.3,225.6 408.1,226.1 408.9,226.5 409.7,226.9 410.5,227.3 411.3,227.7 412.1,228.1 412.9,228.5 M412.9,228.5 413.7,228.9 414.5,229.3 415.3,229.7 416.1,230.1 416.9,230.5 417.7,230.9 418.5,231.3 419.3,231.6 420.1,232.0 420.9,232.4 421.7,232.8 M421.7,232.8 422.5,233.2 423.3,233.6 424.1,234.0 424.9,234.3 425.7,234.7 426.5,235.1 427.3,235.5 428.1,235.8 428.9,236.2 429.7,236.6 430.5,237.0 M430.5,237.0 431.3,237.3 432.1,237.7 432.9,238.1 433.7,238.4 434.5,238.8 435.3,239.1 436.1,239.5 436.9,239.9 437.7,240.2 438.5,240.6 439.3,240.9" fill="none" stroke="#ff00ff" stroke-width="1.85" stroke-linecap="square" shape-rendering="crispEdges"/>
<path d="M131.4,18.8 132.2,19.1 133.0,19.4 133.8,19.7 134.6,20.0 135.4,20.4 136.2,20.7 137.0,21.0 137.8,21.4 138.6,21.8 139.4,22.1 140.2,22.5 M439.3,240.9 440.1,241.3 440.9,241.6 441.7,242.0 442.5,242.3 443.3,242.7 444.1,243.0 444.9,243.4 445.7,243.7 446.5,244.0 447.3,244.4 448.1,244.7 M448.1,244.7 448.9,245.0 449.7,245.4 450.5,245.7 451.3,246.0 452.1,246.4 452.9,246.7 453.7,247.0 454.5,247.4 455.3,247.7 456.1,248.0 456.9,248.3 M456.9,248.3 457.7,248.7 458.5,249.0 459.3,249.3 460.1,249.6 460.9,249.9 461.7,250.2 462.5,250.6 463.3,250.9 464.1,251.2 464.9,251.5 465.7,251.8 M465.7,251.8 466.5,252.1 467.3,252.4 468.1,252.7 468.9,253.0 469.7,253.3 470.5,253.6 471.3,253.9 472.1,254.2 472.9,254.5 473.7,254.8 474.5,255.1" fill="none" stroke="#ff00ff" stroke-width="1.90" stroke-linecap="square" shape-rendering="crispEdges"/>
<path d="M122.6,16.0 123.4,16.2 124.2,16.4 125.0,16.6 125.8,16.9 126.6,17.1 127.4,17.4 128.2,17.6 129.0,17.9 129.8,18.2 130.6,18.5 131.4,18.8 M474.5,255.1 475.3,255.4 476.1,255.7 476.9,256.0 477.7,256.3 478.5,256.6 479.3,256.9 480.1,257.2 480.9,257.4 481.7,257.7 482.5,258.0 483.3,258.3 M483.3,258.3 484.1,258.6 484.9,258.9 485.7,259.1 486.5,259.4 487.3,259.7 488.1,260.0 488.9,260.3 489.7,260.5 490.5,260.8 491.3,261.1 492.1,261.3 M492.1,261.3 492.9,261.6 493.7,261.9 494.5,262.2 495.3,262.4 496.1,262.7 496.9,263.0 497.7,263.2 498.5,263.5 499.3,263.7 500.1,264.0 500.9,264.3 M500.9,264.3 501.7,264.5 502.5,264.8 503.3,265.0 504.1,265.3 504.9,265.6 505.7,265.8 506.5,266.1 507.3,266.3 508.1,266.6 508.9,266.8 509.7,267.1 M509.7,267.1 510.5,267.3 511.3,267.6 512.1,267.8 512.9,268.1 513.7,268.3 514.5,268.6 515.3,268.8 516.1,269.0 516.9,269.3 517.7,269.5 518.5,269.8 M518.5,269.8 519.3,270.0 520.1,270.3 520.9,270.5 521.7,270.7 522.5,271.0 523.3,271.2 524.1,271.4 524.9,271.7 525.7,271.9 526.5,272.1 527.3,272.4 M527.3,272.4 528.1,272.6 528.9,272.8 529.7,273.1 530.5,273.3 531.3,273.5 532.1,273.7 532.9,274.0 533.7,274.2 534.5,274.4 535.3,274.6 536.1,274.9" fill="none" stroke="#ff00ff" stroke-width="1.95" stroke-linecap="square" shape-rendering="crispEdges"/>
<path d="M536.1,274.9 536.9,275.1 537.7,275.3 538.5,275.5 539.3,275.7 540.1,276.0 540.9,276.2 541.7,276.4 542.5,276.6 543.3,276.8 544.1,277.0 544.9,277.2 M544.9,277.2 545.7,277.5 546.5,277.7 547.3,277.9 548.1,278.1 548.9,278.3 549.7,278.5 550.5,278.7 551.3,278.9 552.1,279.1 552.9,279.3 553.7,279.5 M553.7,279.5 554.5,279.7 555.3,279.9 556.1,280.1 556.9,280.3 557.7,280.5 558.5,280.7 559.3,280.9 560.1,281.1 560.9,281.3 561.7,281.5 562.5,281.7 M562.5,281.7 563.3,281.9 564.1,282.1 564.9,282.3 565.7,282.5 566.5,282.7 567.3,282.9 568.1,283.1 568.9,283.3 569.7,283.5 570.5,283.7 571.3,283.8 M571.3,283.8 572.1,284.0 572.9,284.2 573.7,284.4 574.5,284.6 575.3,284.8 576.1,284.9 576.9,285.1 577.7,285.3 578.5,285.5 579.3,285.7 580.1,285.9 M580.1,285.9 580.9,286.0 581.7,286.2 582.5,286.4 583.3,286.6 584.1,286.7 584.9,286.9 585.7,287.1 586.5,287.3 587.3,287.4 588.1,287.6 588.9,287.8 M588.9,287.8 589.7,287.9 590.5,288.1 591.3,288.3 592.1,288.5 592.9,288.6 593.7,288.8 594.5,289.0 595.3,289.1 596.1,289.3 596.9,289.5 597.7,289.6 M597.7,289.6 598.5,289.8 599.3,289.9 600.1,290.1 600.9,290.3 601.7,290.4 602.5,290.6 603.3,290.7 604.1,290.9 604.9,291.1 605.7,291.2 606.5,291.4 M606.5,291.4 607.3,291.5 608.1,291.7 608.9,291.8 609.7,292.0 610.5,292.1 611.3,292.3 612.1,292.4 612.9,292.6 613.7,292.7 614.5,292.9 615.3,293.0 M615.3,293.0 616.1,293.2 616.9,293.3 617.7,293.5 618.5,293.6 619.3,293.8 620.1,293.9 620.9,294.1 621.7,294.2 622.5,294.4 623.3,294.5 624.1,294.6 M624.1,294.6 624.9,294.8 625.7,294.9 626.5,295.1 627.3,295.2 628.1,295.3 628.9,295.5 629.7,295.6 630.5,295.8 631.3,295.9 632.1,296.0 632.9,296.2 M632.9,296.2 633.7,296.3 634.4,296.4 635.2,296.6 636.0,296.7 636.8,296.8 637.6,297.0 638.4,297.1 639.2,297.2 640.0,297.4 640.8,297.5 641.6,297.6" fill="none" stroke="#ff00ff" stroke-width="2.00" stroke-linecap="square" shape-rendering="crispEdges"/>
<path d="M641.6,297.6 642.4,297.7 643.2,297.9 644.0,298.0 644.8,298.1 645.6,298.2 646.4,298.4 647.2,298.5 648.0,298.6 648.8,298.7 649.6,298.9 650.4,299.0 M650.4,299.0 651.2,299.1 652.0,299.2 652.8,299.3 653.6,299.5 654.4,299.6 655.2,299.7 656.0,299.8 656.8,299.9 657.6,300.1 658.4,300.2 659.2,300.3 M659.2,300.3 660.0,300.4 660.8,300.5 661.6,300.6 662.4,300.8 663.2,300.9 664.0,301.0 664.8,301.1 665.6,301.2 666.4,301.3 667.2,301.4 668.0,301.5 M668.0,301.5 668.8,301.6 669.6,301.8 670.4,301.9 671.2,302.0 672.0,302.1 672.8,302.2 673.6,302.3 674.4,302.4 675.2,302.5 676.0,302.6 676.8,302.7 M676.8,302.7 677.6,302.8 678.4,302.9 679.2,303.0 680.0,303.1 680.8,303.2 681.6,303.3 682.4,303.4 683.2,303.5 684.0,303.7 684.8,303.8 685.6,303.9 M685.6,303.9 686.4,304.0 687.2,304.1 688.0,304.2 688.8,304.2 689.6,304.3 690.4,304.4 691.2,304.5 692.0,304.6 692.8,304.7 693.6,304.8 694.4,304.9 M694.4,304.9 695.2,305.0 696.0,305.1 696.8,305.2 697.6,305.3 698.4,305.4 699.2,305.5 700.0,305.6 700.8,305.7 701.6,305.8 702.4,305.9 703.2,306.0 M703.2,306.0 704.0,306.0 704.8,306.1 705.6,306.2 706.4,306.3 707.2,306.4 708.0,306.5 708.8,306.6 709.6,306.7 710.4,306.8 711.2,306.9 712.0,306.9 M712.0,306.9 712.8,307.0 713.6,307.1 714.4,307.2 715.2,307.3 716.0,307.4 716.8,307.5 717.6,307.5 718.4,307.6 719.2,307.7 720.0,307.8 720.8,307.9 M720.8,307.9 721.6,308.0 722.4,308.1 723.2,308.1 724.0,308.2 724.8,308.3 725.6,308.4 726.4,308.5 727.2,308.5 728.0,308.6 728.8,308.7 729.6,308.8 M729.6,308.8 730.4,308.9 731.2,309.0 732.0,309.0 732.8,309.1 733.6,309.2 734.4,309.3 735.2,309.4 736.0,309.4 736.8,309.5 737.6,309.6 738.4,309.7 M738.4,309.7 739.2,309.7 740.0,309.8 740.8,309.9 741.6,310.0 742.4,310.1 743.2,310.1 744.0,310.2 744.8,310.3 745.6,310.4 746.4,310.4 747.2,310.5 M747.2,310.5 748.0,310.6 748.8,310.7 749.6,310.7 750.4,310.8 751.2,310.9 752.0,311.0 752.8,311.0 753.6,311.1 754.4,311.2 755.2,311.3 756.0,311.3 M756.0,311.3 756.8,311.4 757.6,311.5 758.4,311.5 759.2,311.6 760.0,311.7 760.8,311.8 761.6,311.8 762.4,311.9 763.2,312.0 764.0,312.0 764.8,312.1 M764.8,312.1 765.6,312.2 766.4,312.3 767.2,312.3 768.0,312.4 768.8,312.5 769.6,312.5 770.4,312.6 771.2,312.7 772.0,312.8 772.8,312.8 773.6,312.9 M773.6,312.9 774.4,313.0 775.2,313.0 776.0,313.1 776.8,313.2 777.6,313.2 778.4,313.3 779.2,313.4 780.0,313.4 780.8,313.5 781.6,313.6 782.4,313.6 M782.4,313.6 783.2,313.7 784.0,313.8 784.8,313.9 785.6,313.9 786.4,314.0 787.2,314.1 788.0,314.1 788.8,314.2 789.6,314.3 790.4,314.3 791.2,314.4 M791.2,314.4 792.0,314.5 792.8,314.5 793.6,314.6 794.4,314.6 795.2,314.7 796.0,314.8 796.8,314.8 797.6,314.9 798.4,315.0 799.2,315.0 800.0,315.1 M800.0,315.1 800.8,315.2 801.6,315.2 802.4,315.3 803.2,315.4 804.0,315.4 804.8,315.5 805.6,315.5 806.4,315.6 807.2,315.7 808.0,315.7 808.8,315.8 M808.8,315.8 809.6,315.9 810.4,315.9 811.2,316.0 812.0,316.0 812.8,316.1 813.6,316.2 814.4,316.2 815.2,316.3 816.0,316.4 816.8,316.4 817.6,316.5 M817.6,316.5 818.4,316.5 819.2,316.6 820.0,316.7 820.8,316.7 821.6,316.8 822.4,316.8 823.2,316.9 824.0,317.0 824.8,317.0 825.6,317.1 826.4,317.1 M826.4,317.1 827.2,317.2 828.0,317.3 828.8,317.3 829.6,317.4 830.4,317.4 831.2,317.5 832.0,317.5 832.8,317.6 833.6,317.7 834.4,317.7 835.2,317.8 M835.2,317.8 836.0,317.8 836.8,317.9 837.6,317.9 838.4,318.0 839.2,318.1 840.0,318.1 840.8,318.2 841.6,318.2 842.4,318.3 843.2,318.3 844.0,318.4 M844.0,318.4 844.8,318.5 845.6,318.5 846.4,318.6 847.2,318.6 848.0,318.7 848.8,318.7 849.6,318.8 850.4,318.8 851.2,318.9 852.0,319.0 852.8,319.0 M852.8,319.0 853.6,319.1 854.4,319.1 855.2,319.2 856.0,319.2 856.8,319.3 857.6,319.3 858.4,319.4 859.2,319.4 860.0,319.5 860.8,319.5 861.6,319.6 M861.6,319.6 862.4,319.6 863.2,319.7 864.0,319.8 864.8,319.8 865.6,319.9 866.4,319.9 867.2,320.0 868.0,320.0 868.8,320.1 869.6,320.1 870.4,320.2 M870.4,320.2 871.2,320.2 872.0,320.3 872.8,320.3 873.6,320.4 874.4,320.4 875.2,320.5 876.0,320.5 876.8,320.6 877.6,320.6 878.4,320.7 879.2,320.7 M879.2,320.7 880.0,320.8 880.8,320.8 881.6,320.9 882.4,320.9 883.2,321.0 884.0,321.0 884.8,321.1 885.6,321.1 886.4,321.2 887.2,321.2 888.0,321.3 M888.0,321.3 888.8,321.3 889.6,321.4 890.4,321.4 891.2,321.5 892.0,321.5 892.8,321.5 893.6,321.6 894.4,321.6 895.2,321.7 896.0,321.7 896.8,321.8 M896.8,321.8 897.6,321.8 898.4,321.9 899.2,321.9 900.0,322.0 900.8,322.0 901.6,322.1 902.4,322.1 903.2,322.2 904.0,322.2 904.8,322.2 905.6,322.3 M905.6,322.3 906.4,322.3 907.2,322.4 908.0,322.4 908.8,322.5 909.6,322.5 910.4,322.6 911.2,322.6 912.0,322.6 912.8,322.7 913.6,322.7 914.4,322.8 M914.4,322.8 915.2,322.8 916.0,322.9 916.8,322.9 917.6,323.0 918.4,323.0 919.2,323.0 920.0,323.1 920.8,323.1 921.6,323.2 922.4,323.2 923.2,323.3 M923.2,323.3 924.0,323.3 924.8,323.3 925.6,323.4 926.4,323.4 927.2,323.5 928.0,323.5 928.8,323.5 929.6,323.6 930.4,323.6 931.2,323.7 932.0,323.7 M932.0,323.7 932.8,323.8 933.6,323.8 934.4,323.8 935.2,323.9 936.0,323.9 936.8,324.0 937.6,324.0 938.4,324.0 939.2,324.1 940.0,324.1 940.8,324.2 M940.8,324.2 941.6,324.2 942.4,324.2 943.2,324.3 944.0,324.3 944.8,324.4 945.6,324.4 946.4,324.4 947.2,324.5 948.0,324.5 948.8,324.6 949.6,324.6 M949.6,324.6 950.4,324.6 951.2,324.7 952.0,324.7 952.8,324.7 953.6,324.8 954.4,324.8 955.2,324.9 956.0,324.9 956.8,324.9 957.6,325.0 958.4,325.0 M958.4,325.0 959.2,325.0 960.0,325.1 960.8,325.1 961.6,325.2 962.4,325.2 963.2,325.2 964.0,325.3 964.8,325.3 965.6,325.3 966.4,325.4 967.2,325.4 M967.2,325.4 968.0,325.5 968.8,325.5 969.6,325.5 970.4,325.6 971.2,325.6 972.0,325.6 972.8,325.7 973.6,325.7 974.4,325.7 975.2,325.8 975.9,325.8 M975.9,325.8 976.7,325.8 977.5,325.9 978.3,325.9 979.1,325.9 979.9,326.0 980.7,326.0 981.5,326.0 982.3,326.1 983.1,326.1 983.9,326.1 984.7,326.2 M984.7,326.2 985.5,326.2 986.3,326.3 987.1,326.3 987.9,326.3 988.7,326.4 989.5,326.4 990.3,326.4 991.1,326.5 991.9,326.5 992.7,326.5 993.5,326.5 M993.5,326.5 994.3,326.6 995.1,326.6 995.9,326.6 996.7,326.7 997.5,326.7 998.3,326.7 999.1,326.8 999.9,326.8 1000.7,326.8 1001.5,326.9 1002.3,326.9 M1002.3,326.9 1003.1,326.9 1003.9,327.0 1004.7,327.0 1005.5,327.0 1006.3,327.1 1007.1,327.1 1007.9,327.1 1008.7,327.1 1009.5,327.2 1010.3,327.2 1011.1,327.2 M1011.1,327.2 1011.9,327.3 1012.7,327.3 1013.5,327.3 1014.3,327.4 1015.1,327.4 1015.9,327.4 1016.7,327.4 1017.5,327.5 1018.3,327.5 1019.1,327.5 1019.9,327.6 M1019.9,327.6 1020.7,327.6 1021.5,327.6 1022.3,327.7 1023.1,327.7 1023.9,327.7 1024.7,327.7 1025.5,327.8 1026.3,327.8 1027.1,327.8 1027.9,327.9 1028.7,327.9 M1028.7,327.9 1029.5,327.9 1030.3,327.9 1031.1,328.0 1031.9,328.0 1032.7,328.0 1033.5,328.1 1034.3,328.1 1035.1,328.1 1035.9,328.1 1036.7,328.2 1037.5,328.2 M1037.5,328.2 1038.3,328.2 1039.1,328.2 1039.9,328.3 1040.7,328.3 1041.5,328.3 1042.3,328.3 1043.1,328.4 1043.9,328.4 1044.7,328.4 1045.5,328.5 1046.3,328.5 M1046.3,328.5 1047.1,328.5 1047.9,328.5 1048.7,328.6 1049.5,328.6 1050.3,328.6 1051.1,328.6 1051.9,328.7 1052.7,328.7 1053.5,328.7 1054.3,328.7 1055.1,328.8 M1055.1,328.8 1055.9,328.8 1056.7,328.8 1057.5,328.8 1058.3,328.9 1059.1,328.9 1059.9,328.9 1060.7,328.9 1061.5,329.0 1062.3,329.0 1063.1,329.0 1063.9,329.0 M1063.9,329.0 1064.7,329.1 1065.5,329.1 1066.3,329.1 1067.1,329.1 1067.9,329.2 1068.7,329.2 1069.5,329.2 1070.3,329.2 1071.1,329.3 1071.9,329.3 1072.7,329.3 M1072.7,329.3 1073.5,329.3 1074.3,329.3 1075.1,329.4 1075.9,329.4 1076.7,329.4 1077.5,329.4 1078.3,329.5 1079.1,329.5 1079.9,329.5 1080.7,329.5 1081.5,329.6 M1081.5,329.6 1082.3,329.6 1083.1,329.6 1083.9,329.6 1084.7,329.6 1085.5,329.7 1086.3,329.7 1087.1,329.7 1087.9,329.7 1088.7,329.7 1089.5,329.8 1090.3,329.8 M1090.3,329.8 1091.1,329.8 1091.9,329.8 1092.7,329.9 1093.5,329.9 1094.3,329.9 1095.1,329.9 1095.9,329.9 1096.7,330.0 1097.5,330.0 1098.3,330.0 1099.1,330.0 M1099.1,330.0 1099.9,330.0 1100.7,330.1 1101.5,330.1 1102.3,330.1 1103.1,330.1 1103.9,330.1 1104.7,330.2 1105.5,330.2 1106.3,330.2 1107.1,330.2 1107.9,330.2 M1107.9,330.2 1108.7,330.3 1109.5,330.3 1110.3,330.3 1111.1,330.3 1111.9,330.3 1112.7,330.4 1113.5,330.4 1114.3,330.4 1115.1,330.4 1115.9,330.4 1116.7,330.5 M1116.7,330.5 1117.5,330.5 1118.3,330.5 1119.1,330.5 1119.9,330.5 1120.7,330.6 1121.5,330.6 1122.3,330.6 1123.1,330.6 1123.9,330.6 1124.7,330.7 1125.5,330.7 M1125.5,330.7 1126.3,330.7 1127.1,330.7 1127.9,330.7 1128.7,330.7 1129.5,330.8 1130.3,330.8 1131.1,330.8 1131.9,330.8 1132.7,330.8 1133.5,330.9 1134.3,330.9 M1134.3,330.9 1135.1,330.9 1135.9,330.9 1136.7,330.9 1137.5,330.9 1138.3,331.0 1139.1,331.0 1139.9,331.0 1140.7,331.0 1141.5,331.0 1142.3,331.0 1143.1,331.1 M1143.1,331.1 1143.9,331.1 1144.7,331.1 1145.5,331.1 1146.3,331.1 1147.1,331.1 1147.9,331.2 1148.7,331.2 1149.5,331.2 1150.3,331.2 1151.1,331.2 1151.9,331.2 M1151.9,331.2 1152.7,331.3 1153.5,331.3 1154.3,331.3 1155.1,331.3 1155.9,331.3 1156.7,331.3 1157.5,331.4 1158.3,331.4 1159.1,331.4 1159.9,331.4 1160.7,331.4 M1160.7,331.4 1161.5,331.4 1162.3,331.5 1163.1,331.5 1163.9,331.5 1164.7,331.5 1165.5,331.5 1166.3,331.5 1167.1,331.5 1167.9,331.6 1168.7,331.6 1169.5,331.6 M1169.5,331.6 1170.3,331.6 1171.1,331.6 1171.9,331.6 1172.7,331.6 1173.5,331.7 1174.3,331.7 1175.1,331.7 1175.9,331.7 1176.7,331.7 1177.5,331.7 1178.3,331.7 M1178.3,331.7 1179.1,331.8 1179.9,331.8 1180.7,331.8 1181.5,331.8 1182.3,331.8 1183.1,331.8 1183.9,331.8 1184.7,331.9 1185.5,331.9 1186.3,331.9 1187.1,331.9 M1187.1,331.9 1187.9,331.9 1188.7,331.9 1189.5,331.9 1190.3,332.0 1191.1,332.0 1191.9,332.0 1192.7,332.0 1193.5,332.0 1194.3,332.0 1195.1,332.0 1195.9,332.1 M1195.9,332.1 1196.7,332.1 1197.5,332.1 1198.3,332.1 1199.1,332.1 1199.9,332.1 1200.7,332.1 1201.5,332.1 1202.3,332.2 1203.1,332.2 1203.9,332.2 1204.7,332.2 M1204.7,332.2 1205.5,332.2 1206.3,332.2 1207.1,332.2 1207.9,332.2 1208.7,332.3 1209.5,332.3 1210.3,332.3 1211.1,332.3 1211.9,332.3 1212.7,332.3 1213.5,332.3 M1213.5,332.3 1214.3,332.3 1215.1,332.4 1215.9,332.4 1216.7,332.4 1217.5,332.4 1218.3,332.4 1219.1,332.4 1219.9,332.4 1220.7,332.4 1221.5,332.5 1222.3,332.5 M1222.3,332.5 1223.1,332.5 1223.9,332.5 1224.7,332.5 1225.5,332.5 1226.3,332.5 1227.1,332.5 1227.9,332.6 1228.7,332.6 1229.5,332.6 1230.3,332.6 1231.1,332.6 M1231.1,332.6 1231.9,332.6 1232.7,332.6 1233.5,332.6 1234.3,332.6 1235.1,332.7 1235.9,332.7 1236.7,332.7 1237.5,332.7 1238.3,332.7 1239.1,332.7 1239.9,332.7 M1239.9,332.7 1240.7,332.7 1241.5,332.7 1242.3,332.8 1243.1,332.8 1243.9,332.8 1244.7,332.8 1245.5,332.8 1246.3,332.8 1247.1,332.8 1247.9,332.8 1248.7,332.8 M1248.7,332.8 1249.5,332.9 1250.3,332.9 1251.1,332.9 1251.9,332.9 1252.7,332.9 1253.5,332.9 1254.3,332.9 1255.1,332.9 1255.9,332.9 1256.7,332.9 1257.5,333.0 M1257.5,333.0 1258.3,333.0 1259.1,333.0 1259.9,333.0 1260.7,333.0 1261.5,333.0 1262.3,333.0 1263.1,333.0 1263.9,333.0 1264.7,333.0 1265.5,333.1 1266.3,333.1 M1266.3,333.1 1267.1,333.1 1267.9,333.1 1268.7,333.1 1269.5,333.1 1270.3,333.1 1271.1,333.1 1271.9,333.1 1272.7,333.1 1273.5,333.2 1274.3,333.2 1275.1,333.2 M1275.1,333.2 1275.9,333.2 1276.7,333.2 1277.5,333.2 1278.3,333.2 1279.1,333.2 1279.9,333.2 1280.7,333.2 1281.5,333.3 1282.3,333.3 1283.1,333.3 1283.9,333.3 M1283.9,333.3 1284.7,333.3 1285.5,333.3 1286.3,333.3 1287.1,333.3 1287.9,333.3 1288.7,333.3 1289.5,333.3 1290.3,333.4 1291.1,333.4 1291.9,333.4 1292.7,333.4 M1292.7,333.4 1293.5,333.4 1294.3,333.4 1295.1,333.4 1295.9,333.4 1296.7,333.4 1297.5,333.4 1298.3,333.4 1299.1,333.5 1299.9,333.5 1300.7,333.5 1301.5,333.5 M1301.5,333.5 1302.3,333.5 1303.1,333.5 1303.9,333.5 1304.7,333.5 1305.5,333.5 1306.3,333.5 1307.1,333.5 1307.9,333.6 1308.7,333.6 1309.5,333.6 1310.3,333.6 M1310.3,333.6 1311.1,333.6 1311.9,333.6 1312.7,333.6 1313.5,333.6 1314.3,333.6 1315.1,333.6 1315.9,333.6 1316.6,333.6 1317.4,333.7 1318.2,333.7 1319.0,333.7 M1319.0,333.7 1319.8,333.7 1320.6,333.7 1321.4,333.7 1322.2,333.7 1323.0,333.7 1323.8,333.7 1324.6,333.7 1325.4,333.7 1326.2,333.7 1327.0,333.8 1327.8,333.8 M1327.8,333.8 1328.6,333.8 1329.4,333.8 1330.2,333.8 1331.0,333.8 1331.8,333.8 1332.6,333.8 1333.4,333.8 1334.2,333.8 1335.0,333.8 1335.8,333.8 1336.6,333.9 M1336.6,333.9 1337.4,333.9 1338.2,333.9 1339.0,333.9 1339.8,333.9 1340.6,333.9 1341.4,333.9 1342.2,333.9 1343.0,333.9 1343.8,333.9 1344.6,333.9 1345.4,333.9 M1345.4,333.9 1346.2,334.0 1347.0,334.0 1347.8,334.0 1348.6,334.0 1349.4,334.0 1350.2,334.0 1351.0,334.0 1351.8,334.0 1352.6,334.0 1353.4,334.0 1354.2,334.0 M1354.2,334.0 1355.0,334.0 1355.8,334.1 1356.6,334.1 1357.4,334.1 1358.2,334.1 1359.0,334.1 1359.8,334.1 1360.6,334.1 1361.4,334.1 1362.2,334.1 1363.0,334.1 M1363.0,334.1 1363.8,334.1 1364.6,334.1 1365.4,334.2 1366.2,334.2 1367.0,334.2 1367.8,334.2 1368.6,334.2 1369.4,334.2 1370.2,334.2 1371.0,334.2 1371.8,334.2 M1371.8,334.2 1372.6,334.2 1373.4,334.2 1374.2,334.2 1375.0,334.2 1375.8,334.3 1376.6,334.3 1377.4,334.3 1378.2,334.3 1379.0,334.3 1379.8,334.3 1380.6,334.3 M1380.6,334.3 1381.4,334.3 1382.2,334.3 1383.0,334.3 1383.8,334.3 1384.6,334.3 1385.4,334.4 1386.2,334.4 1387.0,334.4 1387.8,334.4 1388.6,334.4 1389.4,334.4 M1389.4,334.4 1390.2,334.4 1391.0,334.4 1391.8,334.4 1392.6,334.4 1393.4,334.4 1394.2,334.4 1395.0,334.5 1395.8,334.5 1396.6,334.5 1397.4,334.5 1398.2,334.5 M1398.2,334.5 1399.0,334.5 1399.8,334.5 1400.6,334.5 1401.4,334.5 1402.2,334.5 1403.0,334.5 1403.8,334.5 1404.6,334.6 1405.4,334.6 1406.2,334.6 1407.0,334.6 M1407.0,334.6 1407.8,334.6 1408.6,334.6 1409.4,334.6 1410.2,334.6 1411.0,334.6 1411.8,334.6 1412.6,334.6 1413.4,334.6 1414.2,334.7 1415.0,334.7 1415.8,334.7 M1415.8,334.7 1416.6,334.7 1417.4,334.7 1418.2,334.7 1419.0,334.7 1419.8,334.7 1420.6,334.7 1421.4,334.7 1422.2,334.7 1423.0,334.7 1423.8,334.8 1424.6,334.8 M1424.6,334.8 1425.4,334.8 1426.2,334.8 1427.0,334.8 1427.8,334.8 1428.6,334.8 1429.4,334.8 1430.2,334.8 1431.0,334.8 1431.8,334.8 1432.6,334.9 1433.4,334.9 M1433.4,334.9 1434.2,334.9 1435.0,334.9 1435.8,334.9 1436.6,334.9 1437.4,334.9 1438.2,334.9 1439.0,334.9 1439.8,334.9 1440.6,334.9 1441.4,334.9 1442.2,335.0 M1442.2,335.0 1443.0,335.0 1443.8,335.0 1444.6,335.0 1445.4,335.0 1446.2,335.0 1447.0,335.0 1447.8,335.0 1448.6,335.0 1449.4,335.0 1450.2,335.0 1451.0,335.1 M1451.0,335.1 1451.8,335.1 1452.6,335.1 1453.4,335.1 1454.2,335.1 1455.0,335.1 1455.8,335.1 1456.6,335.1 1457.4,335.1 1458.2,335.1 1459.0,335.2 1459.8,335.2 M1459.8,335.2 1460.6,335.2 1461.4,335.2 1462.2,335.2 1463.0,335.2 1463.8,335.2 1464.6,335.2 1465.4,335.2 1466.2,335.2 1467.0,335.2 1467.8,335.3 1468.6,335.3 M1468.6,335.3 1469.4,335.3 1470.2,335.3 1471.0,335.3 1471.8,335.3 1472.6,335.3 1473.4,335.3 1474.2,335.3 1475.0,335.3 1475.8,335.4 1476.6,335.4 1477.4,335.4 M1477.4,335.4 1478.2,335.4 1479.0,335.4 1479.8,335.4 1480.6,335.4 1481.4,335.4 1482.2,335.4 1483.0,335.4 1483.8,335.5 1484.6,335.5 1485.4,335.5 1486.2,335.5 M1486.2,335.5 1487.0,335.5" fill="none" stroke="#ff00ff" stroke-width="2.05" stroke-linecap="square" shape-rendering="crispEdges"/>
<path d="M122,16 H1487 V656 H122 Z" fill="none" stroke="#000" stroke-width="2" stroke-linejoin="miter"/>
<path d="M293,656 V640.9 M293,16 V27.7 M463,656 V640.9 M463,16 V27.7 M634,656 V640.9 M634,16 V27.7 M804,656 V640.9 M804,16 V27.7 M975,656 V640.9 M975,16 V27.7 M1146,656 V640.9 M1146,16 V27.7 M1316,656 V640.9 M1316,16 V27.7 M122,78 H136.0 M1487,78 H1471.3 M122,143 H136.0 M1487,143 H1471.3 M122,207 H136.0 M1487,207 H1471.3 M122,271 H136.0 M1487,271 H1471.3 M122,335 H136.0 M1487,335 H1471.3 M122,400 H136.0 M1487,400 H1471.3 M122,464 H136.0 M1487,464 H1471.3 M122,528 H136.0 M1487,528 H1471.3 M122,592 H136.0 M1487,592 H1471.3" stroke="#000" stroke-width="2" fill="none"/>
<g transform="matrix(1.1352,0,0,1,113.99,688.60)"><text x="0" y="0" style="font-size:31.30px;">1</text><rect x="1.25" y="-5.01" width="6.54" height="6.57" fill="#fff"/><rect x="10.67" y="-5.01" width="6.54" height="6.57" fill="#fff"/></g>
<g transform="matrix(0.8610,0,0,1,272.61,688.60)"><text x="0" y="0" style="font-size:31.30px;">1.5</text><rect x="1.25" y="-5.01" width="6.54" height="6.57" fill="#fff"/><rect x="10.67" y="-5.01" width="6.54" height="6.57" fill="#fff"/></g>
<g transform="matrix(0.9934,0,0,1,454.97,688.60)"><text x="0" y="0" style="font-size:30.86px;">2</text></g>
<g transform="matrix(0.9024,0,0,1,612.81,688.60)"><text x="0" y="0" style="font-size:30.86px;">2.5</text></g>
<g transform="matrix(0.8574,0,0,1,796.87,688.60)"><text x="0" y="0" style="font-size:30.86px;">3</text></g>
<g transform="matrix(0.8749,0,0,1,955.56,688.60)"><text x="0" y="0" style="font-size:30.86px;">3.5</text></g>
<g transform="matrix(0.9646,0,0,1,1137.40,688.60)"><text x="0" y="0" style="font-size:31.30px;">4</text></g>
<g transform="matrix(0.8839,0,0,1,1295.65,688.60)"><text x="0" y="0" style="font-size:31.30px;">4.5</text></g>
<g transform="matrix(0.8541,0,0,1,1478.53,688.60)"><text x="0" y="0" style="font-size:31.30px;">5</text></g>
<g transform="matrix(1.1352,0,0,1,96.79,25.60)"><text x="0" y="0" style="font-size:31.30px;">1</text><rect x="1.25" y="-5.01" width="6.54" height="6.57" fill="#fff"/><rect x="10.67" y="-5.01" width="6.54" height="6.57" fill="#fff"/></g>
<g transform="matrix(0.8786,0,0,1,75.26,87.90)"><text x="0" y="0" style="font-size:30.64px;">0.8</text></g>
<g transform="matrix(0.8724,0,0,1,75.26,152.30)"><text x="0" y="0" style="font-size:30.86px;">0.6</text></g>
<g transform="matrix(0.8699,0,0,1,75.26,216.20)"><text x="0" y="0" style="font-size:30.86px;">0.4</text></g>
<g transform="matrix(0.8791,0,0,1,75.25,280.80)"><text x="0" y="0" style="font-size:30.86px;">0.2</text></g>
<g transform="matrix(0.8419,0,0,1,98.09,344.80)"><text x="0" y="0" style="font-size:30.86px;">0</text></g>
<g transform="matrix(0.8900,0,0,1,65.60,409.40)"><text x="0" y="0" style="font-size:30.86px;">-0.2</text></g>
<g transform="matrix(0.8851,0,0,1,65.61,473.50)"><text x="0" y="0" style="font-size:30.86px;">-0.4</text></g>
<g transform="matrix(0.8873,0,0,1,65.60,537.40)"><text x="0" y="0" style="font-size:30.86px;">-0.6</text></g>
<g transform="matrix(0.8936,0,0,1,65.60,601.60)"><text x="0" y="0" style="font-size:30.64px;">-0.8</text></g>
<g transform="matrix(0.9619,0,0,1,88.40,665.60)"><text x="0" y="0" style="font-size:31.30px;">-1</text><rect x="11.68" y="-5.01" width="6.54" height="6.57" fill="#fff"/><rect x="21.10" y="-5.01" width="6.54" height="6.57" fill="#fff"/></g>
<g transform="matrix(0.8754,0,0,1,647.15,67.10)"><text x="0" y="0" style="font-size:37.79px;">Re =6.5;Pr=1; C</text><rect x="205.28" y="-6.05" width="7.90" height="7.94" fill="#fff"/><rect x="216.66" y="-6.05" width="7.90" height="7.94" fill="#fff"/></g>
<g transform="matrix(1.1686,0,0,1,884.83,83.69)"><text x="0" y="0" style="font-size:25.13px;stroke:none;">∞</text></g>
<g transform="matrix(0.8868,0,0,1,904.32,67.10)"><text x="0" y="0" style="font-size:37.14px;">=0.05;Nr=1;kp=.5;</text><rect x="166.67" y="-5.94" width="7.76" height="7.80" fill="#fff"/><rect x="177.85" y="-5.94" width="7.76" height="7.80" fill="#fff"/></g>
<g transform="matrix(0.8787,0,0,1,647.35,121.00)"><text x="0" y="0" style="font-size:37.65px;">Nb=1;Nt=.5;Sc=1;Sb=1;Pe=1;s=1;</text><rect x="71.61" y="-6.02" width="7.87" height="7.91" fill="#fff"/><rect x="82.94" y="-6.02" width="7.87" height="7.91" fill="#fff"/><rect x="270.41" y="-6.02" width="7.87" height="7.91" fill="#fff"/><rect x="281.74" y="-6.02" width="7.87" height="7.91" fill="#fff"/><rect x="369.83" y="-6.02" width="7.87" height="7.91" fill="#fff"/><rect x="381.16" y="-6.02" width="7.87" height="7.91" fill="#fff"/><rect x="469.26" y="-6.02" width="7.87" height="7.91" fill="#fff"/><rect x="480.59" y="-6.02" width="7.87" height="7.91" fill="#fff"/><rect x="541.46" y="-6.02" width="7.87" height="7.91" fill="#fff"/><rect x="552.79" y="-6.02" width="7.87" height="7.91" fill="#fff"/></g>
<g transform="matrix(1.2958,0,0,1,433.86,185.04)"><text x="0" y="0" style="font-size:32.06px;font-family:&quot;Liberation Serif&quot;,serif;">λ</text></g>
<g transform="matrix(0.8849,0,0,1,453.91,185.30)"><text x="0" y="0" style="font-size:37.43px;">=0.5,1,1.5</text><rect x="85.78" y="-5.99" width="7.82" height="7.86" fill="#fff"/><rect x="97.05" y="-5.99" width="7.82" height="7.86" fill="#fff"/><rect x="117.00" y="-5.99" width="7.82" height="7.86" fill="#fff"/><rect x="128.27" y="-5.99" width="7.82" height="7.86" fill="#fff"/></g>
<g transform="matrix(0.8775,0,0,1,792.06,249.80)"><text x="0" y="0" style="font-size:37.65px;">First Solution (Stable)</text></g>
<g transform="matrix(0.9015,0,0,1,165.12,543.50)"><text x="0" y="0" style="font-size:36.43px;">Second Solution (Unstable)</text></g>
<path d="M790.60,712.54 Q791.62,706.69 795.84,706.30 Q798.46,706.30 798.28,709.09 L794.53,726.90 M798.46,710.51 Q801.94,706.21 806.98,706.21 Q812.05,706.30 811.58,710.51 L806.14,736.60" fill="none" stroke="#000" stroke-width="1.65" stroke-linecap="round" stroke-linejoin="round"/>
<path d="M811.5,711.0 L808.7,724.3" fill="none" stroke="#000" stroke-width="2.6" stroke-linecap="round"/>
<path d="M27.2,325.0 C24.6,324.3 23.1,322.6 23.6,320.7 L24.6,319.1 L45.1,323.2 M24.6,319.1 C23.0,316.0 22.8,309.5 23.4,307.3 C24.0,305.2 25.6,304.4 27.8,304.6 L55.4,310.8" fill="none" stroke="#000" stroke-width="1.7" stroke-linecap="round" stroke-linejoin="round"/>
<path d="M7.9,298.2 Q32.5,275.4 57.1,298.2 Q32.5,281.8 7.9,298.2 Z" fill="#000" stroke="#000" stroke-width="0.9"/>
<path d="M7.9,330.5 Q32.5,353.4 57.1,330.5 Q32.5,347.0 7.9,330.5 Z" fill="#000" stroke="#000" stroke-width="0.9"/>
<path d="M5.9,353.8 L23.5,358.9 L23.9,357.9 L6.7,351.4 Z" fill="#000" stroke="#000" stroke-width="0.6" stroke-linejoin="round"/>
<path d="M16.8,364.2 C16.5,361.3 12.8,361.5 12.8,365.5 C12.8,367.8 14.5,369 17.5,370.3" fill="none" stroke="#000" stroke-width="1.3" stroke-linecap="round"/>
<path d="M17.5,370.3 L23.7,372 C32,373 44,375.3 50.3,377.2 C53.5,378.2 55.2,380 55,382 C54.8,384.3 52,385 50.3,383.2" fill="none" stroke="#000" stroke-width="1.8" stroke-linecap="round"/>
<path d="M23.4,364 L23.4,378.6" fill="none" stroke="#000" stroke-width="1.8"/>
<ellipse cx="521.1" cy="270.9" rx="28.5" ry="33.2" fill="none" stroke="#000" stroke-width="1.6" shape-rendering="crispEdges"/>
<ellipse cx="437.2" cy="355.25" rx="30.9" ry="33.4" fill="none" stroke="#000" stroke-width="1.6" shape-rendering="crispEdges"/>
<path d="M209.4,254.9 L386.0,179.9" stroke="#000" stroke-width="1.75" fill="none" shape-rendering="crispEdges"/><path d="M405.0,169.6 L374.6,171.7 L385.3,180.0 L383.3,190.2 Z" fill="#000" stroke="#000" stroke-width="0.6" stroke-linejoin="round"/>
<path d="M761.4,253 H660.4 M660.4,255 H562.5" stroke="#000" stroke-width="2" fill="none" shape-rendering="crispEdges"/>
<path d="M541.2,254.8 L571.5,244.2 L563.1,254.5 L571.5,264.6 Z" fill="#000" stroke="#000" stroke-width="0.6" stroke-linejoin="round"/>
<path d="M366.6,506.7 L411.0,399.2" stroke="#000" stroke-width="1.76" fill="none" shape-rendering="crispEdges"/><path d="M421.4,381.2 L400.0,401.4 L410.8,399.6 L419.0,410.0 Z" fill="#000" stroke="#000" stroke-width="0.6" stroke-linejoin="round"/>
</svg>
</body></html>
